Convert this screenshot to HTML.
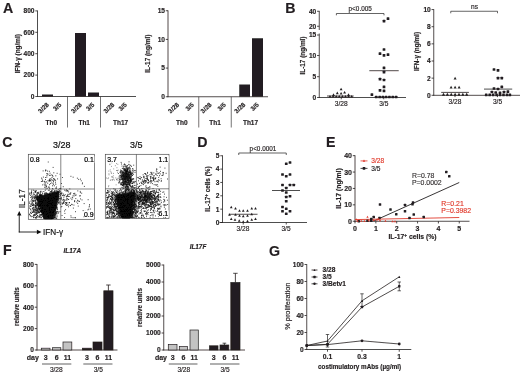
<!DOCTYPE html>
<html><head><meta charset="utf-8"><title>Figure</title>
<style>
html,body{margin:0;padding:0;background:#fff;}
body{width:520px;height:376px;overflow:hidden;}
svg{display:block;font-family:"Liberation Sans",sans-serif;}
</style></head><body>
<svg width="520" height="376" viewBox="0 0 520 376">
<defs><filter id="soft" x="0" y="0" width="520" height="376" filterUnits="userSpaceOnUse"><feGaussianBlur stdDeviation="0.38"/></filter></defs>
<rect width="520" height="376" fill="#fff"/>
<g filter="url(#soft)">
<text x="3.00" y="12.60" text-anchor="start" fill="#231f20" style="font-size:14.2px;font-weight:bold;" stroke="#231f20" stroke-width="0.16">A</text>
<text x="285.30" y="12.60" text-anchor="start" fill="#231f20" style="font-size:14.2px;font-weight:bold;" stroke="#231f20" stroke-width="0.16">B</text>
<text x="2.30" y="147.00" text-anchor="start" fill="#231f20" style="font-size:14.2px;font-weight:bold;" stroke="#231f20" stroke-width="0.16">C</text>
<text x="197.30" y="147.00" text-anchor="start" fill="#231f20" style="font-size:14.2px;font-weight:bold;" stroke="#231f20" stroke-width="0.16">D</text>
<text x="326.00" y="147.00" text-anchor="start" fill="#231f20" style="font-size:14.2px;font-weight:bold;" stroke="#231f20" stroke-width="0.16">E</text>
<text x="3.00" y="254.60" text-anchor="start" fill="#231f20" style="font-size:14.2px;font-weight:bold;" stroke="#231f20" stroke-width="0.16">F</text>
<text x="269.00" y="256.30" text-anchor="start" fill="#231f20" style="font-size:14.2px;font-weight:bold;" stroke="#231f20" stroke-width="0.16">G</text>
<line x1="37.50" y1="10.50" x2="37.50" y2="96.90" stroke="#231f20" stroke-width="0.8" />
<line x1="35.30" y1="96.50" x2="37.50" y2="96.50" stroke="#231f20" stroke-width="0.8" />
<text x="34.50" y="98.88" text-anchor="end" fill="#231f20" style="font-size:6.6px;font-weight:bold;" stroke="#231f20" stroke-width="0.16">0</text>
<line x1="35.30" y1="75.10" x2="37.50" y2="75.10" stroke="#231f20" stroke-width="0.8" />
<text x="34.50" y="77.48" text-anchor="end" fill="#231f20" style="font-size:6.6px;font-weight:bold;" stroke="#231f20" stroke-width="0.16">200</text>
<line x1="35.30" y1="53.70" x2="37.50" y2="53.70" stroke="#231f20" stroke-width="0.8" />
<text x="34.50" y="56.08" text-anchor="end" fill="#231f20" style="font-size:6.6px;font-weight:bold;" stroke="#231f20" stroke-width="0.16">400</text>
<line x1="35.30" y1="32.30" x2="37.50" y2="32.30" stroke="#231f20" stroke-width="0.8" />
<text x="34.50" y="34.68" text-anchor="end" fill="#231f20" style="font-size:6.6px;font-weight:bold;" stroke="#231f20" stroke-width="0.16">600</text>
<line x1="35.30" y1="10.90" x2="37.50" y2="10.90" stroke="#231f20" stroke-width="0.8" />
<text x="34.50" y="13.28" text-anchor="end" fill="#231f20" style="font-size:6.6px;font-weight:bold;" stroke="#231f20" stroke-width="0.16">800</text>
<line x1="37.10" y1="96.50" x2="136.00" y2="96.50" stroke="#231f20" stroke-width="0.8" />
<rect x="42.00" y="94.50" width="11.00" height="2.00" fill="#231f20" stroke="none" stroke-width="0"/>
<rect x="75.00" y="33.00" width="11.00" height="63.50" fill="#231f20" stroke="none" stroke-width="0"/>
<rect x="88.00" y="92.50" width="11.00" height="4.00" fill="#231f20" stroke="none" stroke-width="0"/>
<line x1="67.50" y1="96.50" x2="67.50" y2="127.50" stroke="#3a3637" stroke-width="0.7" />
<line x1="100.50" y1="96.50" x2="100.50" y2="127.50" stroke="#3a3637" stroke-width="0.7" />
<text x="20.04" y="53.70" text-anchor="middle" fill="#231f20" style="font-size:6.4px;font-weight:bold;" transform="rotate(-90 20.04 53.70)" stroke="#231f20" stroke-width="0.16">IFN-&#947; (ng/ml)</text>
<text x="49.40" y="105.30" text-anchor="end" fill="#231f20" style="font-size:6.3px;font-weight:bold;" transform="rotate(-43 49.40 105.30)" stroke="#231f20" stroke-width="0.16">3/28</text>
<text x="61.90" y="105.30" text-anchor="end" fill="#231f20" style="font-size:6.3px;font-weight:bold;" transform="rotate(-43 61.90 105.30)" stroke="#231f20" stroke-width="0.16">3/5</text>
<text x="82.40" y="105.30" text-anchor="end" fill="#231f20" style="font-size:6.3px;font-weight:bold;" transform="rotate(-43 82.40 105.30)" stroke="#231f20" stroke-width="0.16">3/28</text>
<text x="94.90" y="105.30" text-anchor="end" fill="#231f20" style="font-size:6.3px;font-weight:bold;" transform="rotate(-43 94.90 105.30)" stroke="#231f20" stroke-width="0.16">3/5</text>
<text x="114.90" y="105.30" text-anchor="end" fill="#231f20" style="font-size:6.3px;font-weight:bold;" transform="rotate(-43 114.90 105.30)" stroke="#231f20" stroke-width="0.16">3/28</text>
<text x="127.40" y="105.30" text-anchor="end" fill="#231f20" style="font-size:6.3px;font-weight:bold;" transform="rotate(-43 127.40 105.30)" stroke="#231f20" stroke-width="0.16">3/5</text>
<text x="51.30" y="124.70" text-anchor="middle" fill="#231f20" style="font-size:6.5px;font-weight:bold;" stroke="#231f20" stroke-width="0.16">Th0</text>
<text x="84.20" y="124.70" text-anchor="middle" fill="#231f20" style="font-size:6.5px;font-weight:bold;" stroke="#231f20" stroke-width="0.16">Th1</text>
<text x="120.60" y="124.70" text-anchor="middle" fill="#231f20" style="font-size:6.5px;font-weight:bold;" stroke="#231f20" stroke-width="0.16">Th17</text>
<line x1="168.00" y1="10.34" x2="168.00" y2="97.15" stroke="#231f20" stroke-width="0.8" />
<line x1="165.80" y1="96.75" x2="168.00" y2="96.75" stroke="#231f20" stroke-width="0.8" />
<text x="165.00" y="99.13" text-anchor="end" fill="#231f20" style="font-size:6.6px;font-weight:bold;" stroke="#231f20" stroke-width="0.16">0</text>
<line x1="165.80" y1="68.08" x2="168.00" y2="68.08" stroke="#231f20" stroke-width="0.8" />
<text x="165.00" y="70.46" text-anchor="end" fill="#231f20" style="font-size:6.6px;font-weight:bold;" stroke="#231f20" stroke-width="0.16">5</text>
<line x1="165.80" y1="39.41" x2="168.00" y2="39.41" stroke="#231f20" stroke-width="0.8" />
<text x="165.00" y="41.79" text-anchor="end" fill="#231f20" style="font-size:6.6px;font-weight:bold;" stroke="#231f20" stroke-width="0.16">10</text>
<line x1="165.80" y1="10.74" x2="168.00" y2="10.74" stroke="#231f20" stroke-width="0.8" />
<text x="165.00" y="13.12" text-anchor="end" fill="#231f20" style="font-size:6.6px;font-weight:bold;" stroke="#231f20" stroke-width="0.16">15</text>
<line x1="167.60" y1="96.75" x2="268.00" y2="96.75" stroke="#231f20" stroke-width="0.8" />
<rect x="239.25" y="84.50" width="10.75" height="12.25" fill="#231f20" stroke="none" stroke-width="0"/>
<rect x="252.00" y="38.25" width="11.00" height="58.50" fill="#231f20" stroke="none" stroke-width="0"/>
<line x1="198.75" y1="96.75" x2="198.75" y2="127.50" stroke="#3a3637" stroke-width="0.7" />
<line x1="231.25" y1="96.75" x2="231.25" y2="127.50" stroke="#3a3637" stroke-width="0.7" />
<text x="150.24" y="53.70" text-anchor="middle" fill="#231f20" style="font-size:6.4px;font-weight:bold;" transform="rotate(-90 150.24 53.70)" stroke="#231f20" stroke-width="0.16">IL-17 (ng/ml)</text>
<text x="179.60" y="105.30" text-anchor="end" fill="#231f20" style="font-size:6.3px;font-weight:bold;" transform="rotate(-43 179.60 105.30)" stroke="#231f20" stroke-width="0.16">3/28</text>
<text x="194.40" y="105.30" text-anchor="end" fill="#231f20" style="font-size:6.3px;font-weight:bold;" transform="rotate(-43 194.40 105.30)" stroke="#231f20" stroke-width="0.16">3/5</text>
<text x="212.10" y="105.30" text-anchor="end" fill="#231f20" style="font-size:6.3px;font-weight:bold;" transform="rotate(-43 212.10 105.30)" stroke="#231f20" stroke-width="0.16">3/28</text>
<text x="226.40" y="105.30" text-anchor="end" fill="#231f20" style="font-size:6.3px;font-weight:bold;" transform="rotate(-43 226.40 105.30)" stroke="#231f20" stroke-width="0.16">3/5</text>
<text x="245.80" y="105.30" text-anchor="end" fill="#231f20" style="font-size:6.3px;font-weight:bold;" transform="rotate(-43 245.80 105.30)" stroke="#231f20" stroke-width="0.16">3/28</text>
<text x="259.40" y="105.30" text-anchor="end" fill="#231f20" style="font-size:6.3px;font-weight:bold;" transform="rotate(-43 259.40 105.30)" stroke="#231f20" stroke-width="0.16">3/5</text>
<text x="181.80" y="124.70" text-anchor="middle" fill="#231f20" style="font-size:6.5px;font-weight:bold;" stroke="#231f20" stroke-width="0.16">Th0</text>
<text x="215.00" y="124.70" text-anchor="middle" fill="#231f20" style="font-size:6.5px;font-weight:bold;" stroke="#231f20" stroke-width="0.16">Th1</text>
<text x="250.50" y="124.70" text-anchor="middle" fill="#231f20" style="font-size:6.5px;font-weight:bold;" stroke="#231f20" stroke-width="0.16">Th17</text>
<line x1="319.25" y1="10.90" x2="319.25" y2="30.00" stroke="#231f20" stroke-width="0.8" />
<line x1="319.25" y1="33.50" x2="319.25" y2="97.90" stroke="#231f20" stroke-width="0.8" />
<line x1="317.05" y1="11.25" x2="319.25" y2="11.25" stroke="#231f20" stroke-width="0.8" />
<text x="316.25" y="13.65" text-anchor="end" fill="#231f20" style="font-size:6.6px;font-weight:bold;" stroke="#231f20" stroke-width="0.16">40</text>
<line x1="317.05" y1="26.25" x2="319.25" y2="26.25" stroke="#231f20" stroke-width="0.8" />
<text x="316.25" y="28.65" text-anchor="end" fill="#231f20" style="font-size:6.6px;font-weight:bold;" stroke="#231f20" stroke-width="0.16">20</text>
<line x1="317.05" y1="35.00" x2="319.25" y2="35.00" stroke="#231f20" stroke-width="0.8" />
<text x="316.25" y="37.40" text-anchor="end" fill="#231f20" style="font-size:6.6px;font-weight:bold;" stroke="#231f20" stroke-width="0.16">15</text>
<line x1="317.05" y1="55.50" x2="319.25" y2="55.50" stroke="#231f20" stroke-width="0.8" />
<text x="316.25" y="57.90" text-anchor="end" fill="#231f20" style="font-size:6.6px;font-weight:bold;" stroke="#231f20" stroke-width="0.16">10</text>
<line x1="317.05" y1="76.70" x2="319.25" y2="76.70" stroke="#231f20" stroke-width="0.8" />
<text x="316.25" y="79.10" text-anchor="end" fill="#231f20" style="font-size:6.6px;font-weight:bold;" stroke="#231f20" stroke-width="0.16">5</text>
<line x1="317.05" y1="97.50" x2="319.25" y2="97.50" stroke="#231f20" stroke-width="0.8" />
<text x="316.25" y="99.90" text-anchor="end" fill="#231f20" style="font-size:6.6px;font-weight:bold;" stroke="#231f20" stroke-width="0.16">0</text>
<line x1="318.85" y1="97.50" x2="406.00" y2="97.50" stroke="#231f20" stroke-width="0.8" />
<line x1="341.25" y1="97.50" x2="341.25" y2="99.30" stroke="#231f20" stroke-width="0.8" />
<line x1="383.75" y1="97.50" x2="383.75" y2="99.30" stroke="#231f20" stroke-width="0.8" />
<text x="341.25" y="105.80" text-anchor="middle" fill="#231f20" style="font-size:6.6px;" stroke="#231f20" stroke-width="0.16">3/28</text>
<text x="383.75" y="105.80" text-anchor="middle" fill="#231f20" style="font-size:6.6px;" stroke="#231f20" stroke-width="0.16">3/5</text>
<text x="304.74" y="55.50" text-anchor="middle" fill="#231f20" style="font-size:6.4px;font-weight:bold;" transform="rotate(-90 304.74 55.50)" stroke="#231f20" stroke-width="0.16">IL-17 (ng/ml)</text>
<polyline points="336.40,15.30 336.40,13.50 384.00,13.50 384.00,15.30" fill="none" stroke="#231f20" stroke-width="0.7"/>
<text x="360.20" y="11.20" text-anchor="middle" fill="#231f20" style="font-size:6.4px;" stroke="#231f20" stroke-width="0.16">p&lt;0.005</text>
<line x1="327.00" y1="96.00" x2="353.70" y2="96.00" stroke="#231f20" stroke-width="0.8" />
<line x1="369.30" y1="70.70" x2="398.70" y2="70.70" stroke="#231f20" stroke-width="0.8" />
<polygon points="330.00,94.89 328.55,97.51 331.45,97.51" fill="#231f20"/>
<polygon points="333.10,94.89 331.65,97.51 334.55,97.51" fill="#231f20"/>
<polygon points="336.20,94.89 334.75,97.51 337.65,97.51" fill="#231f20"/>
<polygon points="339.30,94.89 337.85,97.51 340.75,97.51" fill="#231f20"/>
<polygon points="342.40,94.89 340.95,97.51 343.85,97.51" fill="#231f20"/>
<polygon points="345.50,94.89 344.05,97.51 346.95,97.51" fill="#231f20"/>
<polygon points="348.60,94.89 347.15,97.51 350.05,97.51" fill="#231f20"/>
<polygon points="351.70,94.89 350.25,97.51 353.15,97.51" fill="#231f20"/>
<polygon points="341.10,87.69 339.65,90.31 342.55,90.31" fill="#231f20"/>
<polygon points="337.30,91.59 335.85,94.21 338.75,94.21" fill="#231f20"/>
<polygon points="341.10,91.99 339.65,94.61 342.55,94.61" fill="#231f20"/>
<polygon points="344.60,90.89 343.15,93.51 346.05,93.51" fill="#231f20"/>
<polygon points="333.50,93.29 332.05,95.91 334.95,95.91" fill="#231f20"/>
<polygon points="348.50,93.29 347.05,95.91 349.95,95.91" fill="#231f20"/>
<rect x="382.65" y="48.15" width="2.7" height="2.7" rx="0.5" fill="#231f20"/>
<rect x="378.65" y="52.35" width="2.7" height="2.7" rx="0.5" fill="#231f20"/>
<rect x="382.65" y="54.05" width="2.7" height="2.7" rx="0.5" fill="#231f20"/>
<rect x="386.65" y="53.25" width="2.7" height="2.7" rx="0.5" fill="#231f20"/>
<rect x="382.65" y="66.45" width="2.7" height="2.7" rx="0.5" fill="#231f20"/>
<rect x="382.65" y="70.75" width="2.7" height="2.7" rx="0.5" fill="#231f20"/>
<rect x="378.65" y="77.85" width="2.7" height="2.7" rx="0.5" fill="#231f20"/>
<rect x="382.65" y="78.65" width="2.7" height="2.7" rx="0.5" fill="#231f20"/>
<rect x="382.65" y="85.45" width="2.7" height="2.7" rx="0.5" fill="#231f20"/>
<rect x="378.65" y="88.95" width="2.7" height="2.7" rx="0.5" fill="#231f20"/>
<rect x="382.65" y="89.45" width="2.7" height="2.7" rx="0.5" fill="#231f20"/>
<rect x="370.55" y="93.25" width="2.7" height="2.7" rx="0.5" fill="#231f20"/>
<rect x="382.65" y="19.75" width="2.7" height="2.7" rx="0.5" fill="#231f20"/>
<rect x="386.65" y="17.35" width="2.7" height="2.7" rx="0.5" fill="#231f20"/>
<rect x="374.85" y="95.65" width="2.7" height="2.7" rx="0.5" fill="#231f20"/>
<rect x="378.35" y="95.65" width="2.7" height="2.7" rx="0.5" fill="#231f20"/>
<rect x="381.55" y="95.65" width="2.7" height="2.7" rx="0.5" fill="#231f20"/>
<rect x="384.75" y="95.65" width="2.7" height="2.7" rx="0.5" fill="#231f20"/>
<rect x="388.05" y="95.65" width="2.7" height="2.7" rx="0.5" fill="#231f20"/>
<rect x="391.45" y="95.65" width="2.7" height="2.7" rx="0.5" fill="#231f20"/>
<rect x="394.75" y="95.65" width="2.7" height="2.7" rx="0.5" fill="#231f20"/>
<line x1="433.75" y1="9.15" x2="433.75" y2="95.70" stroke="#231f20" stroke-width="0.8" />
<line x1="431.55" y1="95.30" x2="433.75" y2="95.30" stroke="#231f20" stroke-width="0.8" />
<text x="430.75" y="97.68" text-anchor="end" fill="#231f20" style="font-size:6.6px;font-weight:bold;" stroke="#231f20" stroke-width="0.16">0</text>
<line x1="431.55" y1="78.15" x2="433.75" y2="78.15" stroke="#231f20" stroke-width="0.8" />
<text x="430.75" y="80.53" text-anchor="end" fill="#231f20" style="font-size:6.6px;font-weight:bold;" stroke="#231f20" stroke-width="0.16">2</text>
<line x1="431.55" y1="61.00" x2="433.75" y2="61.00" stroke="#231f20" stroke-width="0.8" />
<text x="430.75" y="63.38" text-anchor="end" fill="#231f20" style="font-size:6.6px;font-weight:bold;" stroke="#231f20" stroke-width="0.16">4</text>
<line x1="431.55" y1="43.85" x2="433.75" y2="43.85" stroke="#231f20" stroke-width="0.8" />
<text x="430.75" y="46.23" text-anchor="end" fill="#231f20" style="font-size:6.6px;font-weight:bold;" stroke="#231f20" stroke-width="0.16">6</text>
<line x1="431.55" y1="26.70" x2="433.75" y2="26.70" stroke="#231f20" stroke-width="0.8" />
<text x="430.75" y="29.08" text-anchor="end" fill="#231f20" style="font-size:6.6px;font-weight:bold;" stroke="#231f20" stroke-width="0.16">8</text>
<line x1="431.55" y1="9.55" x2="433.75" y2="9.55" stroke="#231f20" stroke-width="0.8" />
<text x="430.75" y="11.93" text-anchor="end" fill="#231f20" style="font-size:6.6px;font-weight:bold;" stroke="#231f20" stroke-width="0.16">10</text>
<line x1="433.35" y1="95.30" x2="520.00" y2="95.30" stroke="#231f20" stroke-width="0.8" />
<line x1="455.00" y1="95.30" x2="455.00" y2="97.10" stroke="#231f20" stroke-width="0.8" />
<line x1="497.50" y1="95.30" x2="497.50" y2="97.10" stroke="#231f20" stroke-width="0.8" />
<text x="455.00" y="103.60" text-anchor="middle" fill="#231f20" style="font-size:6.6px;" stroke="#231f20" stroke-width="0.16">3/28</text>
<text x="497.50" y="103.60" text-anchor="middle" fill="#231f20" style="font-size:6.6px;" stroke="#231f20" stroke-width="0.16">3/5</text>
<text x="419.24" y="51.50" text-anchor="middle" fill="#231f20" style="font-size:6.4px;font-weight:bold;" transform="rotate(-90 419.24 51.50)" stroke="#231f20" stroke-width="0.16">IFN-&#947; (ng/ml)</text>
<polyline points="450.75,13.25 450.75,11.25 497.50,11.25 497.50,13.25" fill="none" stroke="#231f20" stroke-width="0.7"/>
<text x="474.50" y="9.00" text-anchor="middle" fill="#231f20" style="font-size:6.6px;" stroke="#231f20" stroke-width="0.16">ns</text>
<line x1="441.20" y1="92.40" x2="468.90" y2="92.40" stroke="#231f20" stroke-width="0.8" />
<line x1="484.00" y1="89.10" x2="512.20" y2="89.10" stroke="#231f20" stroke-width="0.8" />
<polygon points="455.10,76.85 453.60,79.55 456.60,79.55" fill="#231f20"/>
<polygon points="451.10,85.85 449.60,88.55 452.60,88.55" fill="#231f20"/>
<polygon points="455.10,85.85 453.60,88.55 456.60,88.55" fill="#231f20"/>
<polygon points="459.10,85.85 457.60,88.55 460.60,88.55" fill="#231f20"/>
<polygon points="443.50,92.72 441.85,95.69 445.15,95.69" fill="#231f20"/>
<polygon points="447.37,92.72 445.72,95.69 449.02,95.69" fill="#231f20"/>
<polygon points="451.24,92.72 449.59,95.69 452.89,95.69" fill="#231f20"/>
<polygon points="455.11,92.72 453.46,95.69 456.76,95.69" fill="#231f20"/>
<polygon points="458.98,92.72 457.33,95.69 460.63,95.69" fill="#231f20"/>
<polygon points="462.85,92.72 461.20,95.69 464.50,95.69" fill="#231f20"/>
<polygon points="466.72,92.72 465.07,95.69 468.37,95.69" fill="#231f20"/>
<rect x="492.65" y="68.15" width="2.7" height="2.7" rx="0.5" fill="#231f20"/>
<rect x="496.65" y="69.05" width="2.7" height="2.7" rx="0.5" fill="#231f20"/>
<rect x="496.65" y="76.85" width="2.7" height="2.7" rx="0.5" fill="#231f20"/>
<rect x="500.45" y="76.85" width="2.7" height="2.7" rx="0.5" fill="#231f20"/>
<rect x="500.45" y="85.45" width="2.7" height="2.7" rx="0.5" fill="#231f20"/>
<rect x="492.65" y="87.15" width="2.7" height="2.7" rx="0.5" fill="#231f20"/>
<rect x="496.65" y="87.65" width="2.7" height="2.7" rx="0.5" fill="#231f20"/>
<rect x="490.55" y="90.65" width="2.7" height="2.7" rx="0.5" fill="#231f20"/>
<rect x="494.35" y="91.15" width="2.7" height="2.7" rx="0.5" fill="#231f20"/>
<rect x="498.65" y="91.55" width="2.7" height="2.7" rx="0.5" fill="#231f20"/>
<rect x="502.65" y="90.65" width="2.7" height="2.7" rx="0.5" fill="#231f20"/>
<rect x="506.55" y="90.35" width="2.7" height="2.7" rx="0.5" fill="#231f20"/>
<rect x="484.90" y="93.60" width="2.6" height="2.6" rx="0.5" fill="#231f20"/>
<rect x="488.40" y="93.60" width="2.6" height="2.6" rx="0.5" fill="#231f20"/>
<rect x="491.80" y="93.60" width="2.6" height="2.6" rx="0.5" fill="#231f20"/>
<rect x="495.30" y="93.60" width="2.6" height="2.6" rx="0.5" fill="#231f20"/>
<rect x="498.70" y="93.60" width="2.6" height="2.6" rx="0.5" fill="#231f20"/>
<rect x="502.20" y="93.60" width="2.6" height="2.6" rx="0.5" fill="#231f20"/>
<rect x="505.70" y="93.60" width="2.6" height="2.6" rx="0.5" fill="#231f20"/>
<rect x="508.60" y="93.60" width="2.6" height="2.6" rx="0.5" fill="#231f20"/>
<polygon points="36.4,197.0 59.3,191.4 52.4,219.0 44.4,219.0" fill="#0c0c0c" stroke="#0c0c0c" stroke-width="0.8" stroke-linejoin="round"/>
<path d="M44.0 198.3h0.85M50.2 203.7h0.85M41.0 206.7h0.85M48.2 215.5h0.85M48.2 217.0h0.85M59.2 191.9h0.85M39.5 201.3h0.85M42.8 208.3h0.85M49.8 195.9h0.85M50.3 205.9h0.85M47.7 199.7h0.85M41.7 208.6h0.85M53.0 200.3h0.85M48.3 214.4h0.85M42.4 209.8h0.85M54.2 198.8h0.85M51.2 202.4h0.85M49.9 211.5h0.85M50.1 217.8h0.85M48.3 211.2h0.85M43.1 199.6h0.85M38.7 203.7h0.85M38.5 205.7h0.85M51.3 216.8h0.85M47.7 216.0h0.85M41.9 202.9h0.85M51.1 200.4h0.85M48.3 207.9h0.85M48.2 209.1h0.85M54.5 211.3h0.85M47.8 205.7h0.85M38.5 199.0h0.85M45.1 196.4h0.85M43.9 205.1h0.85M50.3 198.6h0.85M47.6 194.3h0.85M48.1 206.6h0.85M45.4 200.7h0.85M43.4 217.8h0.85M45.0 194.0h0.85M52.7 212.2h0.85M42.1 213.3h0.85M46.2 196.7h0.85M53.1 211.7h0.85M43.8 208.0h0.85M39.0 205.2h0.85M59.4 202.3h0.85M56.2 202.6h0.85M39.8 198.5h0.85M52.0 203.0h0.85M44.9 210.1h0.85M53.1 207.5h0.85M47.8 214.0h0.85M47.4 216.9h0.85M42.3 198.3h0.85M46.6 214.8h0.85M46.1 208.4h0.85M51.2 208.8h0.85M48.1 215.0h0.85M43.5 204.3h0.85M46.2 207.6h0.85M43.1 204.5h0.85M45.9 217.0h0.85M47.6 194.9h0.85M43.6 216.0h0.85M50.7 208.9h0.85M50.3 214.7h0.85M43.5 200.4h0.85M50.3 212.2h0.85M47.7 206.3h0.85M44.1 208.0h0.85M51.3 215.4h0.85M49.3 216.9h0.85M42.9 206.8h0.85M43.3 208.7h0.85M43.6 211.9h0.85M49.2 206.4h0.85M41.2 205.9h0.85M42.5 203.0h0.85M50.2 205.1h0.85M53.8 208.2h0.85M43.0 214.8h0.85M48.1 215.9h0.85M43.2 216.2h0.85M38.3 196.4h0.85M42.9 215.7h0.85M46.6 216.9h0.85M44.2 201.7h0.85M42.0 198.4h0.85M40.8 200.3h0.85M44.6 201.3h0.85M47.8 198.8h0.85M42.0 194.2h0.85M43.8 206.6h0.85M50.7 204.0h0.85M45.0 203.4h0.85M46.1 213.1h0.85M47.0 203.4h0.85M43.1 214.0h0.85M45.4 213.9h0.85M43.4 202.6h0.85M42.2 209.9h0.85M55.2 210.2h0.85M46.1 203.7h0.85M48.2 208.3h0.85M39.8 203.5h0.85M37.2 198.2h0.85M49.4 205.0h0.85M49.5 216.7h0.85M57.6 193.6h0.85M45.1 214.1h0.85M51.9 215.4h0.85M49.2 212.4h0.85M48.3 214.3h0.85M42.7 197.4h0.85M42.3 214.6h0.85M49.7 210.9h0.85M50.0 212.3h0.85M51.3 193.9h0.85M39.8 201.6h0.85M49.0 218.4h0.85M48.2 209.3h0.85M51.6 196.2h0.85M52.3 200.7h0.85M38.7 200.8h0.85M49.7 200.6h0.85M47.9 196.7h0.85M54.2 217.4h0.85M50.0 218.5h0.85M43.4 207.9h0.85M54.7 204.5h0.85M45.5 216.6h0.85M39.3 208.2h0.85M40.6 206.5h0.85M42.8 212.9h0.85M54.4 210.5h0.85M47.8 204.4h0.85M45.7 205.7h0.85M43.4 218.5h0.85M42.3 201.8h0.85M49.2 216.2h0.85M51.2 216.1h0.85M52.6 192.7h0.85M51.5 210.1h0.85M55.6 195.5h0.85M46.9 212.7h0.85M49.6 200.6h0.85M41.9 202.7h0.85M51.8 197.1h0.85M47.1 198.5h0.85M44.6 198.3h0.85M49.0 214.7h0.85M45.9 208.3h0.85M40.5 202.7h0.85M48.9 209.1h0.85M42.4 202.2h0.85M53.2 214.7h0.85M43.7 211.6h0.85M47.4 195.7h0.85M52.7 215.0h0.85M37.8 199.6h0.85M52.2 209.5h0.85M49.9 208.6h0.85M45.2 216.2h0.85M39.4 200.4h0.85M37.6 197.7h0.85M45.6 200.1h0.85M46.9 205.7h0.85M54.3 205.9h0.85M53.8 211.2h0.85M47.3 211.4h0.85M49.9 217.4h0.85M45.0 204.3h0.85M50.8 212.1h0.85M57.0 199.2h0.85M44.1 216.7h0.85M48.1 200.3h0.85M42.9 203.7h0.85M51.4 218.4h0.85M45.5 217.2h0.85M50.0 203.9h0.85M40.0 197.4h0.85M58.4 194.8h0.85M47.4 213.4h0.85M38.8 209.5h0.85M43.0 204.1h0.85M47.4 214.0h0.85M38.6 197.7h0.85M50.1 217.3h0.85M54.3 210.7h0.85M46.9 201.8h0.85M54.1 209.0h0.85M47.2 205.8h0.85M44.3 201.6h0.85M57.3 194.6h0.85M51.0 212.2h0.85M45.0 203.3h0.85M44.7 213.8h0.85M39.5 212.6h0.85M41.5 206.2h0.85M42.1 204.0h0.85M50.5 214.4h0.85M53.1 199.6h0.85M52.7 199.1h0.85M43.9 215.8h0.85M52.9 209.8h0.85M49.7 211.9h0.85M40.2 203.9h0.85M56.1 207.0h0.85M53.9 206.6h0.85M55.8 193.5h0.85M43.7 205.1h0.85M44.2 208.8h0.85M38.8 203.4h0.85M44.7 198.4h0.85M37.2 200.0h0.85M52.0 197.6h0.85M45.1 204.8h0.85M44.5 209.8h0.85M55.5 198.3h0.85M45.1 216.2h0.85M48.9 198.6h0.85M51.3 217.7h0.85M46.8 208.0h0.85M49.8 218.2h0.85M51.6 218.4h0.85M57.0 201.3h0.85M54.8 195.7h0.85M47.8 214.5h0.85M41.9 204.9h0.85M40.3 199.0h0.85M41.5 208.9h0.85M53.6 194.4h0.85M48.7 202.2h0.85M45.8 211.2h0.85M40.6 210.6h0.85M50.4 213.4h0.85M48.4 198.1h0.85M41.0 206.4h0.85M50.6 193.1h0.85M46.8 195.5h0.85M60.2 191.7h0.85M52.2 217.9h0.85M49.0 217.5h0.85M52.2 217.7h0.85M54.1 196.3h0.85M51.3 196.2h0.85M41.2 201.9h0.85M40.3 203.6h0.85M51.3 218.4h0.85M41.5 207.4h0.85M51.1 205.6h0.85M44.2 217.8h0.85M55.5 199.4h0.85M45.8 213.7h0.85M53.7 193.1h0.85M47.8 217.5h0.85M44.3 195.5h0.85M47.0 204.3h0.85M40.6 201.2h0.85M40.3 205.6h0.85M43.5 208.8h0.85M52.3 208.1h0.85M44.3 200.3h0.85M51.6 213.8h0.85M40.5 210.7h0.85M52.6 203.9h0.85M47.6 217.2h0.85M48.4 201.4h0.85M41.7 208.8h0.85M42.0 209.9h0.85M53.9 198.2h0.85M44.4 214.4h0.85M43.2 214.0h0.85M52.1 205.3h0.85M40.7 198.6h0.85M50.1 213.9h0.85M49.4 203.2h0.85M46.0 210.4h0.85M56.4 193.5h0.85M50.5 216.3h0.85M55.1 204.0h0.85M47.9 207.8h0.85M47.1 212.4h0.85M46.4 211.8h0.85M47.0 211.7h0.85M42.4 198.8h0.85M45.1 198.5h0.85M50.0 207.4h0.85M40.4 211.8h0.85M54.0 217.2h0.85M52.8 218.1h0.85M40.7 195.1h0.85M48.9 213.7h0.85M39.4 197.7h0.85M46.2 205.4h0.85M44.8 213.2h0.85M56.4 203.8h0.85M38.0 206.9h0.85M45.4 211.7h0.85M56.1 193.8h0.85M38.3 197.6h0.85M37.9 207.9h0.85M41.7 209.5h0.85M52.7 207.3h0.85M42.8 211.9h0.85M49.2 203.4h0.85M56.6 194.1h0.85M43.8 201.0h0.85M47.3 217.7h0.85M48.7 210.8h0.85M46.8 205.1h0.85M50.9 213.7h0.85M53.2 209.0h0.85M55.9 199.6h0.85M50.9 215.6h0.85M42.7 203.1h0.85M46.7 199.3h0.85M53.5 211.9h0.85M44.9 211.2h0.85M43.4 197.1h0.85M50.1 204.9h0.85M41.3 211.3h0.85M52.7 202.5h0.85M45.9 197.4h0.85M52.9 209.4h0.85M49.6 206.8h0.85M41.8 203.7h0.85M49.1 200.6h0.85M48.7 201.1h0.85M44.3 209.7h0.85M46.0 213.4h0.85M40.3 208.8h0.85M49.2 208.5h0.85M49.9 216.1h0.85M44.5 197.8h0.85M38.1 207.2h0.85M45.6 203.7h0.85M55.2 208.6h0.85M47.5 201.7h0.85M50.6 209.6h0.85M50.6 214.3h0.85M49.6 195.9h0.85M53.9 200.1h0.85M48.7 199.2h0.85M43.3 202.7h0.85M46.5 209.0h0.85M55.1 216.0h0.85M54.5 215.2h0.85M54.3 194.1h0.85M51.6 200.2h0.85M44.8 214.4h0.85M54.2 215.9h0.85M48.0 210.9h0.85M52.0 216.8h0.85M45.9 213.6h0.85M49.1 201.3h0.85M47.0 195.8h0.85M45.3 205.9h0.85M41.4 215.9h0.85M49.0 215.9h0.85M56.6 192.2h0.85M40.3 207.4h0.85M45.4 218.5h0.85M56.4 191.0h0.85M45.6 216.9h0.85M48.9 214.7h0.85M47.6 207.1h0.85M52.5 203.1h0.85M47.0 216.3h0.85M44.4 204.5h0.85M52.0 214.0h0.85M55.0 207.1h0.85M39.7 200.2h0.85M51.7 212.5h0.85M49.2 207.7h0.85M50.8 197.3h0.85M53.7 195.7h0.85M50.2 215.6h0.85M50.9 212.9h0.85M44.2 206.7h0.85M51.3 217.9h0.85M38.9 197.7h0.85M56.3 204.1h0.85M50.8 217.2h0.85M45.4 196.4h0.85M42.1 196.6h0.85M39.3 195.7h0.85M54.9 198.5h0.85M50.4 214.7h0.85M46.7 212.4h0.85M46.2 218.0h0.85M42.0 210.8h0.85M47.4 215.0h0.85M46.3 197.1h0.85M49.0 213.1h0.85M45.4 209.4h0.85M49.3 213.0h0.85M52.8 202.6h0.85M49.5 216.2h0.85M52.4 213.7h0.85M46.1 217.8h0.85M49.7 215.3h0.85M36.9 203.7h0.85M54.0 216.7h0.85M50.4 215.0h0.85M50.9 211.0h0.85M42.2 196.3h0.85M45.7 212.8h0.85M48.7 211.0h0.85M45.8 211.7h0.85M43.9 213.6h0.85M50.4 215.3h0.85M48.2 209.7h0.85M43.1 213.5h0.85M46.9 207.6h0.85M58.2 203.0h0.85M52.8 196.0h0.85M52.5 195.5h0.85M52.9 204.8h0.85M55.0 203.1h0.85M51.1 218.4h0.85M42.3 200.3h0.85M45.6 216.6h0.85M55.7 192.8h0.85M48.9 216.7h0.85M51.1 197.5h0.85M41.6 198.0h0.85M52.4 216.0h0.85M49.3 208.1h0.85M38.8 196.6h0.85M49.3 199.6h0.85M40.9 204.4h0.85M47.6 199.2h0.85M51.7 192.6h0.85M52.9 217.2h0.85M45.8 215.7h0.85M47.9 201.4h0.85M50.7 197.6h0.85M53.0 209.6h0.85M44.8 206.1h0.85M54.9 202.6h0.85M43.6 215.8h0.85M47.5 202.3h0.85M40.9 202.7h0.85M52.5 200.5h0.85M53.6 201.6h0.85M53.7 207.8h0.85M55.4 197.5h0.85M44.4 212.8h0.85M37.5 197.5h0.85M41.8 198.9h0.85M52.8 208.4h0.85M51.9 203.1h0.85M55.1 199.0h0.85M49.0 193.8h0.85M56.1 201.7h0.85M43.9 200.2h0.85M39.0 209.0h0.85M44.7 210.0h0.85M44.3 213.7h0.85M45.6 215.7h0.85M48.1 207.3h0.85M57.4 198.3h0.85M46.2 214.8h0.85M53.8 198.4h0.85M49.1 206.3h0.85M53.4 211.6h0.85M47.9 207.3h0.85M43.6 196.5h0.85M43.1 208.4h0.85M50.2 218.3h0.85M50.6 208.4h0.85M53.1 202.8h0.85M48.9 215.6h0.85M53.1 215.5h0.85M49.8 202.7h0.85M47.9 207.0h0.85M55.4 212.1h0.85M51.6 215.7h0.85M50.2 199.2h0.85M48.0 216.4h0.85M49.5 204.5h0.85M47.0 211.9h0.85M54.9 207.3h0.85M49.2 198.2h0.85M44.3 206.0h0.85M43.1 207.2h0.85M49.8 212.3h0.85M46.4 206.9h0.85M44.6 202.7h0.85M47.8 209.1h0.85M53.5 198.0h0.85M41.4 196.6h0.85M38.4 206.2h0.85M42.6 200.9h0.85M40.6 205.5h0.85M50.2 213.7h0.85M51.2 210.7h0.85M52.4 210.9h0.85M56.5 190.4h0.85M47.1 217.4h0.85M50.1 214.8h0.85M47.1 204.6h0.85M45.6 209.1h0.85M49.7 215.0h0.85M43.3 204.4h0.85M50.7 195.4h0.85M52.8 214.4h0.85M48.1 216.8h0.85M51.2 205.2h0.85M50.1 204.7h0.85M46.3 216.2h0.85M39.6 205.9h0.85M50.6 215.6h0.85M48.7 209.8h0.85M49.2 215.5h0.85M52.7 214.2h0.85M55.0 206.8h0.85M55.2 204.3h0.85M48.6 207.5h0.85M47.3 212.4h0.85M48.8 195.8h0.85M47.0 211.7h0.85M52.6 207.1h0.85M47.9 209.9h0.85M47.4 218.3h0.85M40.2 199.2h0.85M37.2 199.9h0.85M49.7 214.2h0.85M52.6 199.9h0.85M44.2 203.9h0.85M48.2 203.0h0.85M41.0 214.8h0.85M47.4 210.1h0.85M51.5 217.8h0.85M51.0 198.4h0.85M51.2 201.4h0.85M48.1 214.7h0.85M46.2 199.3h0.85M47.9 196.5h0.85M47.6 198.2h0.85M45.5 202.0h0.85M41.3 195.4h0.85M44.9 212.9h0.85M52.5 196.7h0.85M52.8 198.5h0.85M47.4 200.0h0.85M53.4 198.7h0.85M44.7 200.3h0.85M54.0 195.3h0.85M44.1 215.0h0.85M48.8 202.0h0.85M44.1 217.4h0.85M41.4 210.4h0.85M43.1 197.8h0.85M43.4 214.0h0.85M55.0 211.0h0.85M43.2 202.9h0.85M49.2 203.4h0.85M52.6 198.5h0.85M52.9 200.2h0.85M51.5 211.6h0.85M40.8 201.9h0.85M39.0 203.0h0.85M52.8 206.5h0.85M47.4 211.3h0.85M52.0 213.4h0.85M54.1 208.8h0.85M44.7 217.3h0.85M52.8 193.7h0.85M50.8 215.1h0.85M57.4 202.4h0.85M49.8 213.4h0.85M41.2 213.0h0.85M56.9 194.9h0.85M50.4 215.7h0.85M53.5 208.8h0.85M39.5 205.2h0.85M43.4 196.5h0.85M41.4 201.2h0.85M54.9 204.1h0.85M41.7 211.3h0.85M49.8 214.8h0.85M50.0 202.7h0.85M40.2 203.6h0.85M40.5 205.0h0.85M46.1 198.7h0.85M45.3 199.1h0.85M56.0 213.2h0.85M56.4 208.0h0.85M46.5 199.2h0.85M51.5 207.0h0.85M50.9 200.6h0.85M43.5 213.0h0.85M45.8 208.0h0.85M45.7 212.0h0.85M45.0 198.5h0.85M44.4 210.1h0.85M40.3 195.8h0.85M55.0 209.3h0.85M48.7 207.6h0.85M49.3 195.0h0.85M48.2 218.5h0.85M46.7 199.1h0.85M52.1 213.7h0.85M43.9 210.9h0.85M44.1 203.3h0.85M55.8 197.8h0.85M49.4 203.2h0.85M48.3 205.6h0.85M53.3 217.8h0.85M53.9 192.3h0.85M46.8 208.4h0.85M49.1 203.5h0.85M37.8 199.7h0.85M41.5 212.7h0.85M45.6 207.0h0.85M41.5 199.3h0.85M44.4 216.5h0.85M46.8 200.4h0.85M45.5 210.2h0.85M49.4 196.0h0.85M45.6 215.0h0.85M55.6 195.6h0.85M43.4 215.7h0.85M55.0 206.3h0.85M54.1 195.5h0.85M41.6 211.2h0.85M53.0 202.8h0.85M56.0 205.8h0.85M43.1 215.2h0.85M51.2 215.4h0.85M50.4 217.2h0.85M47.7 195.4h0.85M44.3 216.4h0.85M44.1 204.7h0.85M41.1 198.4h0.85M43.0 210.8h0.85M46.7 197.1h0.85M50.6 214.0h0.85M41.8 198.7h0.85M55.7 195.8h0.85M50.3 203.4h0.85M55.3 201.4h0.85M41.0 206.9h0.85M50.5 196.0h0.85M46.7 209.4h0.85M41.0 210.0h0.85M51.0 201.9h0.85M41.3 208.3h0.85M56.7 191.5h0.85M51.2 211.5h0.85M46.2 199.0h0.85M53.0 212.6h0.85M50.9 205.2h0.85M50.1 204.6h0.85M42.6 201.7h0.85M42.0 216.6h0.85M49.5 201.9h0.85M44.1 200.9h0.85M57.5 200.1h0.85M35.8 198.6h0.85M44.1 214.8h0.85M42.2 206.8h0.85M43.0 197.0h0.85M51.2 199.3h0.85M48.8 214.8h0.85M49.9 217.7h0.85M51.0 216.3h0.85M44.9 206.9h0.85M55.2 199.7h0.85M50.0 202.6h0.85M42.6 206.5h0.85M44.7 206.3h0.85M48.6 193.9h0.85M56.9 191.5h0.85M44.7 198.0h0.85M54.2 193.7h0.85M46.8 208.0h0.85M49.8 200.9h0.85M50.9 211.7h0.85M48.7 217.7h0.85M48.1 209.2h0.85M57.5 197.1h0.85M39.6 200.4h0.85M50.3 198.0h0.85M40.6 197.1h0.85M40.5 195.7h0.85M54.7 204.2h0.85M51.6 207.4h0.85M45.4 213.8h0.85M49.0 216.4h0.85M49.4 216.4h0.85M42.6 203.1h0.85M42.7 198.4h0.85M45.6 215.1h0.85M50.7 215.6h0.85M49.3 218.1h0.85M47.1 203.8h0.85M44.0 218.2h0.85M58.3 193.6h0.85M46.2 198.4h0.85M39.5 199.7h0.85M46.3 214.2h0.85M58.9 194.9h0.85M51.1 194.1h0.85M50.7 197.7h0.85M47.7 217.2h0.85M43.0 207.9h0.85M43.4 213.0h0.85M47.0 206.3h0.85M47.7 216.7h0.85M43.3 200.2h0.85M39.6 209.0h0.85M44.0 193.3h0.85M47.3 204.0h0.85M51.8 212.1h0.85M46.2 198.2h0.85M45.8 201.4h0.85M52.5 213.0h0.85M50.5 200.1h0.85M49.1 218.3h0.85M49.7 203.4h0.85M44.5 209.0h0.85M49.8 202.9h0.85M50.0 200.2h0.85M44.1 213.0h0.85M46.3 211.9h0.85M43.7 198.3h0.85M48.9 206.3h0.85M42.9 215.4h0.85M51.8 215.9h0.85M47.4 214.3h0.85M42.4 202.7h0.85M52.2 206.5h0.85M47.0 217.5h0.85M48.1 213.2h0.85M50.2 202.5h0.85M45.5 203.3h0.85M44.7 209.4h0.85M51.6 201.1h0.85M53.3 192.7h0.85M43.6 203.8h0.85M43.8 196.4h0.85M50.3 201.8h0.85M52.1 203.0h0.85M58.6 196.6h0.85M46.3 211.4h0.85M50.9 202.5h0.85M54.8 212.7h0.85M48.3 204.5h0.85M46.6 216.9h0.85M47.3 212.6h0.85M44.9 194.1h0.85M52.1 213.6h0.85M44.2 215.3h0.85M53.8 208.3h0.85M53.5 206.3h0.85M49.6 208.8h0.85M54.8 197.5h0.85M45.5 199.9h0.85M49.4 205.0h0.85M53.0 212.8h0.85M40.0 196.8h0.85M46.4 205.8h0.85M55.5 197.0h0.85M38.4 203.4h0.85M48.8 204.4h0.85M46.3 210.4h0.85M45.3 218.4h0.85M40.5 206.0h0.85M55.1 193.6h0.85M54.8 205.5h0.85M50.2 211.5h0.85M55.8 195.7h0.85M40.1 195.2h0.85M47.0 213.7h0.85M53.8 197.9h0.85M43.2 216.3h0.85M48.8 201.5h0.85M55.9 200.0h0.85M46.9 212.1h0.85M41.4 205.5h0.85M52.0 195.5h0.85M53.4 218.3h0.85M44.3 202.0h0.85M54.4 194.6h0.85M50.3 207.8h0.85M46.7 215.7h0.85M54.4 190.6h0.85M46.7 217.3h0.85M45.4 208.2h0.85M44.5 214.6h0.85M46.8 195.5h0.85M51.3 205.7h0.85M44.1 212.4h0.85M45.1 203.3h0.85M54.4 205.5h0.85M54.2 195.3h0.85M42.9 208.4h0.85M48.6 204.6h0.85M41.9 201.6h0.85M51.7 216.6h0.85M46.2 212.9h0.85M45.7 214.1h0.85M38.9 205.4h0.85M55.4 193.8h0.85M49.2 213.0h0.85M45.0 209.6h0.85M50.2 210.0h0.85M53.3 204.6h0.85M55.0 203.3h0.85M44.9 212.1h0.85M45.0 199.4h0.85M49.5 218.4h0.85M48.4 203.6h0.85M52.2 211.3h0.85M54.0 214.5h0.85M46.9 198.5h0.85M54.6 193.5h0.85M54.3 209.9h0.85M50.7 202.5h0.85M56.5 199.7h0.85M59.8 194.4h0.85M45.8 216.1h0.85M44.1 200.4h0.85M48.6 213.1h0.85M54.4 209.7h0.85M44.3 194.7h0.85M47.2 207.2h0.85M41.1 207.8h0.85M52.1 202.6h0.85M43.1 202.4h0.85M51.2 201.6h0.85M50.0 202.4h0.85M45.9 212.5h0.85M43.3 201.9h0.85M43.4 214.5h0.85M48.1 206.4h0.85M58.2 196.0h0.85M50.0 197.1h0.85M47.8 215.6h0.85M43.4 207.6h0.85M48.9 216.0h0.85M39.1 211.8h0.85M45.5 209.9h0.85M49.9 210.0h0.85M48.6 208.3h0.85M53.0 211.3h0.85M47.1 197.6h0.85M42.8 209.4h0.85M46.3 212.0h0.85M51.5 200.0h0.85M55.2 207.4h0.85M46.8 216.0h0.85M41.0 198.1h0.85M54.3 203.0h0.85M55.6 195.6h0.85M43.3 197.8h0.85M56.2 198.5h0.85M39.5 203.1h0.85M57.6 201.9h0.85M46.2 213.2h0.85M44.2 197.3h0.85M49.0 209.6h0.85M46.0 216.8h0.85M50.5 199.7h0.85M50.9 210.1h0.85M45.1 202.0h0.85M49.3 211.9h0.85M38.6 200.4h0.85M50.1 209.7h0.85M52.7 213.1h0.85M54.6 204.4h0.85M47.2 204.4h0.85M42.8 204.5h0.85M47.4 213.7h0.85M46.4 211.3h0.85M52.5 216.4h0.85M54.5 204.1h0.85M49.2 212.0h0.85M43.1 210.4h0.85M40.9 195.5h0.85M43.6 201.1h0.85M50.3 217.1h0.85M52.9 193.9h0.85M42.2 211.7h0.85M38.5 205.8h0.85M44.2 215.8h0.85M49.5 203.7h0.85M45.8 216.8h0.85M55.1 207.2h0.85M40.4 208.3h0.85M48.6 211.2h0.85M48.8 211.6h0.85M54.9 213.3h0.85M57.8 193.5h0.85M47.2 209.7h0.85M43.8 200.3h0.85M43.1 212.8h0.85M44.8 213.2h0.85M51.3 211.1h0.85M52.1 214.6h0.85M42.1 201.5h0.85M51.1 210.7h0.85M44.9 210.5h0.85M36.9 203.0h0.85M53.5 205.0h0.85M40.2 214.7h0.85M50.3 213.8h0.85M38.5 198.1h0.85M45.5 202.1h0.85M51.7 217.4h0.85M53.1 200.4h0.85M40.0 198.4h0.85M46.3 192.9h0.85M48.4 194.4h0.85M38.2 201.8h0.85M48.3 211.1h0.85M56.5 203.4h0.85M38.7 201.3h0.85M49.4 211.7h0.85M51.4 194.6h0.85M50.5 213.6h0.85M53.1 207.7h0.85M50.4 199.3h0.85M44.1 202.3h0.85M50.4 212.5h0.85M53.9 213.7h0.85M54.9 208.6h0.85M40.0 195.9h0.85M55.1 213.4h0.85M44.9 209.3h0.85M54.7 216.8h0.85M47.0 214.5h0.85M49.7 214.1h0.85M48.7 201.3h0.85M54.6 191.2h0.85M46.5 196.7h0.85M48.1 197.0h0.85M44.4 194.6h0.85M54.6 195.8h0.85M50.3 194.2h0.85M54.6 193.2h0.85M49.3 208.4h0.85M45.1 207.0h0.85M53.1 212.3h0.85M51.6 191.3h0.85M47.5 213.0h0.85M46.5 203.7h0.85M56.7 208.5h0.85M51.1 217.7h0.85M44.9 205.4h0.85M51.5 214.4h0.85M43.3 216.9h0.85M47.0 207.7h0.85M45.4 209.5h0.85M46.1 213.5h0.85M39.2 204.2h0.85M37.8 198.5h0.85M42.0 204.1h0.85M51.1 213.6h0.85M42.6 213.2h0.85M52.7 208.1h0.85M49.3 211.7h0.85M37.5 197.5h0.85M44.2 207.1h0.85M46.0 214.2h0.85M44.2 203.6h0.85M54.0 194.9h0.85M55.8 192.3h0.85M51.6 212.7h0.85M38.8 200.7h0.85M50.0 207.6h0.85M41.6 198.3h0.85M50.4 208.5h0.85M45.8 218.4h0.85M48.2 214.2h0.85M43.0 204.1h0.85M45.2 215.6h0.85M53.5 199.5h0.85M45.0 202.4h0.85M54.7 191.2h0.85M41.3 196.6h0.85M48.3 212.3h0.85M47.7 200.1h0.85M38.5 199.1h0.85M55.4 207.3h0.85M54.2 204.9h0.85M57.1 194.6h0.85M43.3 198.9h0.85M41.5 201.8h0.85M51.8 195.2h0.85M43.9 211.7h0.85M55.8 204.9h0.85M52.0 206.8h0.85M51.9 208.5h0.85M51.1 212.1h0.85M54.4 210.9h0.85M56.4 198.7h0.85M56.7 194.5h0.85M47.5 200.1h0.85M44.1 217.9h0.85M50.8 198.2h0.85M56.7 207.5h0.85M43.9 206.6h0.85M41.2 207.4h0.85M41.2 211.9h0.85M49.7 212.5h0.85M48.8 208.3h0.85M41.2 198.8h0.85M46.0 213.9h0.85M58.0 198.5h0.85M44.4 217.3h0.85M46.9 201.6h0.85M48.4 205.5h0.85M51.3 207.2h0.85M51.4 205.5h0.85M59.9 198.3h0.85M49.0 197.4h0.85M41.4 203.9h0.85M42.1 212.1h0.85M51.8 213.9h0.85M49.9 210.8h0.85M53.6 214.6h0.85M54.0 199.2h0.85M55.6 196.9h0.85M50.8 213.7h0.85M43.3 202.1h0.85M48.2 205.8h0.85M53.1 209.2h0.85M46.4 198.9h0.85M49.1 200.0h0.85M49.9 213.1h0.85M45.0 199.7h0.85M51.0 215.2h0.85M40.7 207.6h0.85M39.0 198.6h0.85M38.1 204.2h0.85M61.3 194.2h0.85M56.8 197.1h0.85M44.0 205.3h0.85M38.6 199.1h0.85M49.6 213.7h0.85M51.2 201.9h0.85M55.2 207.3h0.85M51.2 202.1h0.85M53.1 214.8h0.85M45.3 209.9h0.85M41.2 196.3h0.85M40.1 200.3h0.85M50.5 201.1h0.85M50.9 212.5h0.85M41.5 200.9h0.85M49.8 217.7h0.85M51.6 200.8h0.85M50.4 211.0h0.85M52.5 202.8h0.85M42.4 210.5h0.85M50.8 196.7h0.85M48.4 200.4h0.85M48.1 201.4h0.85M55.0 196.0h0.85M47.2 199.7h0.85M44.7 204.2h0.85M48.9 204.2h0.85M48.5 196.8h0.85M46.0 196.0h0.85M41.3 206.1h0.85M43.4 211.9h0.85M44.0 207.4h0.85M39.7 202.4h0.85M40.2 199.5h0.85M55.8 199.0h0.85M47.5 203.6h0.85M57.8 197.1h0.85M48.6 217.0h0.85M47.8 201.4h0.85M54.1 199.6h0.85M43.5 215.7h0.85M45.0 206.5h0.85M55.5 202.9h0.85M42.5 200.8h0.85M55.7 207.7h0.85M50.5 216.1h0.85M51.9 215.5h0.85M45.3 203.9h0.85M44.1 218.0h0.85M52.9 215.5h0.85M50.5 216.4h0.85M53.2 198.0h0.85M53.8 195.6h0.85M55.2 199.3h0.85M58.0 194.9h0.85M53.2 210.9h0.85M47.6 207.4h0.85M51.4 216.8h0.85M42.4 198.2h0.85M54.2 198.8h0.85M51.4 198.4h0.85M56.2 203.4h0.85M45.9 215.7h0.85M47.6 214.5h0.85M47.0 215.3h0.85M47.7 203.1h0.85M46.7 217.5h0.85M46.9 212.4h0.85M48.9 213.2h0.85M45.3 212.1h0.85M50.6 218.3h0.85M46.9 214.2h0.85M50.4 213.5h0.85M55.7 206.0h0.85M54.3 204.0h0.85M47.2 217.5h0.85M51.2 214.4h0.85M47.7 217.0h0.85M48.0 214.9h0.85M42.0 202.8h0.85M48.5 196.7h0.85M50.9 213.5h0.85M45.9 196.6h0.85M43.5 207.1h0.85M50.5 214.1h0.85M58.7 192.7h0.85M39.5 196.1h0.85M39.2 203.0h0.85M46.4 214.4h0.85M41.5 204.7h0.85M42.1 201.6h0.85M45.9 208.7h0.85M46.7 198.8h0.85M39.6 194.2h0.85M45.2 203.9h0.85M52.9 205.6h0.85M50.8 192.1h0.85M47.5 209.4h0.85M44.8 201.2h0.85M50.4 212.3h0.85M45.6 217.2h0.85M43.2 197.1h0.85M37.8 204.2h0.85M46.0 217.9h0.85M52.7 209.4h0.85M46.9 208.5h0.85M43.8 206.6h0.85M47.4 203.1h0.85M44.9 212.0h0.85M44.1 215.5h0.85M39.4 200.3h0.85M49.0 216.6h0.85M43.8 217.7h0.85M50.4 215.7h0.85M49.5 210.2h0.85M37.9 198.2h0.85M51.6 209.9h0.85M42.0 206.7h0.85M47.7 200.3h0.85M52.5 198.3h0.85M48.1 213.3h0.85M49.6 195.0h0.85M50.7 203.9h0.85M47.9 203.6h0.85M54.7 207.8h0.85M49.3 211.6h0.85M55.0 206.3h0.85M45.1 210.0h0.85M50.7 217.1h0.85M49.3 202.4h0.85M53.4 210.9h0.85M53.5 212.5h0.85M46.4 212.2h0.85M48.3 200.8h0.85M54.7 214.3h0.85M47.8 215.9h0.85M57.4 193.5h0.85M44.2 197.0h0.85M52.1 197.6h0.85M41.7 206.6h0.85M48.7 202.8h0.85M49.2 213.4h0.85M46.8 217.9h0.85M52.9 196.2h0.85M55.3 205.6h0.85M50.4 205.6h0.85M43.1 208.8h0.85M55.1 193.3h0.85M49.1 214.7h0.85M41.6 198.5h0.85M42.8 208.2h0.85M55.2 203.7h0.85M57.7 196.8h0.85M52.5 211.5h0.85M56.4 205.9h0.85M52.1 209.6h0.85M51.0 213.9h0.85M42.6 211.3h0.85M39.4 199.5h0.85M41.8 203.4h0.85M50.8 196.9h0.85M54.9 201.8h0.85M39.4 202.2h0.85M52.1 207.2h0.85M46.0 216.5h0.85M51.7 211.6h0.85M37.0 196.5h0.85M49.2 195.3h0.85M52.1 217.0h0.85M54.1 193.5h0.85M56.4 200.1h0.85M45.3 215.2h0.85M39.4 203.8h0.85M49.7 201.9h0.85M54.1 191.4h0.85M43.6 214.0h0.85M50.7 209.6h0.85M54.4 207.9h0.85M49.6 209.6h0.85M43.3 199.6h0.85M50.1 215.4h0.85M47.7 208.8h0.85M36.3 198.7h0.85M53.4 198.2h0.85M40.7 208.1h0.85M51.9 196.2h0.85M49.1 205.9h0.85M42.0 198.2h0.85M41.7 211.7h0.85M48.5 218.2h0.85M46.4 201.8h0.85M47.2 198.8h0.85M53.9 211.2h0.85M41.0 208.6h0.85M50.4 211.5h0.85M50.6 203.9h0.85M57.3 193.4h0.85M39.7 193.8h0.85M44.4 200.6h0.85M46.2 211.8h0.85M44.9 208.6h0.85M41.0 207.8h0.85M51.2 204.9h0.85M52.2 214.1h0.85M46.7 195.4h0.85M54.1 195.9h0.85M48.0 213.8h0.85M46.0 215.9h0.85M48.3 195.9h0.85M54.7 211.6h0.85M51.0 197.4h0.85M35.1 200.2h0.85M59.1 198.9h0.85M55.3 207.6h0.85M55.2 208.7h0.85M46.6 203.8h0.85M49.4 201.0h0.85M47.7 203.8h0.85M48.9 198.7h0.85M52.4 209.5h0.85M47.9 204.8h0.85M48.3 214.5h0.85M42.7 207.2h0.85M46.5 212.2h0.85M44.1 212.2h0.85M49.9 211.7h0.85M46.4 195.4h0.85M50.2 217.2h0.85M45.1 195.5h0.85M47.6 205.0h0.85M52.0 214.0h0.85M45.6 208.3h0.85M40.8 202.7h0.85M56.1 198.7h0.85M46.7 198.0h0.85M43.4 217.3h0.85M51.2 200.3h0.85M43.5 196.9h0.85M45.4 210.7h0.85M41.2 211.0h0.85M46.1 215.1h0.85M49.2 208.6h0.85M44.5 209.5h0.85M40.0 202.5h0.85M45.8 217.5h0.85M45.9 193.4h0.85M41.6 214.3h0.85M40.7 207.1h0.85M49.9 214.4h0.85M54.2 197.6h0.85M41.8 196.2h0.85M44.8 205.3h0.85M52.1 206.4h0.85M46.4 208.4h0.85M44.7 217.2h0.85M49.7 208.5h0.85M57.5 203.1h0.85M47.3 204.6h0.85M46.7 204.7h0.85M44.9 196.9h0.85M47.9 210.8h0.85M44.0 200.4h0.85M48.5 206.4h0.85M42.9 208.2h0.85M49.3 195.4h0.85M46.4 201.3h0.85M50.0 211.8h0.85M46.1 203.1h0.85M43.0 201.8h0.85M46.5 215.7h0.85M52.3 212.7h0.85M59.2 190.5h0.85M53.6 198.0h0.85M60.6 207.0h0.85M46.0 210.7h0.85M57.8 195.7h0.85M40.8 204.9h0.85M52.1 199.1h0.85M52.3 213.0h0.85M56.9 200.8h0.85M52.6 211.3h0.85M39.9 215.7h0.85M54.2 192.2h0.85M55.7 213.1h0.85M47.0 210.6h0.85M51.8 205.9h0.85M51.7 201.5h0.85M42.5 206.2h0.85M41.8 204.8h0.85M48.7 203.4h0.85M48.4 204.4h0.85M40.6 217.8h0.85M37.7 199.6h0.85M47.2 212.6h0.85M47.6 207.7h0.85M57.3 195.5h0.85M45.2 216.3h0.85M60.0 199.0h0.85M49.4 205.0h0.85M47.5 202.7h0.85M39.4 206.0h0.85M56.6 215.8h0.85M41.7 192.1h0.85M49.3 196.4h0.85M47.7 196.6h0.85M50.8 208.5h0.85M46.3 195.3h0.85M45.0 214.5h0.85M42.4 199.1h0.85M46.5 204.3h0.85M46.5 212.2h0.85M40.7 197.5h0.85M53.0 213.2h0.85M35.8 218.0h0.85M53.9 206.2h0.85M42.6 207.5h0.85M54.9 208.3h0.85M52.2 199.1h0.85M47.8 213.1h0.85M50.8 199.7h0.85M55.2 188.2h0.85M55.6 207.1h0.85M52.3 216.9h0.85M54.1 210.7h0.85M44.8 211.0h0.85M52.0 197.7h0.85M53.2 218.1h0.85M50.2 218.5h0.85M41.9 201.9h0.85M43.1 197.2h0.85M53.7 203.1h0.85M52.4 195.0h0.85M46.7 214.8h0.85M42.4 205.0h0.85M47.2 215.2h0.85M55.5 201.8h0.85M43.5 209.2h0.85M54.0 193.9h0.85M49.3 212.7h0.85M44.2 207.2h0.85M43.9 198.9h0.85M49.9 194.1h0.85M43.8 200.3h0.85M56.6 194.1h0.85M50.4 216.3h0.85M50.4 205.5h0.85M45.2 200.0h0.85M48.8 206.4h0.85M41.2 214.6h0.85M36.5 207.7h0.85M48.2 203.0h0.85M61.6 215.5h0.85M43.8 213.1h0.85M56.5 205.0h0.85M45.4 218.4h0.85M44.7 199.8h0.85M46.2 213.8h0.85M52.4 211.6h0.85M52.8 203.9h0.85M48.4 209.3h0.85M52.5 214.9h0.85M57.6 212.7h0.85M54.3 193.0h0.85M55.0 212.5h0.85M51.3 208.3h0.85M54.4 210.4h0.85M38.9 198.6h0.85M47.6 202.3h0.85M43.8 202.0h0.85M54.1 204.4h0.85M47.5 194.3h0.85M46.9 199.5h0.85M49.5 209.4h0.85M63.7 201.3h0.85M50.1 216.3h0.85M45.8 208.9h0.85M42.7 212.1h0.85M38.8 209.5h0.85M55.8 205.7h0.85M52.4 200.5h0.85M38.6 195.9h0.85M55.9 208.0h0.85M47.4 202.7h0.85M43.8 207.9h0.85M51.5 217.6h0.85M59.5 198.7h0.85M46.2 212.3h0.85M61.0 198.2h0.85M32.9 212.2h0.85M48.3 210.6h0.85M39.6 203.0h0.85M48.2 210.7h0.85M57.5 197.5h0.85M32.9 200.9h0.85M52.5 214.0h0.85M47.6 195.9h0.85M47.2 194.3h0.85M52.6 207.8h0.85M56.0 211.6h0.85M51.5 217.5h0.85M51.8 218.0h0.85M46.1 197.0h0.85M49.9 206.1h0.85M55.0 207.2h0.85M46.2 198.6h0.85M47.1 202.4h0.85M53.3 217.9h0.85M56.4 192.8h0.85M50.2 217.4h0.85M40.0 211.2h0.85M51.7 207.4h0.85M53.1 198.1h0.85M48.7 218.4h0.85M53.7 217.6h0.85M47.8 207.5h0.85M46.5 201.2h0.85M55.7 212.6h0.85M50.9 191.7h0.85M46.8 215.2h0.85M44.1 214.6h0.85M46.8 208.0h0.85M60.8 193.5h0.85M43.1 205.1h0.85M49.2 205.3h0.85M46.7 214.1h0.85M55.3 214.9h0.85M55.3 202.5h0.85M53.3 203.0h0.85M42.6 202.8h0.85M47.8 216.4h0.85M36.2 195.8h0.85M49.8 206.3h0.85M44.0 207.9h0.85M51.1 214.0h0.85M44.0 199.5h0.85M48.1 198.0h0.85M55.2 199.7h0.85M49.2 206.3h0.85M36.6 197.9h0.85M46.6 205.8h0.85M49.8 212.9h0.85M42.7 202.6h0.85M48.0 200.9h0.85M53.9 201.9h0.85M56.8 204.4h0.85M56.4 206.6h0.85M62.8 186.7h0.85M49.7 210.6h0.85M55.4 194.9h0.85M39.3 201.4h0.85M53.1 210.3h0.85M38.2 206.3h0.85M53.9 205.9h0.85M41.7 215.2h0.85M44.9 204.6h0.85M45.7 217.5h0.85M35.2 205.4h0.85M56.3 194.6h0.85M50.0 207.7h0.85M44.4 216.5h0.85M58.1 202.3h0.85M55.0 200.2h0.85M40.6 211.1h0.85M47.8 202.3h0.85M52.5 201.2h0.85M50.4 205.3h0.85M54.5 197.8h0.85M51.3 211.9h0.85M49.4 215.7h0.85M51.8 210.2h0.85M43.2 217.6h0.85M40.6 210.3h0.85M56.9 201.9h0.85M52.9 191.9h0.85M54.6 207.1h0.85M47.9 212.9h0.85M53.2 198.4h0.85M45.5 206.1h0.85M46.4 210.3h0.85M48.4 206.6h0.85M47.4 205.3h0.85M54.2 213.1h0.85M44.7 214.7h0.85M43.4 215.1h0.85M56.2 193.9h0.85M57.7 197.5h0.85M38.2 206.4h0.85M54.4 217.5h0.85M45.8 193.9h0.85M40.6 199.9h0.85M38.4 199.9h0.85M46.1 202.1h0.85M48.1 212.6h0.85M52.6 208.1h0.85M56.9 192.7h0.85M42.8 216.8h0.85M48.6 201.7h0.85M34.9 215.0h0.85M47.2 213.1h0.85M37.8 199.3h0.85M49.1 190.1h0.85M41.0 197.2h0.85M48.5 206.4h0.85M48.9 216.7h0.85M50.1 211.4h0.85M58.9 188.8h0.85M40.8 214.7h0.85M47.0 211.1h0.85M59.6 202.8h0.85M56.1 188.3h0.85M53.7 192.2h0.85M49.2 215.2h0.85M57.9 199.7h0.85M54.6 213.8h0.85M51.7 209.0h0.85M51.4 217.8h0.85M57.7 213.3h0.85M50.7 209.8h0.85M56.9 193.4h0.85M38.4 202.4h0.85M44.7 215.9h0.85M60.8 197.7h0.85M43.2 198.7h0.85M58.7 201.2h0.85M49.1 218.2h0.85M38.7 205.2h0.85M45.1 198.1h0.85M58.4 196.4h0.85M47.2 207.3h0.85M53.0 205.6h0.85M44.3 208.7h0.85M46.1 198.7h0.85M44.9 211.0h0.85M48.3 203.4h0.85M39.3 215.3h0.85M49.7 203.6h0.85M49.4 192.3h0.85M41.0 195.5h0.85M48.2 210.3h0.85M55.6 218.4h0.85M52.2 211.7h0.85M48.9 215.7h0.85M57.2 200.2h0.85M47.2 194.1h0.85M45.9 215.5h0.85M40.4 202.3h0.85M49.9 216.7h0.85M45.9 199.1h0.85M52.3 202.6h0.85M47.4 202.9h0.85M54.1 210.7h0.85M47.3 216.2h0.85M38.9 204.3h0.85M48.9 203.9h0.85M40.9 217.6h0.85M50.7 207.0h0.85M42.2 212.8h0.85M39.2 204.6h0.85M47.9 190.3h0.85M41.4 208.9h0.85M49.0 205.1h0.85M45.7 197.5h0.85M49.3 214.6h0.85M38.4 204.8h0.85M50.3 209.1h0.85M53.3 213.1h0.85M58.2 197.1h0.85M53.1 200.5h0.85M43.4 191.5h0.85M49.5 213.7h0.85M37.3 202.8h0.85M39.2 195.6h0.85M49.4 197.4h0.85M37.6 201.2h0.85M52.1 209.6h0.85M46.6 215.6h0.85M43.6 208.1h0.85M45.6 213.9h0.85M48.6 214.8h0.85M52.4 203.1h0.85M42.4 200.8h0.85M49.4 202.6h0.85M52.2 211.3h0.85M53.2 202.2h0.85M46.7 206.3h0.85M43.5 204.5h0.85M52.7 206.6h0.85M44.5 193.2h0.85M49.6 208.8h0.85M46.2 217.1h0.85M50.9 210.4h0.85M55.3 198.9h0.85M47.9 210.4h0.85M55.6 201.8h0.85M59.9 188.6h0.85M45.1 209.9h0.85M46.2 218.4h0.85M52.4 204.6h0.85M60.1 193.4h0.85M47.6 195.5h0.85M47.8 204.7h0.85M44.9 215.4h0.85M49.9 216.1h0.85M45.1 202.3h0.85M56.3 218.4h0.85M52.7 204.1h0.85M47.8 209.1h0.85M56.5 209.8h0.85M40.8 211.9h0.85M52.5 192.7h0.85M47.3 209.6h0.85M52.7 216.8h0.85M57.4 196.7h0.85M48.7 205.3h0.85M57.1 198.5h0.85M39.9 196.3h0.85M48.2 205.9h0.85M50.3 206.9h0.85M51.2 202.4h0.85M55.0 192.6h0.85M49.9 214.2h0.85M47.3 212.7h0.85M36.5 208.7h0.85M49.1 210.8h0.85M53.4 216.3h0.85M51.9 217.9h0.85M38.6 217.0h0.85M45.0 195.2h0.85M41.7 199.0h0.85M42.6 205.2h0.85M46.8 214.6h0.85M52.4 195.1h0.85M52.4 203.3h0.85M47.6 215.1h0.85M49.8 216.4h0.85M47.9 213.2h0.85M47.3 200.7h0.85M49.7 216.4h0.85M52.9 195.6h0.85M39.6 203.4h0.85M36.8 197.2h0.85M50.4 208.8h0.85M40.6 191.3h0.85M42.4 196.5h0.85M52.7 199.7h0.85M55.2 204.1h0.85M41.4 202.3h0.85M58.0 200.4h0.85M54.4 206.4h0.85M46.8 206.1h0.85M51.5 208.0h0.85M53.4 216.3h0.85M40.6 196.2h0.85M48.6 211.7h0.85M51.1 197.7h0.85M44.1 203.7h0.85M44.9 201.5h0.85M55.2 210.0h0.85M44.8 207.1h0.85M52.9 195.7h0.85M52.8 198.3h0.85M48.3 213.9h0.85M45.6 216.2h0.85M46.0 208.1h0.85M49.1 202.4h0.85M54.9 214.8h0.85M51.8 211.9h0.85M50.4 208.0h0.85M45.5 217.0h0.85M54.3 207.5h0.85M56.4 214.1h0.85M45.9 206.9h0.85M55.7 195.9h0.85M49.3 214.2h0.85M55.3 195.6h0.85M57.0 196.5h0.85M50.3 210.5h0.85M57.9 191.3h0.85M46.2 203.2h0.85M50.8 197.6h0.85M51.5 203.3h0.85M45.0 205.6h0.85M46.0 210.7h0.85M48.3 209.2h0.85M49.4 199.9h0.85M52.9 214.5h0.85M53.3 213.5h0.85M50.3 207.1h0.85M46.6 199.9h0.85M43.6 214.4h0.85M49.2 213.7h0.85M54.8 214.5h0.85M45.1 211.6h0.85M47.5 197.9h0.85M40.9 198.6h0.85M43.1 207.5h0.85M43.0 211.2h0.85M41.5 199.8h0.85M46.6 213.7h0.85M50.5 210.2h0.85M46.3 207.1h0.85M52.0 197.2h0.85M44.4 210.8h0.85M43.5 206.7h0.85M46.0 195.1h0.85M37.9 198.6h0.85M48.6 212.9h0.85M48.8 200.3h0.85M44.5 201.0h0.85M36.2 199.0h0.85M33.3 197.0h0.85M52.0 201.3h0.85M52.7 198.8h0.85M51.1 201.8h0.85M52.4 215.7h0.85M50.0 211.1h0.85M41.0 212.5h0.85M64.0 211.0h0.85M51.6 195.8h0.85M54.7 204.6h0.85M47.1 209.1h0.85M49.4 199.5h0.85M42.3 206.4h0.85M30.7 193.2h0.85M41.7 209.1h0.85M50.1 214.0h0.85M40.1 206.5h0.85M47.5 199.4h0.85M51.7 205.8h0.85M39.7 217.0h0.85M39.5 217.0h0.85M55.1 202.1h0.85M59.7 200.9h0.85M42.1 200.3h0.85M56.7 193.5h0.85M56.3 202.4h0.85M41.8 199.1h0.85M38.6 212.9h0.85M40.9 207.5h0.85M45.5 212.9h0.85M54.1 214.1h0.85M45.2 218.4h0.85M39.1 205.9h0.85M46.4 193.5h0.85M53.9 212.0h0.85M55.5 195.9h0.85M47.0 211.9h0.85M51.5 215.7h0.85M35.5 206.0h0.85M42.7 202.3h0.85M50.3 192.2h0.85M58.2 196.1h0.85M41.3 200.3h0.85M56.2 200.4h0.85M52.3 210.3h0.85M49.7 197.7h0.85M42.5 199.6h0.85M56.6 216.8h0.85M44.4 210.2h0.85M57.0 209.6h0.85M38.0 205.1h0.85M39.5 196.7h0.85M53.6 206.9h0.85M50.2 204.9h0.85M39.6 200.2h0.85M41.8 197.7h0.85M44.8 216.8h0.85M46.4 218.2h0.85M47.6 216.9h0.85M43.9 202.8h0.85M38.9 212.6h0.85M51.2 202.7h0.85M41.9 207.0h0.85M50.5 208.0h0.85M54.0 215.4h0.85M49.4 211.8h0.85M46.1 203.9h0.85M43.4 199.2h0.85M50.3 199.0h0.85M34.6 207.4h0.85M44.6 217.8h0.85M48.5 204.8h0.85M40.9 209.5h0.85M53.7 203.3h0.85M37.1 192.6h0.85M54.3 207.1h0.85M54.6 208.9h0.85M57.0 211.5h0.85M48.6 210.2h0.85M42.7 203.9h0.85M44.6 215.5h0.85M46.6 207.7h0.85M53.9 193.9h0.85M43.4 199.0h0.85M55.4 206.5h0.85M36.0 213.8h0.85M47.1 194.1h0.85M58.8 203.9h0.85M45.0 207.1h0.85M43.8 202.8h0.85M42.0 206.1h0.85M36.5 198.0h0.85M52.6 189.1h0.85M45.7 210.4h0.85M49.4 203.0h0.85M48.1 202.6h0.85M49.8 208.7h0.85M49.1 216.0h0.85M50.1 206.0h0.85M53.4 199.9h0.85M43.0 206.3h0.85M48.5 210.8h0.85M52.8 198.2h0.85M48.5 209.0h0.85M58.2 199.1h0.85M55.2 199.0h0.85M35.8 196.7h0.85M51.3 210.5h0.85M44.5 214.5h0.85M51.3 211.8h0.85M54.9 201.3h0.85M44.8 190.3h0.85M58.1 198.8h0.85M48.3 205.9h0.85M45.4 192.8h0.85M50.9 212.2h0.85M50.0 213.2h0.85M48.1 210.0h0.85M39.0 210.1h0.85M54.5 200.2h0.85M47.9 208.1h0.85M48.4 200.8h0.85M41.5 206.9h0.85M42.8 208.1h0.85M43.9 204.1h0.85M43.9 213.4h0.85M43.9 214.5h0.85M45.0 216.1h0.85M38.2 198.0h0.85M51.3 190.9h0.85M53.0 201.3h0.85M46.8 197.8h0.85M47.4 201.8h0.85M49.7 210.6h0.85M40.8 201.8h0.85M53.1 200.6h0.85M46.2 204.2h0.85M51.5 195.1h0.85M45.0 206.2h0.85M44.2 203.5h0.85M52.0 188.6h0.85M43.1 203.7h0.85M40.2 194.8h0.85M58.4 211.8h0.85M62.2 200.1h0.85M50.5 206.0h0.85M43.6 197.3h0.85M38.0 212.7h0.85M44.1 215.7h0.85M41.3 209.8h0.85M35.0 206.5h0.85M39.8 206.2h0.85M46.1 210.8h0.85M54.4 208.6h0.85M52.1 201.1h0.85M51.5 192.1h0.85M48.4 209.6h0.85M50.3 199.6h0.85M41.0 194.5h0.85M51.5 194.6h0.85M55.6 208.8h0.85M52.4 193.3h0.85M57.9 189.8h0.85M47.5 207.4h0.85M47.3 217.0h0.85M52.6 210.7h0.85M56.5 199.3h0.85M51.3 216.3h0.85M51.4 211.1h0.85M44.6 210.3h0.85M60.3 193.3h0.85M42.3 193.4h0.85M38.6 206.3h0.85M44.7 208.4h0.85M49.0 188.3h0.85M51.0 208.3h0.85M47.4 203.7h0.85M46.0 209.4h0.85M52.9 200.9h0.85M49.4 211.5h0.85M47.0 209.0h0.85M49.5 198.9h0.85M59.3 198.2h0.85M43.7 215.5h0.85M46.0 210.2h0.85M55.2 208.8h0.85M41.3 206.9h0.85M48.7 196.7h0.85M54.8 210.5h0.85M54.0 215.5h0.85M47.9 203.1h0.85M50.2 217.8h0.85M40.9 205.3h0.85M46.5 217.9h0.85M53.3 196.5h0.85M44.9 206.5h0.85M37.1 213.2h0.85M61.6 193.1h0.85M50.6 209.9h0.85M40.0 198.2h0.85M52.7 206.4h0.85M51.7 203.9h0.85M50.5 198.9h0.85M41.4 202.4h0.85M49.4 204.3h0.85M47.7 204.7h0.85M45.8 199.1h0.85M45.0 199.1h0.85M52.3 216.4h0.85M42.7 216.2h0.85M47.0 203.8h0.85M59.7 211.7h0.85M53.4 193.3h0.85M57.6 191.6h0.85M44.5 212.4h0.85M55.4 217.6h0.85M47.8 212.9h0.85M47.6 206.4h0.85M50.9 206.9h0.85M53.1 210.8h0.85M55.9 197.5h0.85M52.0 216.2h0.85M50.3 204.4h0.85M54.6 196.1h0.85M50.8 195.1h0.85M51.6 190.4h0.85M48.2 212.8h0.85M44.4 212.1h0.85M45.1 206.8h0.85M48.3 196.5h0.85M49.2 217.7h0.85M47.5 214.8h0.85M49.8 207.0h0.85M45.1 214.6h0.85M50.2 191.5h0.85M55.6 212.0h0.85M41.8 212.2h0.85M51.0 206.8h0.85M48.7 204.4h0.85M51.8 201.3h0.85M54.5 218.3h0.85M39.0 202.2h0.85M43.3 204.8h0.85M42.8 204.8h0.85M44.7 213.7h0.85M49.7 212.4h0.85M63.4 197.2h0.85M45.8 215.9h0.85M46.1 215.3h0.85M48.9 199.6h0.85M38.6 208.3h0.85M36.6 208.0h0.85M29.7 215.7h0.85M37.6 204.9h0.85M35.5 204.3h0.85M37.3 205.5h0.85M32.1 205.0h0.85M31.4 190.1h0.85M34.7 215.2h0.85M36.9 196.1h0.85M34.6 206.9h0.85M35.4 203.3h0.85M34.6 210.0h0.85M38.7 205.0h0.85M37.6 209.7h0.85M30.3 197.5h0.85M32.4 200.3h0.85M34.4 198.5h0.85M40.0 211.3h0.85M33.1 210.3h0.85M39.2 194.6h0.85M35.9 217.8h0.85M33.1 215.4h0.85M37.8 199.3h0.85M30.6 213.4h0.85M33.6 200.2h0.85M34.1 211.1h0.85M38.8 216.6h0.85M37.4 195.1h0.85M33.1 190.2h0.85M31.2 199.9h0.85M30.9 203.8h0.85M30.4 208.9h0.85M33.5 197.2h0.85M36.5 199.5h0.85M29.3 214.3h0.85M37.3 215.5h0.85M32.2 197.7h0.85M36.7 194.2h0.85M39.6 208.9h0.85M35.0 191.5h0.85M32.1 202.3h0.85M39.8 194.2h0.85M35.5 192.3h0.85M39.7 211.7h0.85M37.9 211.7h0.85M31.0 197.0h0.85M29.4 206.0h0.85M29.9 195.5h0.85M30.9 216.7h0.85M37.7 198.3h0.85M39.7 194.6h0.85M30.5 201.1h0.85M37.9 192.9h0.85M37.7 205.8h0.85M37.8 199.8h0.85M29.5 192.9h0.85M37.0 204.7h0.85M37.4 195.8h0.85M32.1 196.1h0.85M38.4 210.4h0.85M30.7 211.0h0.85M29.4 203.5h0.85M31.8 212.2h0.85M36.9 209.8h0.85M31.2 191.2h0.85M36.0 210.1h0.85M29.1 214.3h0.85M38.9 200.5h0.85M34.7 208.9h0.85M39.2 208.8h0.85M34.7 212.3h0.85M34.4 191.0h0.85M35.0 202.0h0.85M32.7 201.4h0.85M31.4 199.0h0.85M37.2 215.7h0.85M34.0 214.5h0.85M30.4 205.0h0.85M37.2 212.7h0.85M33.3 194.9h0.85M39.6 207.7h0.85M36.2 200.0h0.85M30.2 206.5h0.85M33.5 215.8h0.85M36.3 211.9h0.85M35.3 211.8h0.85M35.4 207.3h0.85M31.1 192.6h0.85M36.8 211.1h0.85M36.3 197.4h0.85M34.4 212.3h0.85M36.0 216.4h0.85M30.0 212.5h0.85M29.1 208.1h0.85M34.9 192.1h0.85M33.6 209.4h0.85M38.5 192.2h0.85M34.6 213.1h0.85M30.3 215.9h0.85M39.3 199.9h0.85M31.3 194.2h0.85M31.4 202.1h0.85M36.8 217.2h0.85M35.1 217.6h0.85M33.7 209.1h0.85M29.0 202.1h0.85M29.3 193.8h0.85M37.9 193.3h0.85M32.3 205.3h0.85M34.8 190.9h0.85M30.2 209.6h0.85M33.5 192.7h0.85M34.3 200.8h0.85M40.0 191.4h0.85M31.0 192.2h0.85M35.1 217.9h0.85M37.6 193.2h0.85M34.9 200.4h0.85M39.8 210.5h0.85M33.5 201.7h0.85M32.2 208.3h0.85M32.7 211.2h0.85M37.2 208.9h0.85M37.5 204.4h0.85M30.8 204.6h0.85M36.6 194.4h0.85M32.1 212.5h0.85M36.1 214.2h0.85M36.6 205.5h0.85M36.1 210.8h0.85M35.0 203.6h0.85M35.8 202.8h0.85M40.8 199.8h0.85M31.4 196.2h0.85M37.5 202.2h0.85M35.4 203.5h0.85M35.7 195.1h0.85M35.2 201.1h0.85M37.6 209.3h0.85M32.0 198.4h0.85M36.4 213.2h0.85M36.9 204.0h0.85M33.7 198.3h0.85M32.6 208.9h0.85M35.7 206.9h0.85M34.7 209.2h0.85M36.9 201.1h0.85M37.3 198.6h0.85M39.3 196.1h0.85M34.3 197.6h0.85M35.1 214.0h0.85M33.2 217.2h0.85M38.4 207.6h0.85M33.6 211.2h0.85M37.3 204.7h0.85M41.0 200.4h0.85M31.8 203.5h0.85M36.4 216.7h0.85M30.8 206.1h0.85M38.1 200.4h0.85M33.9 196.7h0.85M36.9 210.7h0.85M36.5 206.7h0.85M37.4 204.2h0.85M36.8 210.6h0.85M38.2 208.5h0.85M35.2 209.9h0.85M31.3 192.9h0.85M38.9 205.9h0.85M32.5 201.0h0.85M34.7 205.5h0.85M33.2 211.8h0.85M32.4 216.4h0.85M36.7 193.4h0.85M32.1 205.4h0.85M35.7 202.1h0.85M35.1 206.1h0.85M32.3 205.4h0.85M40.6 200.6h0.85M32.6 209.6h0.85M38.3 212.2h0.85M33.5 204.5h0.85M35.5 203.6h0.85M36.0 212.5h0.85M36.4 204.9h0.85M34.5 217.3h0.85M36.8 205.6h0.85M33.2 217.6h0.85M38.0 211.3h0.85M40.1 192.6h0.85M35.3 202.9h0.85M33.3 205.5h0.85M36.3 208.6h0.85M34.7 195.9h0.85M36.4 209.2h0.85M40.2 211.4h0.85M35.1 197.1h0.85M41.7 200.3h0.85M35.5 210.2h0.85M36.3 214.2h0.85M32.5 200.2h0.85M35.5 196.5h0.85M33.5 214.6h0.85M35.8 204.3h0.85M33.6 205.3h0.85M35.0 197.6h0.85M37.0 196.2h0.85M38.2 202.7h0.85M29.4 194.3h0.85M35.7 199.0h0.85M39.5 214.6h0.85M40.2 211.2h0.85M38.4 200.8h0.85M38.2 202.0h0.85M34.9 195.6h0.85M35.2 207.8h0.85M34.9 197.3h0.85M37.3 211.3h0.85M34.8 210.4h0.85M37.5 198.2h0.85M34.9 192.1h0.85M32.5 208.0h0.85M32.9 207.7h0.85M35.9 190.7h0.85M33.8 215.5h0.85M35.1 205.9h0.85M33.3 193.9h0.85M34.6 199.0h0.85M35.3 191.5h0.85M38.5 216.9h0.85M33.2 207.2h0.85M32.8 211.0h0.85M32.9 204.0h0.85M38.3 208.6h0.85M34.2 194.4h0.85M31.1 213.4h0.85M36.3 205.4h0.85M38.2 206.0h0.85M33.2 204.3h0.85M49.2 180.4h0.85M61.1 183.5h0.85M50.9 179.2h0.85M46.5 175.4h0.85M41.0 178.1h0.85M42.7 170.9h0.85M45.3 170.0h0.85M56.0 187.0h0.85M52.7 167.4h0.85M49.8 175.3h0.85M41.7 179.1h0.85M55.0 182.8h0.85M42.9 177.1h0.85M46.2 186.4h0.85M49.2 175.4h0.85M45.5 170.3h0.85M45.8 185.2h0.85M40.9 181.5h0.85M49.1 184.7h0.85M44.4 185.2h0.85M42.2 180.3h0.85M48.7 181.1h0.85M45.1 185.0h0.85M60.4 188.3h0.85M45.2 177.5h0.85M53.0 181.2h0.85M46.1 186.9h0.85M52.0 185.8h0.85M48.8 187.2h0.85M47.5 174.7h0.85M49.6 173.2h0.85M55.4 184.3h0.85M41.9 181.4h0.85M53.6 178.6h0.85M51.6 177.5h0.85M49.3 180.1h0.85M51.9 175.5h0.85M44.4 182.2h0.85M47.3 183.2h0.85M47.3 173.7h0.85M53.0 181.9h0.85M53.0 178.7h0.85M48.0 187.1h0.85M52.0 180.2h0.85M50.0 183.6h0.85M46.1 181.9h0.85M45.2 170.9h0.85M50.6 181.0h0.85M52.6 183.4h0.85M52.9 184.6h0.85M44.7 186.8h0.85M62.0 177.5h0.85M43.8 184.1h0.85M53.9 185.8h0.85M56.7 173.3h0.85M51.4 182.9h0.85M55.4 175.8h0.85M49.7 178.6h0.85M48.9 179.7h0.85M48.9 171.3h0.85M49.4 180.9h0.85M47.8 162.0h0.85M46.4 177.1h0.85M45.6 188.9h0.85M53.9 179.5h0.85M45.1 183.0h0.85M46.8 188.3h0.85M54.7 179.9h0.85M52.5 176.3h0.85M42.3 184.9h0.85M57.2 178.9h0.85M47.2 171.1h0.85M59.6 174.2h0.85M45.1 179.5h0.85M55.2 180.8h0.85M49.5 180.6h0.85M53.5 180.3h0.85M50.3 180.1h0.85M44.5 187.5h0.85M46.4 173.6h0.85M47.6 180.7h0.85M53.4 172.8h0.85M43.7 181.4h0.85M51.4 174.8h0.85M44.4 181.4h0.85M66.9 190.9h0.85M61.4 206.5h0.85M60.0 204.3h0.85M80.1 195.8h0.85M62.9 202.2h0.85M77.2 200.3h0.85M70.5 198.2h0.85M75.6 194.9h0.85M80.0 198.9h0.85M65.6 190.8h0.85M64.7 200.2h0.85M77.4 190.9h0.85M67.1 195.6h0.85M62.3 203.4h0.85M71.9 197.3h0.85M69.0 194.1h0.85M60.1 195.3h0.85M67.6 194.8h0.85M64.8 194.7h0.85M69.8 193.3h0.85M67.9 199.5h0.85M75.3 195.3h0.85M73.7 195.9h0.85M75.4 198.6h0.85M65.9 189.7h0.85M62.9 203.0h0.85M63.4 202.4h0.85M89.0 204.6h0.85M70.4 192.8h0.85M64.0 195.7h0.85M69.4 188.9h0.85M61.5 203.0h0.85M69.1 202.7h0.85M74.4 193.3h0.85M68.3 199.4h0.85M61.9 204.1h0.85M71.7 204.7h0.85M65.3 202.5h0.85M67.6 194.3h0.85M67.4 190.7h0.85M66.6 199.9h0.85M73.2 193.7h0.85M87.7 199.7h0.85M62.3 195.6h0.85M81.3 193.2h0.85M67.1 198.6h0.85M62.5 195.4h0.85M77.8 206.1h0.85M65.9 202.5h0.85M71.5 199.6h0.85M67.0 205.1h0.85M72.3 197.9h0.85M66.2 203.7h0.85M63.5 195.4h0.85M65.9 196.5h0.85M77.5 200.8h0.85M67.3 196.4h0.85M78.6 201.2h0.85M83.7 203.6h0.85M66.4 196.2h0.85M65.9 199.9h0.85M74.0 201.4h0.85M79.8 191.4h0.85M68.2 191.9h0.85M60.3 196.0h0.85M63.1 194.1h0.85M65.6 203.8h0.85M63.5 203.4h0.85M63.8 201.0h0.85M71.3 204.3h0.85M65.9 205.4h0.85M68.5 196.5h0.85M63.2 199.3h0.85M61.2 193.0h0.85M69.0 202.6h0.85M65.8 203.2h0.85M79.9 192.6h0.85M69.9 194.2h0.85M63.2 199.9h0.85M74.3 201.7h0.85M72.9 208.1h0.85M65.2 204.5h0.85M78.9 201.5h0.85M65.8 190.9h0.85M67.5 202.8h0.85M66.1 198.1h0.85M79.0 195.9h0.85M60.9 199.2h0.85M76.4 202.0h0.85M68.5 196.5h0.85M77.3 203.4h0.85M72.6 195.8h0.85M64.2 190.1h0.85M67.8 204.9h0.85M81.6 199.9h0.85M63.8 199.9h0.85M73.9 194.0h0.85M67.3 190.8h0.85M74.3 200.5h0.85M73.5 205.1h0.85M78.3 179.4h0.85M80.8 180.8h0.85M70.5 176.3h0.85M76.9 178.2h0.85M72.7 177.2h0.85M80.0 179.1h0.85M82.1 182.9h0.85M81.9 183.8h0.85M83.9 186.4h0.85M88.3 209.2h0.85M64.2 217.5h0.85M64.5 213.4h0.85M84.7 211.3h0.85M88.7 206.9h0.85M83.6 216.8h0.85M88.9 216.0h0.85M75.1 211.7h0.85M87.5 209.9h0.85M69.7 205.4h0.85M68.1 206.8h0.85M89.9 209.0h0.85M72.6 217.7h0.85M82.7 210.6h0.85M65.2 209.7h0.85M70.7 217.3h0.85M74.6 217.6h0.85M70.1 205.6h0.85M89.0 206.0h0.85M85.6 212.7h0.85M70.5 215.8h0.85M74.9 217.8h0.85" stroke="#0c0c0c" stroke-width="0.85" fill="none"/>
<rect x="28.30" y="154.30" width="66.10" height="65.00" fill="none" stroke="#444" stroke-width="0.65"/>
<line x1="60.80" y1="154.30" x2="60.80" y2="219.30" stroke="#444" stroke-width="0.65" />
<line x1="28.30" y1="189.00" x2="94.40" y2="189.00" stroke="#444" stroke-width="0.65" />
<polygon points="116.0,196.0 134.6,191.8 129.8,218.3 122.4,218.3" fill="#0c0c0c" stroke="#0c0c0c" stroke-width="0.8" stroke-linejoin="round"/>
<path d="M127.8 216.3h0.85M127.7 211.2h0.85M128.0 212.9h0.85M122.6 209.8h0.85M125.3 216.6h0.85M118.9 203.2h0.85M133.6 201.0h0.85M128.8 206.8h0.85M129.7 216.4h0.85M129.3 197.4h0.85M131.4 206.3h0.85M129.9 207.0h0.85M127.1 195.1h0.85M126.2 212.0h0.85M128.5 206.8h0.85M127.6 195.1h0.85M122.4 212.9h0.85M133.0 194.4h0.85M127.8 216.2h0.85M128.5 216.1h0.85M123.9 211.9h0.85M124.0 197.6h0.85M129.8 198.1h0.85M128.0 211.4h0.85M127.0 210.4h0.85M129.8 209.8h0.85M130.4 193.9h0.85M126.3 196.0h0.85M124.4 201.3h0.85M122.1 213.4h0.85M121.4 198.1h0.85M132.1 201.4h0.85M128.0 196.4h0.85M123.3 216.2h0.85M130.7 201.9h0.85M118.2 205.0h0.85M129.6 212.0h0.85M131.2 198.4h0.85M133.8 190.9h0.85M127.9 215.5h0.85M123.7 211.0h0.85M121.8 211.1h0.85M131.4 198.7h0.85M134.3 206.8h0.85M127.7 202.7h0.85M130.7 202.7h0.85M126.4 198.5h0.85M119.1 207.6h0.85M129.2 206.1h0.85M123.8 197.6h0.85M119.8 210.6h0.85M133.2 213.0h0.85M125.4 216.8h0.85M123.9 206.5h0.85M128.9 208.9h0.85M123.6 202.5h0.85M128.1 215.3h0.85M133.3 195.7h0.85M118.4 196.2h0.85M116.4 199.0h0.85M128.2 200.3h0.85M127.7 201.6h0.85M122.0 203.2h0.85M118.1 203.2h0.85M123.7 208.5h0.85M132.6 193.7h0.85M124.6 208.2h0.85M132.2 201.0h0.85M130.3 206.4h0.85M120.9 209.6h0.85M119.4 200.2h0.85M127.3 214.5h0.85M123.7 212.0h0.85M122.7 208.6h0.85M124.2 194.8h0.85M128.2 205.5h0.85M120.1 213.2h0.85M129.7 206.3h0.85M127.3 208.1h0.85M121.3 210.1h0.85M126.1 203.0h0.85M128.3 195.3h0.85M120.1 202.9h0.85M130.5 193.9h0.85M119.1 204.3h0.85M130.6 205.6h0.85M128.3 205.1h0.85M120.3 209.7h0.85M125.1 216.7h0.85M122.8 208.5h0.85M131.8 210.2h0.85M126.1 201.8h0.85M127.3 197.3h0.85M133.4 201.2h0.85M125.9 206.7h0.85M129.1 206.6h0.85M128.8 208.0h0.85M127.1 210.4h0.85M130.1 208.1h0.85M127.0 216.0h0.85M127.9 207.1h0.85M127.1 208.4h0.85M118.9 206.9h0.85M125.3 208.0h0.85M119.1 194.4h0.85M124.3 194.9h0.85M131.7 195.0h0.85M125.4 197.4h0.85M133.7 195.0h0.85M124.7 200.3h0.85M124.6 209.9h0.85M121.3 207.3h0.85M127.9 202.4h0.85M122.8 206.5h0.85M127.4 214.0h0.85M126.2 214.0h0.85M127.9 206.8h0.85M127.4 196.2h0.85M131.7 195.4h0.85M131.3 195.7h0.85M125.0 212.7h0.85M124.7 204.6h0.85M132.1 200.3h0.85M121.4 210.6h0.85M122.6 209.6h0.85M118.2 196.2h0.85M131.0 205.7h0.85M126.2 213.9h0.85M120.1 209.8h0.85M127.1 204.3h0.85M123.4 214.0h0.85M133.3 204.9h0.85M125.7 202.3h0.85M132.5 200.3h0.85M122.9 213.4h0.85M126.6 196.8h0.85M134.2 196.5h0.85M133.0 205.7h0.85M127.9 200.0h0.85M124.4 213.2h0.85M125.9 215.2h0.85M125.0 198.3h0.85M125.0 216.9h0.85M130.7 199.4h0.85M121.4 210.8h0.85M124.4 210.5h0.85M122.7 198.9h0.85M119.4 212.9h0.85M130.7 196.4h0.85M118.0 215.2h0.85M129.8 204.3h0.85M128.4 200.0h0.85M128.8 204.2h0.85M130.8 202.2h0.85M128.1 208.6h0.85M132.5 197.3h0.85M126.7 198.7h0.85M120.6 214.5h0.85M123.3 206.9h0.85M117.6 199.8h0.85M127.3 212.8h0.85M121.0 208.5h0.85M130.1 196.3h0.85M131.1 212.0h0.85M126.4 200.5h0.85M131.6 197.9h0.85M126.9 216.5h0.85M119.8 200.9h0.85M125.2 212.3h0.85M124.8 213.0h0.85M121.0 194.4h0.85M122.6 202.9h0.85M128.7 216.6h0.85M120.3 209.9h0.85M127.7 197.6h0.85M123.4 215.6h0.85M128.3 204.2h0.85M120.6 212.7h0.85M124.8 203.0h0.85M124.9 197.2h0.85M118.4 197.7h0.85M121.3 213.9h0.85M125.6 205.4h0.85M133.5 198.1h0.85M130.1 197.1h0.85M124.3 200.7h0.85M126.2 201.0h0.85M123.8 212.2h0.85M121.0 209.2h0.85M128.2 208.3h0.85M126.7 217.8h0.85M120.8 205.3h0.85M127.8 207.1h0.85M122.0 197.2h0.85M125.1 213.8h0.85M124.4 214.5h0.85M129.0 207.1h0.85M126.5 208.3h0.85M126.0 217.2h0.85M125.0 206.2h0.85M121.9 214.8h0.85M124.0 196.6h0.85M124.7 217.6h0.85M124.2 208.2h0.85M118.6 195.9h0.85M125.1 203.0h0.85M127.4 210.6h0.85M122.6 204.1h0.85M129.9 203.7h0.85M123.7 207.6h0.85M122.1 213.8h0.85M122.5 203.9h0.85M133.8 194.1h0.85M126.3 214.3h0.85M125.9 216.6h0.85M128.6 217.7h0.85M130.4 206.6h0.85M124.1 201.2h0.85M124.6 214.0h0.85M123.7 196.7h0.85M127.1 201.5h0.85M129.0 200.9h0.85M120.4 198.8h0.85M123.4 215.5h0.85M121.5 208.6h0.85M118.0 205.1h0.85M126.1 214.1h0.85M125.6 214.1h0.85M126.5 207.2h0.85M119.0 204.2h0.85M126.7 207.4h0.85M128.8 216.8h0.85M123.7 207.8h0.85M127.8 201.5h0.85M119.8 197.0h0.85M121.1 202.9h0.85M130.3 205.3h0.85M124.6 213.5h0.85M123.1 199.6h0.85M119.7 196.7h0.85M120.0 213.4h0.85M124.9 212.7h0.85M126.2 198.8h0.85M121.1 195.8h0.85M125.5 217.2h0.85M125.9 206.6h0.85M122.2 196.8h0.85M123.6 209.0h0.85M122.7 214.9h0.85M118.1 199.0h0.85M120.0 207.0h0.85M120.8 203.0h0.85M127.0 205.9h0.85M123.8 216.2h0.85M125.7 205.4h0.85M129.2 213.0h0.85M119.7 205.5h0.85M121.8 205.8h0.85M127.9 212.1h0.85M118.8 205.1h0.85M127.3 208.7h0.85M125.7 214.9h0.85M119.7 196.0h0.85M123.1 198.7h0.85M130.6 202.0h0.85M119.5 199.0h0.85M117.8 203.2h0.85M121.0 216.3h0.85M122.2 207.7h0.85M128.9 214.6h0.85M122.6 209.0h0.85M121.5 214.2h0.85M127.0 216.9h0.85M124.9 212.6h0.85M123.6 207.8h0.85M132.9 217.4h0.85M127.0 209.2h0.85M129.7 214.4h0.85M128.6 198.2h0.85M125.5 216.2h0.85M125.3 210.6h0.85M125.8 198.3h0.85M124.3 211.3h0.85M132.0 211.6h0.85M123.1 204.1h0.85M121.9 206.1h0.85M122.4 210.9h0.85M126.3 207.2h0.85M126.0 213.5h0.85M130.8 206.7h0.85M119.9 217.8h0.85M129.0 195.1h0.85M128.1 202.4h0.85M128.6 211.4h0.85M120.9 212.2h0.85M126.4 216.4h0.85M126.6 208.8h0.85M131.0 213.1h0.85M125.1 201.4h0.85M129.5 212.5h0.85M120.1 214.0h0.85M120.8 206.2h0.85M127.3 210.5h0.85M119.7 208.7h0.85M127.6 201.3h0.85M124.6 210.8h0.85M131.2 203.4h0.85M125.7 197.9h0.85M124.3 204.6h0.85M129.6 201.9h0.85M129.4 211.3h0.85M118.7 199.0h0.85M121.4 208.2h0.85M124.4 208.9h0.85M123.8 198.3h0.85M133.9 195.7h0.85M123.4 206.1h0.85M122.9 211.8h0.85M125.2 196.7h0.85M120.9 205.6h0.85M122.1 212.2h0.85M117.9 194.3h0.85M123.3 204.9h0.85M128.2 216.7h0.85M124.5 195.4h0.85M131.1 215.2h0.85M124.0 215.4h0.85M123.0 211.7h0.85M126.6 207.0h0.85M129.6 197.1h0.85M125.2 202.9h0.85M122.7 198.2h0.85M126.1 212.9h0.85M130.5 215.4h0.85M131.0 209.3h0.85M130.7 205.9h0.85M122.6 214.7h0.85M122.6 193.9h0.85M121.4 198.9h0.85M119.4 202.4h0.85M124.9 203.6h0.85M125.1 210.4h0.85M124.6 209.9h0.85M131.9 197.4h0.85M117.1 201.1h0.85M122.0 208.6h0.85M124.7 209.8h0.85M122.8 209.5h0.85M123.7 207.0h0.85M130.7 203.5h0.85M123.5 206.7h0.85M128.3 200.4h0.85M127.9 207.1h0.85M117.2 197.8h0.85M128.1 211.2h0.85M124.7 195.6h0.85M128.6 210.8h0.85M127.0 207.2h0.85M120.8 209.3h0.85M130.8 206.3h0.85M127.9 215.7h0.85M119.8 211.0h0.85M123.4 200.1h0.85M124.5 202.4h0.85M129.2 198.2h0.85M130.6 214.8h0.85M129.2 216.2h0.85M126.2 198.2h0.85M122.5 213.8h0.85M124.2 211.5h0.85M127.2 217.7h0.85M128.0 197.5h0.85M133.1 211.6h0.85M126.6 208.0h0.85M130.8 206.8h0.85M132.2 193.7h0.85M128.6 201.7h0.85M123.3 201.8h0.85M125.3 192.8h0.85M123.7 206.2h0.85M128.0 216.6h0.85M119.3 201.3h0.85M121.3 215.7h0.85M119.6 208.9h0.85M119.2 203.6h0.85M125.3 214.0h0.85M127.8 195.6h0.85M125.8 198.9h0.85M130.9 193.6h0.85M123.8 210.6h0.85M128.4 194.3h0.85M123.0 198.7h0.85M130.6 201.7h0.85M129.0 204.8h0.85M129.5 216.3h0.85M130.4 198.6h0.85M126.9 213.6h0.85M123.5 211.5h0.85M121.3 202.5h0.85M129.3 193.5h0.85M128.7 205.7h0.85M129.0 209.1h0.85M127.2 215.1h0.85M125.5 213.7h0.85M120.6 198.8h0.85M131.6 204.4h0.85M124.4 215.8h0.85M123.9 199.8h0.85M132.9 200.9h0.85M128.0 210.5h0.85M129.3 208.1h0.85M127.2 212.9h0.85M119.1 202.2h0.85M121.8 211.9h0.85M126.0 208.4h0.85M126.5 212.8h0.85M125.4 206.6h0.85M118.8 205.5h0.85M123.2 214.2h0.85M132.5 194.6h0.85M129.4 193.5h0.85M132.2 200.3h0.85M133.0 207.4h0.85M120.6 213.2h0.85M129.9 210.0h0.85M128.1 195.2h0.85M122.1 216.9h0.85M123.6 211.4h0.85M128.8 193.9h0.85M127.0 199.0h0.85M132.3 202.1h0.85M121.6 212.3h0.85M122.9 213.7h0.85M123.5 216.9h0.85M132.3 213.2h0.85M127.9 209.5h0.85M130.9 193.6h0.85M127.2 195.4h0.85M129.4 215.9h0.85M122.9 216.5h0.85M123.8 211.9h0.85M122.2 202.0h0.85M120.0 201.9h0.85M128.1 210.2h0.85M124.0 195.7h0.85M124.0 215.1h0.85M127.7 197.4h0.85M115.9 195.9h0.85M126.3 212.6h0.85M128.9 207.7h0.85M121.9 198.0h0.85M123.8 207.0h0.85M130.3 215.8h0.85M120.1 197.7h0.85M117.4 193.7h0.85M134.8 194.7h0.85M123.2 200.9h0.85M124.3 199.7h0.85M133.0 195.0h0.85M121.5 206.3h0.85M120.6 204.3h0.85M125.1 213.1h0.85M131.4 212.5h0.85M126.6 203.2h0.85M127.4 205.5h0.85M119.3 200.1h0.85M132.1 205.0h0.85M127.0 198.3h0.85M128.4 208.3h0.85M126.1 202.9h0.85M121.3 207.3h0.85M128.7 200.8h0.85M122.5 211.0h0.85M124.4 197.7h0.85M128.6 207.2h0.85M123.1 215.0h0.85M123.8 208.3h0.85M132.2 200.0h0.85M124.3 196.6h0.85M126.1 194.7h0.85M129.8 198.8h0.85M123.9 199.7h0.85M119.2 198.0h0.85M125.2 203.7h0.85M127.6 207.0h0.85M127.3 197.7h0.85M121.8 203.4h0.85M126.5 215.0h0.85M121.3 201.8h0.85M128.2 202.8h0.85M130.9 202.3h0.85M122.4 214.0h0.85M128.5 210.5h0.85M131.5 204.1h0.85M127.5 216.0h0.85M133.2 198.1h0.85M121.7 205.7h0.85M118.2 203.5h0.85M123.8 213.0h0.85M130.9 205.3h0.85M126.3 215.1h0.85M128.2 206.7h0.85M125.6 204.7h0.85M121.3 215.9h0.85M123.9 213.9h0.85M125.5 197.7h0.85M124.9 205.2h0.85M132.6 206.2h0.85M130.4 210.5h0.85M121.8 212.5h0.85M123.0 209.5h0.85M132.2 206.9h0.85M128.1 217.5h0.85M119.9 201.7h0.85M123.0 211.6h0.85M124.7 198.5h0.85M122.0 211.5h0.85M129.8 209.7h0.85M125.3 202.2h0.85M119.3 200.8h0.85M125.1 198.2h0.85M126.2 210.4h0.85M119.6 194.7h0.85M123.0 199.6h0.85M126.4 213.6h0.85M123.8 217.7h0.85M128.2 206.0h0.85M128.7 215.4h0.85M118.7 195.4h0.85M121.0 203.9h0.85M129.2 201.6h0.85M127.9 216.5h0.85M123.8 214.7h0.85M123.5 205.9h0.85M126.6 214.2h0.85M125.6 203.8h0.85M126.5 216.3h0.85M123.6 213.5h0.85M116.6 197.4h0.85M120.8 195.4h0.85M123.8 201.6h0.85M129.7 200.6h0.85M119.9 198.9h0.85M132.4 196.9h0.85M120.5 200.9h0.85M126.4 197.7h0.85M122.2 208.3h0.85M122.7 214.4h0.85M122.8 201.5h0.85M127.0 216.8h0.85M122.0 214.9h0.85M127.0 212.4h0.85M129.4 205.8h0.85M132.3 209.0h0.85M132.2 197.7h0.85M121.1 202.9h0.85M127.0 216.3h0.85M124.8 214.2h0.85M119.2 206.3h0.85M124.1 214.8h0.85M118.9 196.7h0.85M131.2 217.4h0.85M132.0 196.9h0.85M120.6 208.1h0.85M121.3 210.7h0.85M123.0 217.3h0.85M123.1 211.8h0.85M117.4 197.7h0.85M131.4 193.0h0.85M124.4 201.2h0.85M126.7 209.4h0.85M121.3 196.9h0.85M119.0 199.8h0.85M117.4 197.1h0.85M124.4 204.8h0.85M134.0 203.7h0.85M128.5 217.5h0.85M119.9 199.5h0.85M126.3 209.5h0.85M125.9 204.5h0.85M117.3 199.0h0.85M127.4 204.7h0.85M122.9 217.4h0.85M125.7 207.3h0.85M126.4 215.1h0.85M125.5 199.2h0.85M123.4 194.7h0.85M115.5 199.3h0.85M121.2 197.2h0.85M121.4 211.0h0.85M127.0 193.4h0.85M131.3 208.3h0.85M123.4 212.2h0.85M134.2 192.6h0.85M127.2 214.8h0.85M117.5 196.5h0.85M125.8 196.4h0.85M129.9 199.7h0.85M125.0 210.2h0.85M125.5 217.3h0.85M128.0 216.7h0.85M129.7 203.1h0.85M128.1 214.5h0.85M131.1 199.7h0.85M129.9 200.8h0.85M127.3 193.9h0.85M132.9 193.0h0.85M121.1 215.9h0.85M121.2 198.8h0.85M119.8 208.2h0.85M117.4 199.8h0.85M123.5 200.6h0.85M124.9 214.8h0.85M133.4 199.1h0.85M131.4 202.0h0.85M124.9 211.8h0.85M125.9 214.1h0.85M130.9 197.3h0.85M124.8 212.6h0.85M122.8 196.5h0.85M127.2 202.0h0.85M126.9 217.4h0.85M125.4 204.6h0.85M125.4 200.1h0.85M131.3 205.0h0.85M127.1 203.4h0.85M127.1 200.0h0.85M115.4 196.5h0.85M125.1 201.3h0.85M124.7 209.1h0.85M125.0 191.4h0.85M129.5 215.2h0.85M122.2 212.0h0.85M120.6 206.8h0.85M119.3 199.5h0.85M128.4 215.6h0.85M125.3 214.3h0.85M127.2 213.8h0.85M124.6 214.2h0.85M121.1 196.9h0.85M134.1 196.9h0.85M119.9 212.8h0.85M127.2 196.6h0.85M124.7 208.8h0.85M124.9 212.9h0.85M131.4 193.6h0.85M133.9 202.3h0.85M124.9 216.3h0.85M131.8 200.9h0.85M125.8 201.3h0.85M127.0 208.3h0.85M118.7 201.8h0.85M126.6 196.4h0.85M130.8 215.9h0.85M130.9 194.5h0.85M118.6 199.8h0.85M128.9 215.2h0.85M119.2 208.5h0.85M132.7 209.3h0.85M124.3 197.0h0.85M125.1 209.7h0.85M117.8 201.4h0.85M123.7 212.7h0.85M131.7 196.7h0.85M130.6 200.3h0.85M120.8 198.5h0.85M130.3 210.5h0.85M128.5 207.2h0.85M131.5 204.7h0.85M125.0 206.2h0.85M122.0 199.4h0.85M120.6 209.0h0.85M121.4 208.2h0.85M120.0 208.9h0.85M128.2 215.4h0.85M123.9 212.8h0.85M124.0 205.7h0.85M125.8 204.8h0.85M124.0 205.6h0.85M127.8 217.3h0.85M125.4 208.1h0.85M116.4 203.8h0.85M129.8 208.2h0.85M131.8 194.8h0.85M120.6 209.5h0.85M117.7 196.3h0.85M123.3 200.7h0.85M130.4 211.9h0.85M132.6 217.1h0.85M120.0 211.9h0.85M126.5 216.0h0.85M122.7 201.2h0.85M126.0 214.2h0.85M125.2 196.8h0.85M130.4 196.3h0.85M118.8 199.8h0.85M132.4 196.3h0.85M123.6 201.0h0.85M132.0 200.8h0.85M120.5 203.4h0.85M128.7 196.6h0.85M120.8 216.0h0.85M122.7 196.5h0.85M121.6 214.8h0.85M128.6 193.4h0.85M119.3 198.0h0.85M122.0 212.7h0.85M118.2 196.9h0.85M129.2 214.0h0.85M125.9 202.0h0.85M127.3 201.3h0.85M127.9 215.3h0.85M122.3 204.2h0.85M129.9 213.0h0.85M127.5 199.6h0.85M126.0 210.9h0.85M126.2 215.3h0.85M133.9 193.9h0.85M119.7 196.2h0.85M124.2 215.9h0.85M126.0 206.3h0.85M126.2 213.8h0.85M127.1 206.7h0.85M126.1 198.8h0.85M123.2 205.3h0.85M130.2 207.3h0.85M122.0 211.7h0.85M123.2 197.1h0.85M132.5 193.2h0.85M129.0 210.1h0.85M121.4 212.2h0.85M128.0 217.1h0.85M125.3 215.6h0.85M131.0 194.1h0.85M118.5 198.8h0.85M133.0 195.8h0.85M124.9 204.7h0.85M121.6 217.0h0.85M123.9 216.6h0.85M119.3 213.8h0.85M129.7 210.9h0.85M129.8 211.3h0.85M119.3 198.0h0.85M129.2 202.1h0.85M121.8 207.7h0.85M128.5 213.5h0.85M122.6 207.5h0.85M129.3 212.8h0.85M123.9 210.5h0.85M131.9 204.9h0.85M123.0 202.4h0.85M130.1 208.3h0.85M131.3 207.4h0.85M133.4 193.3h0.85M128.3 198.4h0.85M119.6 210.7h0.85M128.0 211.4h0.85M120.3 194.7h0.85M129.3 216.2h0.85M129.8 205.5h0.85M122.9 198.7h0.85M128.1 215.9h0.85M123.3 196.3h0.85M129.9 207.8h0.85M132.7 205.7h0.85M123.3 204.7h0.85M120.2 210.1h0.85M129.6 206.7h0.85M124.8 208.2h0.85M123.5 212.2h0.85M123.6 206.7h0.85M128.0 213.1h0.85M123.9 216.7h0.85M127.0 194.8h0.85M129.6 213.3h0.85M134.2 194.3h0.85M131.8 212.9h0.85M130.4 193.6h0.85M123.4 206.1h0.85M121.4 214.9h0.85M123.3 199.5h0.85M128.8 200.8h0.85M126.7 197.3h0.85M121.7 211.1h0.85M119.2 196.8h0.85M128.8 216.0h0.85M118.8 205.8h0.85M130.3 194.6h0.85M129.5 200.8h0.85M119.5 200.7h0.85M125.1 194.6h0.85M127.0 202.6h0.85M128.6 205.8h0.85M120.7 203.1h0.85M119.6 195.3h0.85M126.8 214.9h0.85M123.8 209.7h0.85M119.3 202.8h0.85M126.8 199.3h0.85M116.3 194.9h0.85M125.7 208.4h0.85M123.5 203.5h0.85M127.2 212.7h0.85M118.7 201.6h0.85M119.8 202.2h0.85M129.4 207.1h0.85M130.9 204.9h0.85M131.6 196.0h0.85M127.2 203.6h0.85M123.5 196.6h0.85M123.8 199.1h0.85M126.4 201.5h0.85M122.4 211.9h0.85M131.5 201.1h0.85M131.4 195.9h0.85M127.4 215.6h0.85M132.0 202.9h0.85M127.6 212.7h0.85M131.3 211.1h0.85M128.7 205.6h0.85M118.5 196.1h0.85M121.1 210.7h0.85M120.1 201.6h0.85M124.5 204.3h0.85M129.1 196.7h0.85M125.6 209.1h0.85M126.6 213.1h0.85M130.2 197.4h0.85M125.4 193.1h0.85M123.0 204.1h0.85M127.3 207.1h0.85M128.4 211.8h0.85M121.3 196.0h0.85M125.1 214.4h0.85M119.9 203.7h0.85M129.4 196.4h0.85M125.0 196.3h0.85M120.1 201.5h0.85M129.0 198.7h0.85M125.3 211.4h0.85M121.0 198.9h0.85M121.1 195.1h0.85M129.8 213.6h0.85M126.8 215.6h0.85M116.5 212.9h0.85M129.0 202.4h0.85M127.7 194.8h0.85M126.0 214.4h0.85M127.7 199.0h0.85M128.7 202.2h0.85M120.6 199.7h0.85M125.3 216.8h0.85M124.7 217.2h0.85M129.3 200.6h0.85M124.6 208.9h0.85M122.0 210.1h0.85M122.5 206.2h0.85M123.9 199.0h0.85M122.7 209.1h0.85M133.5 199.3h0.85M120.9 200.5h0.85M131.5 213.1h0.85M130.6 200.1h0.85M118.9 203.8h0.85M131.4 213.7h0.85M124.9 196.2h0.85M118.6 199.0h0.85M124.2 216.7h0.85M131.5 191.0h0.85M122.2 215.2h0.85M130.7 206.4h0.85M120.6 210.8h0.85M119.6 210.0h0.85M132.0 208.6h0.85M130.1 206.9h0.85M127.6 195.9h0.85M126.5 208.0h0.85M118.2 201.3h0.85M124.1 212.3h0.85M122.9 212.1h0.85M124.4 206.5h0.85M130.7 204.8h0.85M127.5 211.2h0.85M123.7 213.1h0.85M133.0 205.4h0.85M130.8 201.6h0.85M127.1 203.2h0.85M123.8 203.4h0.85M119.3 210.6h0.85M120.3 203.6h0.85M123.7 206.9h0.85M119.4 200.1h0.85M122.4 205.9h0.85M125.4 203.0h0.85M124.1 203.1h0.85M121.1 203.4h0.85M128.3 203.7h0.85M119.3 205.6h0.85M122.4 204.1h0.85M123.9 214.7h0.85M124.1 212.9h0.85M130.3 202.1h0.85M122.2 203.3h0.85M132.7 199.2h0.85M128.3 197.4h0.85M125.1 212.9h0.85M127.4 204.4h0.85M121.9 200.1h0.85M115.9 199.2h0.85M132.6 216.9h0.85M132.3 211.2h0.85M127.9 208.2h0.85M130.9 199.3h0.85M130.3 198.5h0.85M129.2 211.3h0.85M125.9 210.5h0.85M118.9 201.8h0.85M127.9 217.6h0.85M132.1 206.5h0.85M120.5 205.3h0.85M124.8 214.5h0.85M129.1 212.9h0.85M128.9 201.5h0.85M121.8 215.8h0.85M125.0 212.0h0.85M128.6 201.3h0.85M125.5 214.1h0.85M125.9 209.6h0.85M126.1 216.2h0.85M130.7 214.3h0.85M121.8 215.7h0.85M127.0 212.2h0.85M122.0 209.3h0.85M128.4 197.1h0.85M119.0 199.4h0.85M122.8 199.2h0.85M120.7 208.8h0.85M126.8 210.6h0.85M123.2 202.7h0.85M120.3 207.5h0.85M126.3 217.3h0.85M124.3 215.0h0.85M120.7 201.3h0.85M128.5 211.5h0.85M129.1 214.2h0.85M128.3 194.0h0.85M126.7 214.7h0.85M128.6 213.8h0.85M125.3 212.0h0.85M117.3 196.4h0.85M127.8 198.3h0.85M134.3 198.3h0.85M133.1 197.2h0.85M123.0 212.1h0.85M126.7 212.5h0.85M130.5 201.2h0.85M125.3 214.7h0.85M123.5 197.0h0.85M133.6 211.0h0.85M129.9 201.8h0.85M125.7 216.3h0.85M124.1 202.4h0.85M121.4 216.3h0.85M125.8 217.6h0.85M132.5 199.4h0.85M128.2 211.0h0.85M131.9 208.3h0.85M132.9 195.5h0.85M130.8 204.3h0.85M126.4 200.3h0.85M124.9 200.2h0.85M121.5 215.0h0.85M123.4 197.4h0.85M122.2 216.1h0.85M123.6 195.6h0.85M126.1 201.3h0.85M121.1 198.4h0.85M121.8 217.3h0.85M121.1 211.8h0.85M128.1 208.7h0.85M125.2 201.2h0.85M131.1 204.9h0.85M125.4 199.3h0.85M125.1 212.5h0.85M122.2 211.1h0.85M127.7 195.1h0.85M125.7 217.7h0.85M126.6 201.7h0.85M133.0 196.4h0.85M122.1 212.0h0.85M125.5 216.5h0.85M130.2 213.3h0.85M129.9 215.0h0.85M128.0 195.1h0.85M125.5 203.3h0.85M129.9 193.0h0.85M127.5 197.5h0.85M126.0 200.1h0.85M122.3 198.6h0.85M132.1 202.0h0.85M116.5 198.8h0.85M119.1 199.1h0.85M125.8 210.5h0.85M121.5 212.8h0.85M124.3 201.2h0.85M130.2 195.4h0.85M129.5 202.5h0.85M130.3 217.5h0.85M121.1 206.3h0.85M126.9 196.9h0.85M125.3 203.9h0.85M127.2 211.4h0.85M132.3 194.3h0.85M128.4 210.0h0.85M128.8 211.6h0.85M124.4 205.9h0.85M126.3 213.6h0.85M125.8 197.8h0.85M121.0 205.3h0.85M131.6 195.8h0.85M125.2 201.9h0.85M125.0 209.1h0.85M117.1 200.7h0.85M123.3 205.5h0.85M122.4 216.2h0.85M119.7 205.0h0.85M131.4 206.1h0.85M120.3 204.3h0.85M129.9 212.8h0.85M121.1 202.0h0.85M133.8 195.5h0.85M131.2 201.3h0.85M125.4 201.1h0.85M134.8 198.5h0.85M127.3 207.8h0.85M116.3 202.2h0.85M124.0 214.0h0.85M122.6 211.0h0.85M126.9 202.6h0.85M131.7 201.2h0.85M123.1 212.8h0.85M126.4 215.5h0.85M134.6 193.6h0.85M132.3 189.7h0.85M130.3 208.2h0.85M130.2 216.2h0.85M128.0 203.9h0.85M119.9 210.9h0.85M129.7 211.4h0.85M130.0 213.0h0.85M125.0 214.2h0.85M120.2 199.1h0.85M120.1 209.2h0.85M124.2 199.7h0.85M124.3 213.3h0.85M120.4 203.5h0.85M122.0 204.6h0.85M129.4 215.2h0.85M122.6 213.3h0.85M131.7 203.2h0.85M126.3 213.6h0.85M116.6 199.8h0.85M132.3 201.0h0.85M120.4 196.0h0.85M127.6 204.0h0.85M117.1 194.9h0.85M128.6 200.2h0.85M124.7 201.3h0.85M130.5 217.5h0.85M128.6 198.4h0.85M123.2 213.3h0.85M126.1 208.7h0.85M133.9 203.7h0.85M122.4 214.9h0.85M122.9 212.0h0.85M122.7 204.4h0.85M124.8 207.3h0.85M119.3 197.7h0.85M130.0 206.9h0.85M120.6 203.1h0.85M116.7 200.4h0.85M134.6 196.0h0.85M129.0 195.0h0.85M126.4 199.6h0.85M124.8 204.7h0.85M124.7 202.8h0.85M128.3 204.3h0.85M132.0 200.5h0.85M130.4 214.1h0.85M118.5 195.5h0.85M129.8 205.5h0.85M121.3 199.9h0.85M123.8 206.1h0.85M125.3 215.0h0.85M127.2 197.2h0.85M124.0 208.4h0.85M122.2 206.3h0.85M124.9 214.6h0.85M128.8 197.7h0.85M123.2 209.9h0.85M119.0 201.9h0.85M122.9 204.0h0.85M125.0 209.1h0.85M123.2 201.9h0.85M132.0 201.3h0.85M129.1 216.8h0.85M124.0 217.5h0.85M120.2 203.8h0.85M130.8 214.7h0.85M128.0 200.2h0.85M128.3 192.5h0.85M119.0 203.2h0.85M118.5 199.1h0.85M129.5 204.5h0.85M123.2 207.3h0.85M129.3 205.2h0.85M129.7 194.0h0.85M132.2 196.1h0.85M122.7 212.7h0.85M122.9 209.2h0.85M127.2 216.4h0.85M126.5 200.8h0.85M126.8 210.8h0.85M126.7 209.8h0.85M132.1 202.2h0.85M125.5 216.7h0.85M122.8 216.9h0.85M125.8 211.2h0.85M127.4 213.0h0.85M126.9 213.3h0.85M128.0 208.1h0.85M122.8 215.4h0.85M124.4 207.4h0.85M119.8 203.7h0.85M131.8 196.4h0.85M127.5 203.6h0.85M127.8 208.0h0.85M131.1 191.1h0.85M125.6 202.9h0.85M126.8 196.9h0.85M122.8 212.6h0.85M120.3 208.9h0.85M122.5 203.2h0.85M129.6 216.6h0.85M120.7 203.3h0.85M126.5 200.4h0.85M121.2 214.9h0.85M129.0 198.4h0.85M117.1 204.3h0.85M127.8 215.9h0.85M120.8 197.0h0.85M124.0 198.4h0.85M131.6 198.1h0.85M129.2 195.2h0.85M118.9 204.4h0.85M130.4 197.6h0.85M129.4 195.1h0.85M122.9 198.4h0.85M122.5 204.9h0.85M129.0 207.0h0.85M124.1 212.3h0.85M132.6 192.2h0.85M127.9 193.5h0.85M121.9 208.6h0.85M124.0 208.1h0.85M119.0 203.7h0.85M121.6 198.6h0.85M122.4 213.2h0.85M131.7 206.2h0.85M117.5 205.2h0.85M118.9 198.1h0.85M132.2 213.1h0.85M119.9 201.4h0.85M121.1 201.7h0.85M126.5 212.0h0.85M127.0 202.8h0.85M131.0 207.3h0.85M128.0 209.0h0.85M128.2 215.8h0.85M122.2 211.4h0.85M121.7 202.9h0.85M119.2 199.9h0.85M124.9 212.9h0.85M134.2 203.0h0.85M132.4 200.3h0.85M125.9 216.9h0.85M124.4 214.2h0.85M126.9 207.1h0.85M126.8 214.4h0.85M129.6 206.3h0.85M128.2 213.8h0.85M121.9 208.7h0.85M124.6 213.5h0.85M132.1 199.5h0.85M117.0 203.6h0.85M122.8 213.7h0.85M133.0 190.5h0.85M122.2 208.0h0.85M125.7 216.2h0.85M129.1 202.2h0.85M127.8 204.8h0.85M121.6 197.1h0.85M123.8 203.3h0.85M124.6 214.2h0.85M126.2 207.7h0.85M129.3 208.8h0.85M117.7 194.1h0.85M127.1 194.5h0.85M123.6 207.3h0.85M126.0 213.3h0.85M128.2 213.1h0.85M130.5 199.1h0.85M126.2 196.6h0.85M126.5 208.0h0.85M129.4 197.2h0.85M121.3 196.9h0.85M124.9 199.5h0.85M123.2 215.3h0.85M126.4 199.0h0.85M117.1 201.7h0.85M120.4 196.2h0.85M121.8 214.0h0.85M125.4 211.2h0.85M117.1 203.2h0.85M126.7 198.5h0.85M123.7 197.4h0.85M129.0 198.2h0.85M120.4 207.0h0.85M125.9 210.9h0.85M123.7 211.1h0.85M127.7 212.3h0.85M120.1 201.9h0.85M121.2 198.0h0.85M129.6 196.1h0.85M133.2 201.5h0.85M127.3 203.9h0.85M121.0 211.3h0.85M128.1 203.4h0.85M130.1 200.6h0.85M117.3 203.0h0.85M127.8 210.0h0.85M121.2 207.0h0.85M118.1 196.8h0.85M116.5 195.9h0.85M126.0 214.1h0.85M134.2 194.9h0.85M124.1 193.9h0.85M125.2 203.2h0.85M127.3 199.9h0.85M122.9 206.9h0.85M123.2 206.6h0.85M129.5 203.8h0.85M130.5 198.8h0.85M119.7 206.4h0.85M123.9 215.0h0.85M129.1 206.1h0.85M128.1 213.4h0.85M123.2 204.1h0.85M125.1 204.3h0.85M128.0 207.5h0.85M122.5 212.3h0.85M127.5 214.0h0.85M120.5 209.1h0.85M129.7 215.5h0.85M131.9 203.5h0.85M124.8 199.2h0.85M120.9 202.1h0.85M126.7 205.9h0.85M128.1 195.6h0.85M123.2 197.9h0.85M122.3 196.5h0.85M121.7 204.9h0.85M120.9 209.0h0.85M129.8 201.8h0.85M130.9 202.4h0.85M130.3 214.2h0.85M133.4 198.5h0.85M130.4 199.2h0.85M126.2 211.8h0.85M129.8 208.1h0.85M120.0 198.4h0.85M133.1 201.0h0.85M127.6 214.3h0.85M123.1 205.8h0.85M122.2 214.9h0.85M129.6 208.9h0.85M121.6 202.2h0.85M118.8 212.0h0.85M126.3 217.2h0.85M121.0 200.8h0.85M127.1 205.1h0.85M130.3 204.6h0.85M124.7 203.5h0.85M123.6 204.1h0.85M133.0 207.2h0.85M125.5 208.4h0.85M124.0 205.8h0.85M121.9 209.4h0.85M126.7 207.0h0.85M126.9 193.2h0.85M130.0 201.4h0.85M123.1 207.2h0.85M133.5 207.3h0.85M124.8 210.3h0.85M124.4 210.3h0.85M126.0 208.0h0.85M122.6 211.8h0.85M128.7 207.0h0.85M124.0 202.8h0.85M118.3 202.3h0.85M129.4 194.4h0.85M130.7 200.5h0.85M131.8 196.6h0.85M127.3 211.9h0.85M125.6 209.3h0.85M129.9 204.5h0.85M127.6 212.6h0.85M128.8 196.0h0.85M126.4 213.4h0.85M128.9 210.6h0.85M117.6 195.6h0.85M130.0 204.3h0.85M125.6 215.3h0.85M128.3 210.6h0.85M133.6 191.8h0.85M128.1 196.5h0.85M121.8 204.1h0.85M117.7 198.7h0.85M121.5 215.1h0.85M123.8 203.8h0.85M122.1 212.5h0.85M124.5 214.0h0.85M122.2 196.2h0.85M133.1 192.7h0.85M126.5 192.0h0.85M119.4 206.0h0.85M127.3 213.2h0.85M120.7 199.8h0.85M133.2 194.7h0.85M123.5 196.9h0.85M128.8 197.1h0.85M123.1 195.2h0.85M121.9 196.6h0.85M130.9 200.5h0.85M125.4 201.4h0.85M120.3 196.2h0.85M120.0 204.0h0.85M120.4 214.4h0.85M127.6 200.6h0.85M126.0 208.1h0.85M128.5 206.2h0.85M124.0 194.1h0.85M122.7 203.4h0.85M129.8 212.9h0.85M121.3 213.3h0.85M129.0 215.4h0.85M123.1 205.5h0.85M126.6 208.7h0.85M127.1 197.4h0.85M127.8 195.5h0.85M133.1 189.8h0.85M123.8 202.3h0.85M122.8 214.9h0.85M125.5 212.1h0.85M124.5 204.9h0.85M120.9 211.8h0.85M121.5 204.0h0.85M123.6 210.7h0.85M127.1 197.6h0.85M131.4 213.0h0.85M130.4 210.5h0.85M121.6 209.8h0.85M121.2 206.9h0.85M130.0 193.8h0.85M123.7 210.1h0.85M132.0 194.2h0.85M129.6 213.7h0.85M124.2 208.7h0.85M125.9 202.2h0.85M127.5 215.8h0.85M124.0 198.9h0.85M129.2 198.0h0.85M121.1 208.8h0.85M129.1 208.8h0.85M128.6 208.5h0.85M123.6 205.0h0.85M130.0 195.0h0.85M125.8 205.0h0.85M123.5 217.2h0.85M129.4 194.5h0.85M131.1 203.0h0.85M131.5 206.6h0.85M125.7 200.3h0.85M125.7 214.2h0.85M122.4 203.3h0.85M126.5 201.6h0.85M119.8 199.1h0.85M125.1 197.7h0.85M128.5 205.7h0.85M131.1 191.2h0.85M131.4 215.4h0.85M130.8 199.4h0.85M125.4 216.5h0.85M121.4 200.2h0.85M124.0 209.0h0.85M121.7 206.5h0.85M130.6 206.2h0.85M122.1 204.5h0.85M130.7 209.7h0.85M132.0 211.2h0.85M130.7 217.1h0.85M126.9 210.4h0.85M129.8 217.1h0.85M127.9 212.9h0.85M128.4 194.3h0.85M124.8 195.6h0.85M131.0 200.9h0.85M117.4 206.9h0.85M117.6 201.5h0.85M129.5 211.1h0.85M130.2 207.9h0.85M119.4 207.4h0.85M125.1 215.4h0.85M117.4 206.6h0.85M130.3 201.1h0.85M131.0 196.9h0.85M123.7 202.8h0.85M125.2 207.7h0.85M130.0 195.4h0.85M125.7 198.0h0.85M129.0 213.7h0.85M123.5 205.6h0.85M121.8 207.8h0.85M130.2 203.7h0.85M123.5 196.0h0.85M125.9 195.3h0.85M130.1 198.9h0.85M125.6 205.8h0.85M124.2 216.1h0.85M119.3 200.2h0.85M121.8 203.8h0.85M129.2 210.0h0.85M130.5 192.9h0.85M125.0 209.2h0.85M126.3 207.7h0.85M127.5 205.3h0.85M122.5 215.9h0.85M128.5 205.6h0.85M128.4 211.8h0.85M120.6 194.5h0.85M129.4 201.9h0.85M126.3 214.0h0.85M125.4 212.3h0.85M131.1 211.3h0.85M127.8 215.1h0.85M131.4 198.5h0.85M123.6 194.8h0.85M123.4 207.6h0.85M131.3 201.5h0.85M124.3 212.5h0.85M127.4 203.1h0.85M124.5 196.6h0.85M129.2 206.1h0.85M129.5 206.9h0.85M133.7 203.9h0.85M119.1 198.8h0.85M125.1 207.7h0.85M126.7 211.5h0.85M122.0 205.1h0.85M128.3 201.5h0.85M122.9 214.5h0.85M126.4 208.2h0.85M126.8 204.8h0.85M131.6 199.0h0.85M127.0 211.6h0.85M130.8 196.5h0.85M133.2 196.5h0.85M124.3 214.0h0.85M122.4 197.6h0.85M129.9 211.6h0.85M122.1 205.6h0.85M117.7 204.4h0.85M122.2 201.0h0.85M133.8 197.4h0.85M129.5 212.0h0.85M121.7 210.5h0.85M123.7 210.5h0.85M130.2 213.7h0.85M120.3 207.8h0.85M126.4 202.5h0.85M132.0 195.3h0.85M119.1 193.4h0.85M123.9 215.3h0.85M118.5 207.8h0.85M124.1 215.2h0.85M122.3 214.3h0.85M123.9 195.6h0.85M126.6 206.0h0.85M120.3 204.6h0.85M124.4 206.0h0.85M121.7 202.7h0.85M121.5 209.6h0.85M120.7 203.2h0.85M122.5 212.1h0.85M117.8 198.1h0.85M128.0 214.7h0.85M125.6 215.2h0.85M120.8 201.9h0.85M124.6 209.2h0.85M127.3 211.7h0.85M129.6 193.0h0.85M129.4 196.0h0.85M131.5 215.4h0.85M118.9 197.6h0.85M135.5 191.9h0.85M122.2 197.9h0.85M118.9 200.6h0.85M128.7 205.0h0.85M132.1 213.2h0.85M131.0 191.5h0.85M129.8 199.2h0.85M125.7 214.9h0.85M122.8 204.0h0.85M118.9 210.3h0.85M124.8 214.1h0.85M123.5 215.4h0.85M125.9 195.0h0.85M130.8 213.5h0.85M126.5 207.7h0.85M122.3 204.8h0.85M120.6 196.6h0.85M126.4 208.5h0.85M129.9 204.8h0.85M120.0 205.8h0.85M126.0 208.1h0.85M120.7 199.1h0.85M122.3 211.4h0.85M136.1 191.9h0.85M127.4 212.6h0.85M129.9 211.3h0.85M120.9 212.5h0.85M126.4 207.8h0.85M121.5 211.8h0.85M124.0 206.1h0.85M122.5 214.4h0.85M126.6 207.3h0.85M128.0 203.3h0.85M122.1 201.0h0.85M127.2 201.4h0.85M124.3 198.5h0.85M122.7 210.1h0.85M124.8 209.5h0.85M119.7 200.8h0.85M122.2 194.8h0.85M121.3 210.3h0.85M130.3 202.6h0.85M133.8 193.6h0.85M123.8 212.4h0.85M122.2 206.1h0.85M118.5 217.5h0.85M128.7 205.0h0.85M130.2 207.6h0.85M122.3 196.7h0.85M124.9 206.4h0.85M130.6 202.1h0.85M135.1 199.0h0.85M121.4 207.2h0.85M118.1 200.5h0.85M119.2 206.2h0.85M117.0 204.8h0.85M126.2 216.0h0.85M118.5 199.0h0.85M126.8 198.3h0.85M132.0 211.7h0.85M129.6 214.4h0.85M130.0 201.8h0.85M123.0 194.4h0.85M121.4 204.4h0.85M122.4 216.8h0.85M125.5 216.5h0.85M123.8 211.1h0.85M128.6 213.1h0.85M120.4 197.0h0.85M124.1 217.2h0.85M128.8 213.1h0.85M125.6 210.0h0.85M124.1 213.1h0.85M126.4 212.8h0.85M123.9 211.8h0.85M124.1 207.4h0.85M129.3 197.3h0.85M122.2 200.3h0.85M123.5 201.7h0.85M128.2 213.2h0.85M128.7 205.5h0.85M131.4 216.4h0.85M127.0 215.4h0.85M131.3 205.8h0.85M130.7 206.5h0.85M128.0 209.2h0.85M128.3 207.2h0.85M121.8 213.0h0.85M121.8 217.1h0.85M132.0 197.2h0.85M126.9 215.7h0.85M123.5 211.6h0.85M116.9 200.1h0.85M123.9 211.2h0.85M123.3 198.1h0.85M121.9 203.2h0.85M120.1 206.9h0.85M123.9 194.7h0.85M125.4 216.4h0.85M117.5 203.3h0.85M125.3 211.1h0.85M125.0 198.0h0.85M131.5 195.4h0.85M130.3 194.2h0.85M129.4 214.6h0.85M131.8 204.9h0.85M123.2 210.4h0.85M118.0 205.5h0.85M130.5 205.0h0.85M129.2 204.3h0.85M121.4 206.2h0.85M130.0 200.9h0.85M123.2 213.0h0.85M128.0 215.8h0.85M120.5 209.0h0.85M128.7 199.6h0.85M130.2 201.4h0.85M130.7 201.4h0.85M124.2 213.1h0.85M123.5 206.3h0.85M123.6 210.0h0.85M122.6 207.3h0.85M121.7 202.9h0.85M121.1 214.2h0.85M122.3 213.1h0.85M129.6 198.4h0.85M134.2 198.4h0.85M130.8 206.6h0.85M126.3 203.5h0.85M126.6 214.7h0.85M120.4 199.7h0.85M123.6 199.6h0.85M134.2 191.5h0.85M124.2 212.9h0.85M125.5 197.5h0.85M120.2 215.5h0.85M123.5 201.6h0.85M134.3 193.8h0.85M127.2 204.8h0.85M129.6 208.0h0.85M120.2 197.4h0.85M130.0 202.7h0.85M122.6 198.0h0.85M126.3 204.3h0.85M123.5 217.2h0.85M126.6 206.6h0.85M124.5 213.1h0.85M123.9 210.1h0.85M131.4 203.0h0.85M124.9 211.1h0.85M126.8 209.4h0.85M132.9 196.5h0.85M124.2 204.6h0.85M122.6 214.9h0.85M123.0 213.5h0.85M122.1 194.1h0.85M122.3 213.9h0.85M129.1 202.7h0.85M123.2 200.6h0.85M129.6 212.3h0.85M128.4 214.8h0.85M121.5 214.2h0.85M127.3 213.2h0.85M129.3 197.7h0.85M129.5 208.2h0.85M129.8 216.2h0.85M122.6 211.7h0.85M119.2 200.2h0.85M128.2 217.3h0.85M130.1 212.8h0.85M117.0 197.1h0.85M125.7 207.5h0.85M130.2 201.0h0.85M132.0 195.4h0.85M118.9 208.3h0.85M121.3 198.7h0.85M123.1 208.6h0.85M120.8 216.7h0.85M133.4 195.2h0.85M117.8 201.5h0.85M123.4 211.4h0.85M130.2 192.4h0.85M129.2 207.1h0.85M123.7 198.1h0.85M125.3 201.6h0.85M132.5 199.2h0.85M117.9 212.3h0.85M120.2 197.9h0.85M127.5 214.3h0.85M119.0 196.7h0.85M118.8 198.0h0.85M126.9 217.1h0.85M118.7 195.4h0.85M124.1 203.0h0.85M127.9 213.6h0.85M134.6 208.0h0.85M123.6 188.4h0.85M128.3 213.6h0.85M127.0 210.0h0.85M118.3 208.3h0.85M122.7 206.1h0.85M128.9 210.1h0.85M130.3 216.4h0.85M129.5 199.5h0.85M125.1 191.8h0.85M131.8 214.3h0.85M127.1 211.3h0.85M114.6 203.6h0.85M125.0 208.5h0.85M132.4 196.1h0.85M123.6 208.4h0.85M124.1 203.5h0.85M114.0 214.5h0.85M128.1 211.7h0.85M114.8 209.7h0.85M117.5 208.6h0.85M129.7 195.4h0.85M127.2 203.1h0.85M122.4 213.5h0.85M123.1 205.8h0.85M124.4 216.6h0.85M131.1 211.0h0.85M131.5 196.3h0.85M132.8 212.4h0.85M125.2 192.9h0.85M124.3 216.5h0.85M129.7 211.1h0.85M130.4 207.2h0.85M119.2 208.6h0.85M120.6 192.2h0.85M130.3 210.5h0.85M128.7 207.2h0.85M122.5 201.0h0.85M131.6 207.8h0.85M120.5 215.8h0.85M122.8 201.3h0.85M122.9 216.3h0.85M111.6 209.2h0.85M126.5 201.0h0.85M122.4 189.1h0.85M128.9 206.9h0.85M122.4 217.5h0.85M128.0 211.1h0.85M125.6 205.2h0.85M121.3 199.4h0.85M122.1 205.8h0.85M122.0 204.5h0.85M121.1 200.6h0.85M131.5 200.6h0.85M126.5 207.4h0.85M126.8 212.3h0.85M120.1 195.5h0.85M123.0 202.1h0.85M124.7 211.2h0.85M123.2 214.1h0.85M126.6 206.7h0.85M124.6 214.6h0.85M112.9 212.7h0.85M120.3 213.8h0.85M129.6 205.6h0.85M128.3 195.8h0.85M124.7 199.6h0.85M115.4 201.6h0.85M123.6 212.3h0.85M125.3 194.8h0.85M121.7 206.2h0.85M127.3 214.0h0.85M116.5 210.8h0.85M119.7 213.0h0.85M133.9 190.4h0.85M121.6 202.9h0.85M130.1 198.5h0.85M124.2 208.7h0.85M125.3 206.6h0.85M116.4 196.4h0.85M117.3 211.2h0.85M118.6 208.5h0.85M132.5 215.8h0.85M123.9 209.3h0.85M118.7 211.9h0.85M130.7 201.3h0.85M120.7 194.2h0.85M116.2 208.9h0.85M123.2 209.4h0.85M132.6 200.0h0.85M122.0 209.6h0.85M120.3 196.0h0.85M128.7 199.9h0.85M120.0 195.3h0.85M121.9 208.7h0.85M112.9 202.5h0.85M126.4 207.1h0.85M119.7 195.7h0.85M117.4 201.6h0.85M122.2 215.5h0.85M126.7 209.0h0.85M127.2 207.0h0.85M128.1 188.6h0.85M130.1 206.1h0.85M127.1 206.2h0.85M124.3 206.9h0.85M121.9 197.4h0.85M118.4 201.0h0.85M133.8 202.2h0.85M123.4 214.8h0.85M121.6 205.7h0.85M132.1 209.5h0.85M125.0 215.3h0.85M106.9 206.8h0.85M114.4 195.0h0.85M124.5 208.9h0.85M124.6 202.9h0.85M122.0 210.9h0.85M132.6 196.5h0.85M136.5 201.5h0.85M125.1 203.5h0.85M123.0 214.0h0.85M121.8 208.7h0.85M130.7 214.1h0.85M127.7 210.5h0.85M133.8 208.8h0.85M125.8 206.5h0.85M125.5 211.8h0.85M131.1 201.7h0.85M124.4 216.4h0.85M135.1 193.8h0.85M111.3 200.2h0.85M124.2 214.7h0.85M129.7 196.8h0.85M129.4 200.1h0.85M128.3 206.8h0.85M137.6 191.9h0.85M123.8 210.6h0.85M133.8 199.1h0.85M130.4 196.6h0.85M128.6 208.0h0.85M136.0 206.1h0.85M121.8 200.0h0.85M133.2 203.1h0.85M120.7 213.5h0.85M125.0 192.2h0.85M127.1 215.4h0.85M121.9 212.4h0.85M126.3 203.2h0.85M135.9 198.5h0.85M125.3 207.2h0.85M135.3 216.1h0.85M121.9 198.6h0.85M126.9 207.1h0.85M124.7 198.2h0.85M129.3 217.8h0.85M115.1 206.7h0.85M110.0 208.5h0.85M127.1 200.0h0.85M126.7 198.5h0.85M119.0 216.5h0.85M119.7 213.4h0.85M133.9 210.0h0.85M119.1 212.7h0.85M118.1 211.3h0.85M133.6 192.9h0.85M128.6 214.2h0.85M122.3 206.6h0.85M121.5 212.8h0.85M122.3 199.8h0.85M113.2 202.5h0.85M136.6 216.8h0.85M123.4 207.3h0.85M134.5 206.1h0.85M116.8 217.3h0.85M115.5 209.9h0.85M112.3 200.3h0.85M132.2 192.3h0.85M129.2 214.5h0.85M120.3 206.8h0.85M127.5 197.2h0.85M132.9 192.5h0.85M124.7 203.4h0.85M117.0 201.6h0.85M122.9 201.5h0.85M124.7 200.2h0.85M120.4 212.9h0.85M120.1 217.1h0.85M119.2 208.8h0.85M124.5 205.2h0.85M125.1 210.0h0.85M122.7 214.7h0.85M119.4 206.1h0.85M118.3 208.8h0.85M131.0 207.9h0.85M131.5 209.8h0.85M118.3 203.9h0.85M128.1 190.7h0.85M132.2 199.8h0.85M126.3 192.1h0.85M124.9 209.9h0.85M132.6 198.4h0.85M122.4 209.2h0.85M124.8 192.7h0.85M123.3 203.9h0.85M117.6 191.9h0.85M123.5 204.9h0.85M114.3 200.3h0.85M119.7 205.2h0.85M119.3 213.7h0.85M115.7 199.1h0.85M128.3 196.9h0.85M128.5 206.6h0.85M124.9 200.1h0.85M127.5 196.2h0.85M132.9 204.4h0.85M117.4 197.7h0.85M115.3 191.3h0.85M130.5 202.5h0.85M129.4 203.4h0.85M120.9 212.3h0.85M129.9 204.7h0.85M121.1 208.6h0.85M128.8 191.2h0.85M120.0 195.3h0.85M126.2 198.8h0.85M122.4 212.9h0.85M136.5 192.4h0.85M121.3 192.6h0.85M129.4 201.8h0.85M121.6 209.7h0.85M127.2 206.9h0.85M121.5 191.8h0.85M127.4 189.6h0.85M122.9 204.7h0.85M132.3 202.2h0.85M132.7 201.8h0.85M118.9 207.8h0.85M121.8 196.2h0.85M120.5 209.8h0.85M127.6 200.1h0.85M129.5 199.0h0.85M126.3 205.9h0.85M117.8 201.2h0.85M120.4 204.7h0.85M119.0 203.3h0.85M124.0 201.1h0.85M127.2 210.3h0.85M123.7 198.3h0.85M133.4 196.9h0.85M130.4 210.1h0.85M133.7 204.3h0.85M121.6 206.3h0.85M129.1 199.4h0.85M125.6 210.1h0.85M131.7 210.8h0.85M132.2 214.9h0.85M123.8 207.7h0.85M124.1 215.7h0.85M122.9 217.0h0.85M125.6 212.4h0.85M125.2 212.8h0.85M121.0 196.9h0.85M127.9 196.6h0.85M114.5 196.7h0.85M137.0 215.4h0.85M136.0 205.4h0.85M122.4 208.2h0.85M120.2 205.4h0.85M129.8 186.5h0.85M133.3 211.6h0.85M117.8 212.7h0.85M131.2 211.4h0.85M120.1 202.6h0.85M121.0 200.8h0.85M123.5 198.7h0.85M122.2 209.2h0.85M125.7 208.8h0.85M127.2 201.5h0.85M125.1 204.6h0.85M118.3 204.3h0.85M112.8 213.2h0.85M119.9 193.1h0.85M121.6 213.0h0.85M131.6 209.9h0.85M130.3 195.7h0.85M115.8 206.3h0.85M123.9 209.8h0.85M126.5 216.5h0.85M123.5 206.9h0.85M125.4 210.1h0.85M128.0 210.7h0.85M128.6 213.7h0.85M122.7 212.9h0.85M127.0 192.0h0.85M125.4 211.9h0.85M122.8 198.9h0.85M121.7 193.5h0.85M115.2 201.3h0.85M127.6 213.4h0.85M126.3 195.9h0.85M118.0 201.5h0.85M119.0 205.5h0.85M120.0 204.0h0.85M120.2 208.8h0.85M133.4 208.9h0.85M130.1 206.6h0.85M131.1 198.2h0.85M120.9 209.5h0.85M126.5 203.6h0.85M121.7 202.7h0.85M129.6 198.8h0.85M132.6 195.3h0.85M122.5 204.3h0.85M126.5 209.6h0.85M114.8 189.3h0.85M127.1 209.0h0.85M122.5 203.7h0.85M131.1 210.5h0.85M132.5 190.1h0.85M117.1 196.7h0.85M128.1 215.0h0.85M124.2 209.8h0.85M122.3 206.5h0.85M126.9 210.5h0.85M122.3 208.0h0.85M121.9 213.1h0.85M113.3 205.1h0.85M128.9 196.9h0.85M131.8 213.2h0.85M129.7 203.7h0.85M126.1 198.7h0.85M129.5 200.0h0.85M124.6 199.2h0.85M125.4 204.8h0.85M118.2 207.5h0.85M120.9 199.6h0.85M113.4 210.2h0.85M125.7 208.9h0.85M126.8 195.6h0.85M132.0 186.7h0.85M131.4 195.8h0.85M118.0 204.8h0.85M131.8 196.9h0.85M129.8 197.6h0.85M123.1 205.1h0.85M123.3 204.3h0.85M129.0 192.9h0.85M123.6 203.0h0.85M132.5 205.9h0.85M129.4 208.4h0.85M124.3 211.1h0.85M123.0 215.4h0.85M130.7 214.0h0.85M123.8 211.8h0.85M123.7 208.7h0.85M132.6 198.2h0.85M127.7 210.2h0.85M116.7 196.6h0.85M132.5 193.3h0.85M123.0 193.9h0.85M124.6 206.6h0.85M132.3 217.4h0.85M121.1 209.3h0.85M121.9 205.0h0.85M122.7 203.8h0.85M127.7 199.5h0.85M134.6 185.5h0.85M122.2 193.0h0.85M131.9 194.3h0.85M124.3 194.5h0.85M131.2 217.3h0.85M127.4 196.9h0.85M125.5 204.5h0.85M136.8 208.0h0.85M127.4 206.3h0.85M126.6 208.0h0.85M119.2 193.3h0.85M120.1 208.3h0.85M130.6 197.5h0.85M132.1 212.7h0.85M119.4 212.2h0.85M130.6 213.7h0.85M118.1 210.7h0.85M138.3 207.9h0.85M131.2 194.0h0.85M126.1 206.5h0.85M135.1 204.0h0.85M121.3 198.5h0.85M121.4 212.6h0.85M133.5 201.6h0.85M128.3 204.7h0.85M122.6 213.8h0.85M120.6 203.7h0.85M132.3 202.5h0.85M124.2 209.5h0.85M131.8 214.3h0.85M117.7 202.9h0.85M113.8 192.8h0.85M128.1 210.3h0.85M126.6 195.1h0.85M138.5 214.0h0.85M130.3 205.5h0.85M124.7 215.5h0.85M117.6 195.9h0.85M121.4 206.7h0.85M128.3 209.2h0.85M121.3 196.6h0.85M128.6 203.7h0.85M127.2 215.8h0.85M122.4 213.0h0.85M128.7 213.2h0.85M124.7 199.2h0.85M126.7 204.0h0.85M120.5 216.9h0.85M137.4 199.8h0.85M125.4 214.9h0.85M128.1 206.6h0.85M129.6 211.7h0.85M127.6 200.4h0.85M132.5 214.1h0.85M134.8 192.7h0.85M133.3 197.6h0.85M120.6 215.1h0.85M121.0 211.9h0.85M132.9 203.7h0.85M122.5 210.5h0.85M123.3 206.6h0.85M124.0 213.1h0.85M124.6 195.3h0.85M124.7 199.9h0.85M123.7 203.0h0.85M129.8 198.5h0.85M129.3 196.9h0.85M127.1 205.9h0.85M121.4 215.2h0.85M126.5 208.9h0.85M122.2 201.4h0.85M128.6 192.5h0.85M124.6 199.8h0.85M130.0 199.7h0.85M116.2 204.3h0.85M128.8 213.5h0.85M124.6 207.4h0.85M121.4 217.1h0.85M115.9 192.5h0.85M129.6 191.0h0.85M118.0 202.0h0.85M138.9 203.0h0.85M135.2 194.3h0.85M134.2 205.6h0.85M126.4 196.5h0.85M136.8 196.9h0.85M126.8 206.8h0.85M132.1 208.7h0.85M129.0 216.9h0.85M125.9 200.0h0.85M127.0 206.6h0.85M139.2 206.4h0.85M118.4 201.3h0.85M127.2 215.1h0.85M129.7 205.8h0.85M120.2 200.2h0.85M123.6 205.9h0.85M129.6 216.0h0.85M127.9 202.5h0.85M129.5 193.3h0.85M126.9 211.0h0.85M131.0 212.9h0.85M123.8 194.6h0.85M132.1 204.4h0.85M135.6 199.3h0.85M127.3 206.4h0.85M125.7 205.0h0.85M115.4 206.6h0.85M124.3 206.6h0.85M132.6 206.2h0.85M130.8 192.5h0.85M130.0 211.7h0.85M122.3 215.8h0.85M135.0 200.9h0.85M124.5 209.3h0.85M114.4 204.3h0.85M116.8 190.7h0.85M132.7 193.9h0.85M124.7 194.0h0.85M130.6 204.0h0.85M131.0 212.2h0.85M123.9 200.4h0.85M126.3 212.5h0.85M125.9 217.6h0.85M135.8 198.2h0.85M124.8 196.5h0.85M123.5 208.0h0.85M136.2 205.9h0.85M129.5 199.9h0.85M133.4 191.4h0.85M122.2 213.4h0.85M122.9 208.2h0.85M115.4 202.7h0.85M130.3 210.0h0.85M125.0 211.2h0.85M121.9 210.7h0.85M123.4 193.9h0.85M116.6 214.1h0.85M130.6 202.7h0.85M128.4 214.2h0.85M126.4 211.4h0.85M124.9 207.8h0.85M113.7 201.7h0.85M120.1 203.6h0.85M141.5 215.8h0.85M123.8 208.7h0.85M133.1 192.2h0.85M127.8 214.6h0.85M126.2 207.2h0.85M125.0 194.9h0.85M119.7 210.9h0.85M119.2 197.9h0.85M123.4 212.9h0.85M127.4 215.0h0.85M124.4 213.4h0.85M119.1 194.4h0.85M136.0 195.7h0.85M124.7 201.8h0.85M123.7 209.5h0.85M137.3 212.1h0.85M116.1 211.3h0.85M122.5 196.3h0.85M121.4 207.5h0.85M125.7 207.0h0.85M114.5 203.5h0.85M134.4 201.0h0.85M119.1 211.5h0.85M125.3 204.3h0.85M119.3 192.0h0.85M122.9 213.8h0.85M127.9 214.2h0.85M124.4 217.1h0.85M135.0 200.4h0.85M121.7 198.8h0.85M134.7 197.4h0.85M121.7 208.3h0.85M127.9 215.1h0.85M137.0 191.0h0.85M130.9 189.4h0.85M125.7 209.5h0.85M125.1 207.6h0.85M129.7 213.2h0.85M123.6 205.7h0.85M125.6 212.9h0.85M122.6 196.1h0.85M111.9 196.0h0.85M132.6 200.9h0.85M122.7 209.5h0.85M130.4 203.9h0.85M128.2 205.1h0.85M128.3 202.3h0.85M125.2 201.5h0.85M122.5 200.1h0.85M122.0 210.3h0.85M134.0 188.7h0.85M119.4 198.9h0.85M126.5 203.2h0.85M125.4 194.3h0.85M120.6 211.6h0.85M125.3 194.9h0.85M129.1 205.2h0.85M137.6 207.3h0.85M127.3 216.9h0.85M124.6 200.2h0.85M131.3 212.4h0.85M123.6 195.9h0.85M124.2 214.3h0.85M124.3 195.8h0.85M122.4 209.3h0.85M130.5 200.8h0.85M130.9 190.7h0.85M116.6 199.9h0.85M126.9 209.6h0.85M129.9 199.9h0.85M123.6 213.8h0.85M120.2 206.6h0.85M134.6 207.0h0.85M136.0 205.5h0.85M119.5 214.2h0.85M121.7 204.1h0.85M119.0 202.2h0.85M118.7 213.2h0.85M128.9 207.0h0.85M135.8 212.2h0.85M132.5 199.4h0.85M119.6 199.2h0.85M118.3 200.1h0.85M131.9 189.3h0.85M128.1 215.3h0.85M119.8 208.7h0.85M122.3 214.9h0.85M131.2 207.7h0.85M136.0 190.5h0.85M122.1 209.6h0.85M131.9 215.0h0.85M117.5 209.3h0.85M123.6 209.6h0.85M121.6 209.3h0.85M118.8 201.9h0.85M132.0 216.6h0.85M128.2 209.2h0.85M129.3 196.8h0.85M129.0 202.4h0.85M128.4 215.9h0.85M113.0 207.4h0.85M131.3 213.6h0.85M130.0 210.6h0.85M115.8 203.9h0.85M120.5 199.4h0.85M114.7 206.6h0.85M130.8 214.1h0.85M126.2 207.1h0.85M130.5 198.3h0.85M138.4 204.6h0.85M117.4 203.6h0.85M122.2 205.9h0.85M128.9 213.8h0.85M123.2 211.0h0.85M125.9 216.0h0.85M126.7 205.1h0.85M121.3 184.8h0.85M126.8 215.3h0.85M125.2 202.8h0.85M118.6 214.5h0.85M126.3 207.3h0.85M121.6 206.6h0.85M129.9 209.8h0.85M128.1 210.8h0.85M126.4 202.4h0.85M122.8 209.4h0.85M120.9 200.7h0.85M126.2 211.6h0.85M122.3 198.7h0.85M131.4 198.3h0.85M129.0 192.4h0.85M114.3 200.5h0.85M124.8 215.1h0.85M134.4 194.6h0.85M125.9 209.4h0.85M121.9 207.1h0.85M129.8 211.4h0.85M128.7 196.0h0.85M116.0 207.4h0.85M121.0 211.2h0.85M128.8 210.4h0.85M121.6 206.6h0.85M118.2 205.3h0.85M123.2 214.9h0.85M127.9 200.2h0.85M138.4 194.7h0.85M117.7 197.1h0.85M126.4 189.9h0.85M119.0 200.4h0.85M115.2 199.9h0.85M126.3 211.8h0.85M134.2 210.7h0.85M117.5 209.2h0.85M116.7 211.4h0.85M138.9 200.2h0.85M127.0 211.0h0.85M113.8 197.6h0.85M117.1 206.1h0.85M132.8 188.9h0.85M132.4 194.6h0.85M132.2 197.4h0.85M124.7 190.0h0.85M118.7 210.2h0.85M116.7 193.2h0.85M123.1 211.7h0.85M127.2 203.7h0.85M118.0 206.3h0.85M132.3 203.0h0.85M120.4 201.9h0.85M131.3 197.7h0.85M124.6 206.6h0.85M128.8 196.6h0.85M128.0 204.9h0.85M131.9 204.9h0.85M111.5 199.6h0.85M129.5 206.7h0.85M127.7 209.3h0.85M120.3 197.7h0.85M127.4 214.0h0.85M124.8 200.9h0.85M117.9 215.0h0.85M125.6 208.4h0.85M121.5 205.0h0.85M132.5 209.7h0.85M137.0 188.4h0.85M118.7 207.1h0.85M124.6 213.3h0.85M121.7 210.6h0.85M128.0 210.6h0.85M133.2 208.7h0.85M119.3 205.2h0.85M123.4 217.5h0.85M121.1 214.1h0.85M127.1 216.5h0.85M121.9 201.3h0.85M135.3 213.7h0.85M131.6 205.4h0.85M121.8 204.1h0.85M130.7 190.5h0.85M117.9 208.0h0.85M122.3 197.0h0.85M129.6 212.7h0.85M135.0 209.4h0.85M125.1 216.4h0.85M126.0 211.4h0.85M121.4 216.4h0.85M120.6 196.8h0.85M129.3 211.1h0.85M121.9 197.7h0.85M131.7 215.1h0.85M125.6 202.2h0.85M128.9 211.4h0.85M116.9 199.5h0.85M119.5 204.5h0.85M129.3 211.4h0.85M122.5 202.7h0.85M132.0 203.4h0.85M137.5 210.6h0.85M126.4 209.7h0.85M118.6 217.1h0.85M128.9 208.6h0.85M125.4 207.7h0.85M132.0 209.1h0.85M129.2 216.1h0.85M116.1 194.6h0.85M123.7 209.5h0.85M125.8 195.8h0.85M139.3 194.6h0.85M124.3 209.6h0.85M131.7 216.8h0.85M128.4 200.9h0.85M131.6 199.2h0.85M128.7 210.1h0.85M133.7 211.8h0.85M123.8 205.8h0.85M126.6 198.2h0.85M127.3 207.7h0.85M119.4 201.3h0.85M115.0 202.1h0.85M136.8 196.2h0.85M119.7 203.6h0.85M130.2 191.3h0.85M134.8 198.9h0.85M118.7 207.3h0.85M124.4 195.4h0.85M114.1 205.2h0.85M121.9 196.7h0.85M132.9 214.9h0.85M127.5 213.1h0.85M130.8 210.3h0.85M121.0 205.5h0.85M127.9 211.8h0.85M126.3 200.1h0.85M117.8 210.3h0.85M128.7 198.0h0.85M118.4 195.5h0.85M124.8 203.1h0.85M127.1 210.8h0.85M135.5 196.0h0.85M114.5 195.5h0.85M115.2 210.3h0.85M131.7 209.7h0.85M118.4 200.4h0.85M122.9 205.0h0.85M118.0 213.5h0.85M117.7 202.5h0.85M132.4 201.1h0.85M134.3 193.2h0.85M126.2 217.6h0.85M122.2 204.3h0.85M127.5 217.5h0.85M135.1 196.2h0.85M123.6 200.2h0.85M119.2 208.7h0.85M122.0 217.1h0.85M132.5 198.4h0.85M129.6 191.3h0.85M118.1 200.5h0.85M116.9 205.5h0.85M122.7 201.1h0.85M114.6 200.1h0.85M124.0 217.2h0.85M127.2 213.0h0.85M139.5 196.8h0.85M119.6 198.7h0.85M126.5 196.2h0.85M130.7 203.4h0.85M118.9 207.1h0.85M124.2 207.5h0.85M118.1 201.1h0.85M122.7 198.9h0.85M123.6 206.3h0.85M114.0 204.7h0.85M126.7 203.1h0.85M118.1 196.7h0.85M124.7 210.6h0.85M126.9 204.0h0.85M132.9 209.5h0.85M126.2 193.2h0.85M130.8 198.5h0.85M134.0 198.8h0.85M126.8 212.2h0.85M125.8 206.4h0.85M121.3 209.0h0.85M128.7 211.3h0.85M127.4 208.8h0.85M122.7 212.6h0.85M122.9 213.7h0.85M127.9 202.9h0.85M128.7 213.0h0.85M123.6 214.9h0.85M129.4 196.1h0.85M124.7 198.8h0.85M129.9 216.2h0.85M118.6 208.2h0.85M121.6 217.2h0.85M129.3 208.0h0.85M118.6 209.7h0.85M123.9 193.0h0.85M120.7 210.5h0.85M119.9 213.5h0.85M126.0 201.2h0.85M110.2 196.6h0.85M127.8 198.8h0.85M124.8 193.8h0.85M119.1 198.2h0.85M125.2 191.3h0.85M134.7 217.5h0.85M120.5 213.2h0.85M125.0 187.7h0.85M127.6 205.8h0.85M128.8 198.8h0.85M117.2 200.6h0.85M127.2 210.4h0.85M114.9 202.6h0.85M122.9 205.3h0.85M127.9 207.9h0.85M129.3 203.3h0.85M124.8 214.0h0.85M125.4 214.6h0.85M128.8 212.5h0.85M124.9 201.3h0.85M132.3 193.5h0.85M127.2 188.6h0.85M131.9 198.7h0.85M122.6 214.6h0.85M121.6 202.6h0.85M132.2 185.5h0.85M124.4 204.8h0.85M124.6 197.3h0.85M134.2 191.1h0.85M116.4 208.7h0.85M114.7 208.3h0.85M122.9 213.8h0.85M120.6 206.3h0.85M120.2 198.6h0.85M122.5 197.9h0.85M126.3 204.1h0.85M132.8 211.5h0.85M133.5 207.8h0.85M127.7 202.7h0.85M118.5 200.0h0.85M122.7 204.5h0.85M128.0 214.8h0.85M130.5 198.2h0.85M119.9 212.3h0.85M125.2 208.7h0.85M124.7 203.9h0.85M129.2 196.3h0.85M122.2 197.2h0.85M132.5 204.8h0.85M135.5 204.4h0.85M122.1 209.1h0.85M126.7 212.9h0.85M127.6 204.0h0.85M125.4 197.1h0.85M134.7 210.3h0.85M124.7 199.1h0.85M119.8 206.0h0.85M127.7 214.0h0.85M122.7 205.8h0.85M128.2 209.1h0.85M128.0 216.3h0.85M126.4 216.0h0.85M135.4 212.7h0.85M128.9 196.1h0.85M132.5 198.4h0.85M125.6 208.8h0.85M117.1 216.3h0.85M131.0 205.1h0.85M121.7 195.8h0.85M120.3 197.5h0.85M129.9 195.3h0.85M128.6 211.5h0.85M120.1 195.0h0.85M118.9 213.0h0.85M140.3 197.6h0.85M130.6 206.9h0.85M118.2 197.8h0.85M133.5 200.3h0.85M117.2 195.8h0.85M121.8 209.6h0.85M132.0 212.2h0.85M121.9 211.6h0.85M125.5 208.8h0.85M121.0 198.7h0.85M126.5 204.1h0.85M126.2 209.2h0.85M131.1 214.5h0.85M129.4 203.7h0.85M131.3 211.8h0.85M121.9 210.2h0.85M120.0 211.0h0.85M121.4 212.1h0.85M133.3 207.7h0.85M115.0 198.4h0.85M126.0 200.8h0.85M130.2 217.3h0.85M122.1 205.5h0.85M124.7 201.5h0.85M135.1 216.1h0.85M125.4 210.1h0.85M119.1 199.2h0.85M124.0 201.3h0.85M129.3 201.4h0.85M120.8 205.7h0.85M124.0 200.3h0.85M127.8 212.3h0.85M132.2 197.4h0.85M118.0 202.5h0.85M133.9 204.7h0.85M129.1 207.7h0.85M115.9 210.8h0.85M127.9 216.4h0.85M122.7 192.1h0.85M125.3 199.8h0.85M111.4 197.6h0.85M126.0 208.6h0.85M123.8 205.0h0.85M127.2 216.3h0.85M125.8 204.1h0.85M120.7 211.1h0.85M131.7 189.7h0.85M120.0 206.5h0.85M136.6 211.5h0.85M115.4 194.6h0.85M128.7 208.1h0.85M133.8 202.0h0.85M130.0 200.7h0.85M129.4 197.6h0.85M126.2 205.2h0.85M125.2 203.8h0.85M118.5 215.0h0.85M130.5 203.3h0.85M121.3 202.7h0.85M120.6 205.1h0.85M128.3 210.8h0.85M122.5 204.6h0.85M117.3 202.3h0.85M117.3 217.8h0.85M118.4 216.0h0.85M130.7 203.7h0.85M125.3 214.3h0.85M127.7 201.3h0.85M132.8 198.5h0.85M113.0 212.7h0.85M121.7 203.5h0.85M126.9 212.4h0.85M123.2 203.9h0.85M134.8 202.0h0.85M121.2 206.7h0.85M135.6 213.4h0.85M118.3 195.2h0.85M134.4 216.0h0.85M125.7 209.9h0.85M131.9 207.0h0.85M124.3 195.5h0.85M124.0 212.8h0.85M124.5 199.2h0.85M121.2 207.9h0.85M117.7 198.3h0.85M125.7 208.8h0.85M128.7 200.5h0.85M119.7 200.8h0.85M119.9 212.5h0.85M122.6 207.7h0.85M124.6 198.6h0.85M132.0 192.3h0.85M122.7 208.7h0.85M124.4 191.6h0.85M122.4 210.5h0.85M131.0 193.4h0.85M128.1 215.8h0.85M119.9 195.2h0.85M123.5 207.5h0.85M123.1 212.8h0.85M129.7 212.5h0.85M121.9 210.6h0.85M129.0 197.9h0.85M134.8 199.9h0.85M122.0 212.1h0.85M114.9 201.5h0.85M121.6 217.1h0.85M132.1 214.8h0.85M124.8 199.3h0.85M129.4 211.8h0.85M134.4 209.2h0.85M135.3 211.1h0.85M128.5 189.4h0.85M133.1 201.0h0.85M121.0 203.8h0.85M130.0 215.0h0.85M122.0 217.8h0.85M125.1 206.8h0.85M122.9 212.6h0.85M127.1 211.3h0.85M120.8 209.0h0.85M130.3 206.2h0.85M126.3 195.1h0.85M126.5 208.0h0.85M129.9 195.5h0.85M130.6 215.9h0.85M128.8 196.7h0.85M123.1 215.8h0.85M127.9 212.0h0.85M124.8 214.4h0.85M126.6 204.3h0.85M115.9 203.8h0.85M128.3 205.2h0.85M125.4 217.6h0.85M123.8 202.3h0.85M117.6 201.5h0.85M122.6 198.8h0.85M127.7 210.9h0.85M120.9 217.6h0.85M137.7 206.7h0.85M132.2 209.7h0.85M122.6 195.7h0.85M122.4 212.4h0.85M129.5 208.3h0.85M130.2 202.1h0.85M125.0 214.2h0.85M122.2 207.0h0.85M120.7 199.1h0.85M128.9 194.5h0.85M124.0 213.9h0.85M132.0 200.3h0.85M129.4 212.0h0.85M135.8 216.7h0.85M134.9 215.7h0.85M123.0 215.0h0.85M130.0 202.2h0.85M126.5 204.4h0.85M126.8 199.4h0.85M117.8 200.8h0.85M130.9 201.1h0.85M127.8 193.8h0.85M118.8 209.4h0.85M121.8 213.8h0.85M125.8 200.1h0.85M119.1 217.6h0.85M126.3 208.1h0.85M132.0 192.5h0.85M126.4 212.9h0.85M121.1 200.9h0.85M121.3 211.2h0.85M127.5 197.5h0.85M146.8 197.9h0.85M123.2 191.6h0.85M121.4 206.2h0.85M116.9 211.9h0.85M133.1 201.5h0.85M120.1 205.5h0.85M129.7 215.1h0.85M124.2 201.2h0.85M118.7 193.6h0.85M120.0 206.4h0.85M113.1 212.8h0.85M121.6 196.2h0.85M125.1 213.5h0.85M118.5 215.8h0.85M110.9 208.0h0.85M119.4 202.6h0.85M129.2 208.3h0.85M121.8 187.8h0.85M133.4 207.4h0.85M126.4 204.1h0.85M135.4 207.7h0.85M130.2 200.0h0.85M128.2 214.6h0.85M117.3 208.1h0.85M127.6 196.4h0.85M116.4 206.6h0.85M136.5 206.5h0.85M127.7 205.4h0.85M133.2 198.3h0.85M115.7 199.4h0.85M127.8 207.2h0.85M119.9 198.5h0.85M132.8 213.4h0.85M126.6 208.1h0.85M124.7 205.6h0.85M119.8 193.1h0.85M130.2 213.0h0.85M130.0 217.1h0.85M126.6 197.4h0.85M126.2 213.0h0.85M131.7 194.1h0.85M134.6 199.7h0.85M117.9 211.7h0.85M116.1 207.9h0.85M119.4 212.8h0.85M134.2 187.6h0.85M127.8 200.2h0.85M120.7 208.1h0.85M121.0 211.4h0.85M126.0 194.6h0.85M128.3 214.1h0.85M125.4 202.0h0.85M134.0 208.1h0.85M134.2 212.7h0.85M124.5 203.8h0.85M129.1 207.5h0.85M120.1 208.0h0.85M117.8 194.3h0.85M120.6 206.1h0.85M115.3 215.7h0.85M126.7 206.8h0.85M130.3 201.4h0.85M117.7 207.1h0.85M128.5 209.1h0.85M118.0 204.8h0.85M122.9 194.3h0.85M126.0 205.9h0.85M128.6 215.5h0.85M130.6 192.3h0.85M127.5 212.5h0.85M119.3 190.6h0.85M134.9 204.9h0.85M130.5 193.7h0.85M125.8 212.3h0.85M128.5 212.7h0.85M126.2 214.1h0.85M126.8 201.0h0.85M124.7 193.1h0.85M131.1 217.0h0.85M122.1 196.8h0.85M123.1 208.6h0.85M122.4 204.6h0.85M129.7 208.7h0.85M124.0 209.6h0.85M126.7 210.5h0.85M126.7 206.6h0.85M130.2 195.0h0.85M122.0 201.7h0.85M132.0 211.3h0.85M134.4 201.8h0.85M131.3 191.3h0.85M114.2 213.3h0.85M130.2 195.1h0.85M128.4 215.7h0.85M117.9 194.6h0.85M125.2 192.4h0.85M131.7 210.5h0.85M122.9 192.8h0.85M121.1 212.4h0.85M125.5 212.7h0.85M126.5 211.1h0.85M127.7 202.2h0.85M134.9 196.1h0.85M131.4 213.1h0.85M130.5 194.0h0.85M129.2 212.7h0.85M128.1 196.1h0.85M130.5 203.1h0.85M122.7 199.2h0.85M131.3 193.4h0.85M125.7 208.5h0.85M128.3 202.0h0.85M129.1 207.7h0.85M130.1 202.1h0.85M132.6 208.5h0.85M117.7 212.6h0.85M125.8 210.4h0.85M129.9 210.3h0.85M121.6 202.1h0.85M125.7 203.3h0.85M132.9 212.5h0.85M117.5 213.2h0.85M115.2 199.9h0.85M129.0 199.1h0.85M134.4 205.2h0.85M129.1 211.0h0.85M119.1 205.7h0.85M120.5 213.6h0.85M122.3 201.6h0.85M123.9 212.5h0.85M125.0 215.6h0.85M124.4 209.7h0.85M117.2 201.8h0.85M128.9 216.1h0.85M134.8 190.0h0.85M126.1 195.4h0.85M136.0 199.9h0.85M129.2 212.5h0.85M127.7 200.6h0.85M117.2 206.5h0.85M129.3 210.6h0.85M120.4 215.7h0.85M114.8 204.4h0.85M123.9 208.2h0.85M122.8 211.3h0.85M117.3 197.4h0.85M122.9 196.8h0.85M125.4 205.1h0.85M125.5 215.6h0.85M124.2 210.9h0.85M118.0 208.0h0.85M128.9 202.7h0.85M126.3 202.2h0.85M133.7 204.6h0.85M124.5 204.7h0.85M127.8 216.9h0.85M122.4 195.7h0.85M118.4 196.7h0.85M125.3 215.0h0.85M133.5 206.4h0.85M124.3 199.0h0.85M135.9 197.6h0.85M134.5 207.3h0.85M119.5 215.2h0.85M130.4 211.9h0.85M117.4 194.5h0.85M122.9 206.4h0.85M125.4 215.9h0.85M122.1 196.7h0.85M130.6 211.8h0.85M121.6 211.0h0.85M129.5 199.4h0.85M120.2 212.0h0.85M127.9 208.0h0.85M119.6 207.8h0.85M126.0 205.5h0.85M127.6 194.6h0.85M120.3 198.1h0.85M116.4 196.6h0.85M123.9 204.4h0.85M122.4 217.4h0.85M126.5 198.6h0.85M130.4 204.9h0.85M132.2 199.2h0.85M125.1 191.3h0.85M120.8 203.6h0.85M124.5 202.4h0.85M116.2 203.6h0.85M124.9 197.2h0.85M123.9 204.6h0.85M120.4 199.7h0.85M123.3 200.8h0.85M123.5 198.2h0.85M123.8 203.3h0.85M132.2 212.5h0.85M126.0 215.8h0.85M123.4 202.3h0.85M124.4 200.2h0.85M120.8 209.1h0.85M114.0 198.2h0.85M114.3 204.2h0.85M110.9 196.4h0.85M128.7 211.4h0.85M131.6 200.9h0.85M132.1 202.3h0.85M125.0 189.9h0.85M126.4 211.2h0.85M118.6 216.2h0.85M127.8 207.1h0.85M121.1 213.4h0.85M134.9 213.7h0.85M118.5 206.7h0.85M126.8 188.0h0.85M121.0 197.1h0.85M122.3 192.7h0.85M117.1 196.2h0.85M120.9 214.8h0.85M115.2 202.4h0.85M129.4 204.7h0.85M125.5 210.2h0.85M127.4 200.9h0.85M131.1 213.1h0.85M127.8 202.9h0.85M121.7 205.5h0.85M119.0 200.1h0.85M130.7 197.1h0.85M125.6 203.1h0.85M133.0 202.0h0.85M129.3 214.6h0.85M123.9 204.5h0.85M122.8 210.8h0.85M119.6 202.0h0.85M112.8 212.0h0.85M121.6 208.3h0.85M125.4 208.1h0.85M130.7 198.9h0.85M122.4 199.0h0.85M125.2 195.1h0.85M131.5 216.8h0.85M123.1 204.4h0.85M136.7 208.4h0.85M126.5 210.3h0.85M126.0 214.7h0.85M118.5 208.4h0.85M119.6 201.6h0.85M121.5 213.2h0.85M133.0 207.6h0.85M128.9 207.5h0.85M127.2 213.2h0.85M133.6 202.5h0.85M115.3 200.3h0.85M125.7 208.2h0.85M130.9 209.8h0.85M123.3 210.0h0.85M127.1 207.2h0.85M120.9 214.3h0.85M119.9 214.6h0.85M113.7 199.5h0.85M136.5 211.7h0.85M128.4 190.0h0.85M130.7 193.3h0.85M124.8 204.8h0.85M123.4 199.1h0.85M128.7 201.4h0.85M130.6 211.2h0.85M126.6 200.3h0.85M121.7 194.1h0.85M122.3 204.4h0.85M111.1 213.1h0.85M126.6 210.8h0.85M138.6 198.8h0.85M131.2 205.2h0.85M122.2 196.3h0.85M110.8 204.8h0.85M122.7 196.8h0.85M118.1 196.6h0.85M127.1 216.3h0.85M122.4 215.8h0.85M123.3 213.9h0.85M122.1 200.5h0.85M135.2 207.0h0.85M132.9 190.6h0.85M123.7 203.0h0.85M135.3 189.8h0.85M128.2 212.8h0.85M133.7 207.6h0.85M119.0 215.1h0.85M121.1 202.7h0.85M118.0 208.6h0.85M128.7 207.9h0.85M129.6 200.6h0.85M120.1 200.5h0.85M138.7 198.4h0.85M119.8 215.6h0.85M122.8 197.2h0.85M122.5 205.3h0.85M121.3 197.8h0.85M126.4 215.7h0.85M126.8 196.8h0.85M124.9 213.7h0.85M136.0 189.0h0.85M123.4 206.9h0.85M134.9 205.2h0.85M126.0 199.0h0.85M128.9 194.2h0.85M120.9 206.4h0.85M126.7 205.0h0.85M125.3 207.7h0.85M124.9 211.0h0.85M123.8 197.2h0.85M133.4 206.0h0.85M130.8 203.0h0.85M131.6 213.7h0.85M125.0 210.7h0.85M135.9 200.4h0.85M131.6 207.7h0.85M133.3 197.5h0.85M119.3 204.7h0.85M137.5 209.6h0.85M126.0 216.8h0.85M118.0 212.8h0.85M118.8 195.1h0.85M119.4 196.9h0.85M121.3 201.2h0.85M127.3 193.9h0.85M118.4 196.8h0.85M130.9 194.3h0.85M133.2 197.2h0.85M126.2 214.2h0.85M127.1 207.4h0.85M117.2 205.2h0.85M130.4 198.5h0.85M124.4 215.7h0.85M129.0 202.8h0.85M121.8 198.8h0.85M119.6 206.7h0.85M134.9 202.9h0.85M118.0 200.4h0.85M134.6 201.1h0.85M129.8 214.7h0.85M119.9 213.0h0.85M120.7 206.3h0.85M114.4 203.8h0.85M119.8 201.9h0.85M128.2 209.8h0.85M121.1 205.5h0.85M123.6 199.5h0.85M127.7 191.0h0.85M123.4 194.4h0.85M121.0 198.7h0.85M124.7 215.3h0.85M125.4 214.4h0.85M123.1 201.7h0.85M132.3 217.8h0.85M134.1 203.7h0.85M119.6 198.7h0.85M121.6 198.8h0.85M120.4 204.4h0.85M131.0 197.3h0.85M126.0 203.7h0.85M126.7 197.6h0.85M122.2 211.1h0.85M122.4 211.1h0.85M133.9 197.8h0.85M117.6 196.3h0.85M128.4 191.1h0.85M131.8 196.3h0.85M119.3 206.9h0.85M123.9 214.4h0.85M126.9 206.3h0.85M130.4 214.7h0.85M124.0 198.5h0.85M130.9 214.5h0.85M123.7 210.4h0.85M121.5 205.0h0.85M134.5 206.7h0.85M117.3 206.4h0.85M124.0 199.1h0.85M124.6 209.0h0.85M129.3 212.3h0.85M107.9 205.5h0.85M120.3 212.4h0.85M129.6 215.8h0.85M128.3 215.0h0.85M122.4 212.4h0.85M131.1 208.0h0.85M130.9 217.6h0.85M117.0 202.4h0.85M129.1 198.3h0.85M126.5 206.1h0.85M121.9 208.5h0.85M122.2 203.4h0.85M125.6 209.9h0.85M134.9 195.3h0.85M131.0 213.1h0.85M128.8 197.1h0.85M115.3 202.5h0.85M128.8 215.1h0.85M123.0 202.3h0.85M124.6 191.0h0.85M124.5 215.6h0.85M124.1 203.4h0.85M126.7 204.8h0.85M129.1 195.5h0.85M122.2 200.5h0.85M126.1 211.6h0.85M121.9 199.3h0.85M137.0 196.8h0.85M127.8 201.1h0.85M127.7 197.7h0.85M126.1 197.4h0.85M131.8 204.0h0.85M115.3 197.2h0.85M124.2 177.1h0.85M129.8 183.5h0.85M130.5 172.6h0.85M129.9 180.9h0.85M128.1 176.3h0.85M131.8 172.3h0.85M126.8 169.3h0.85M125.0 180.6h0.85M126.8 179.9h0.85M130.3 171.3h0.85M120.2 184.7h0.85M120.9 176.0h0.85M133.7 182.8h0.85M125.5 184.1h0.85M123.2 182.9h0.85M124.6 173.6h0.85M122.7 174.2h0.85M126.8 189.8h0.85M129.1 184.1h0.85M125.5 189.1h0.85M125.6 187.4h0.85M121.9 182.0h0.85M122.4 176.0h0.85M125.3 166.3h0.85M127.2 178.6h0.85M120.3 177.4h0.85M125.6 167.9h0.85M123.8 184.7h0.85M124.6 176.8h0.85M125.6 176.7h0.85M122.3 177.1h0.85M119.4 179.1h0.85M124.9 169.4h0.85M120.9 179.4h0.85M124.5 174.0h0.85M124.1 179.5h0.85M129.4 175.3h0.85M119.6 172.4h0.85M122.8 180.8h0.85M129.6 180.4h0.85M123.1 184.2h0.85M124.5 170.4h0.85M125.9 173.6h0.85M128.4 173.0h0.85M129.7 182.6h0.85M121.6 175.4h0.85M124.7 172.9h0.85M127.1 176.5h0.85M131.6 179.8h0.85M129.1 184.3h0.85M127.4 183.3h0.85M123.7 184.5h0.85M129.2 185.0h0.85M124.1 174.5h0.85M129.8 177.6h0.85M134.4 181.4h0.85M122.2 182.2h0.85M126.8 165.9h0.85M124.0 164.0h0.85M134.7 170.6h0.85M123.2 175.9h0.85M123.3 185.9h0.85M125.1 169.0h0.85M128.5 180.2h0.85M121.3 184.1h0.85M121.5 172.3h0.85M130.8 174.8h0.85M126.1 172.7h0.85M125.0 165.0h0.85M125.0 173.0h0.85M129.0 175.2h0.85M123.2 174.9h0.85M119.6 180.6h0.85M120.1 170.1h0.85M126.8 176.0h0.85M132.7 169.1h0.85M127.1 189.5h0.85M123.8 169.6h0.85M129.3 190.0h0.85M123.4 183.4h0.85M128.2 178.8h0.85M128.7 176.3h0.85M128.1 176.4h0.85M125.4 171.1h0.85M125.8 177.4h0.85M123.0 173.3h0.85M124.7 187.0h0.85M127.5 182.3h0.85M130.3 182.5h0.85M131.5 187.1h0.85M128.4 177.4h0.85M126.4 177.5h0.85M123.5 168.2h0.85M127.4 169.4h0.85M128.3 189.2h0.85M126.3 172.0h0.85M123.9 181.9h0.85M125.7 175.2h0.85M126.9 170.6h0.85M122.6 180.5h0.85M123.6 182.0h0.85M124.4 178.5h0.85M125.5 186.1h0.85M125.1 178.6h0.85M122.3 178.9h0.85M125.5 180.0h0.85M119.3 182.0h0.85M126.2 180.0h0.85M127.3 184.5h0.85M122.8 174.7h0.85M126.8 168.5h0.85M133.3 165.2h0.85M127.8 174.9h0.85M128.1 187.6h0.85M132.2 173.5h0.85M126.2 173.2h0.85M121.5 178.8h0.85M123.9 170.1h0.85M124.9 174.2h0.85M122.2 179.3h0.85M127.8 180.4h0.85M123.7 172.3h0.85M118.4 182.5h0.85M129.2 172.5h0.85M121.5 170.4h0.85M130.6 176.8h0.85M124.6 178.5h0.85M126.0 176.0h0.85M125.4 182.1h0.85M129.1 171.0h0.85M125.5 177.6h0.85M128.2 182.7h0.85M125.6 181.5h0.85M130.0 185.8h0.85M123.3 179.1h0.85M127.2 171.2h0.85M124.9 175.1h0.85M128.9 178.3h0.85M132.6 181.4h0.85M124.6 179.7h0.85M126.3 173.0h0.85M127.2 169.3h0.85M126.6 175.1h0.85M126.3 173.6h0.85M131.7 173.9h0.85M128.6 178.5h0.85M129.8 173.7h0.85M121.8 182.4h0.85M129.4 182.2h0.85M113.4 188.8h0.85M130.8 178.2h0.85M123.0 181.3h0.85M120.3 176.1h0.85M128.0 186.7h0.85M124.7 176.7h0.85M121.5 177.2h0.85M123.7 178.1h0.85M123.5 180.9h0.85M125.7 173.8h0.85M127.9 181.4h0.85M125.1 176.9h0.85M128.7 181.2h0.85M125.5 190.3h0.85M124.4 169.9h0.85M123.9 179.4h0.85M120.2 189.9h0.85M129.0 172.0h0.85M127.2 170.1h0.85M125.9 176.6h0.85M131.1 166.4h0.85M124.3 166.2h0.85M124.4 176.0h0.85M126.0 184.5h0.85M123.0 174.6h0.85M130.8 178.3h0.85M122.8 178.2h0.85M122.4 172.6h0.85M124.2 168.6h0.85M131.9 175.5h0.85M126.7 176.5h0.85M125.6 172.9h0.85M127.4 175.3h0.85M123.2 183.8h0.85M131.0 180.8h0.85M127.7 176.0h0.85M126.4 182.5h0.85M126.1 186.3h0.85M130.7 179.5h0.85M126.7 172.8h0.85M124.5 173.9h0.85M124.8 172.4h0.85M127.2 180.1h0.85M125.5 188.2h0.85M126.8 177.7h0.85M126.6 174.3h0.85M128.5 172.4h0.85M125.8 190.4h0.85M126.9 171.4h0.85M122.3 185.2h0.85M119.8 188.3h0.85M130.3 175.1h0.85M126.8 175.1h0.85M122.9 180.7h0.85M123.7 181.8h0.85M127.1 174.2h0.85M126.2 178.3h0.85M125.4 176.6h0.85M130.0 173.5h0.85M126.5 184.4h0.85M127.3 175.5h0.85M122.2 176.3h0.85M119.6 175.3h0.85M125.9 186.2h0.85M128.1 184.5h0.85M127.5 179.5h0.85M120.8 174.5h0.85M125.2 177.5h0.85M121.9 168.5h0.85M126.6 176.3h0.85M126.0 176.6h0.85M125.2 170.9h0.85M128.8 180.5h0.85M125.9 188.7h0.85M123.6 183.1h0.85M125.8 178.2h0.85M128.8 178.0h0.85M125.9 170.6h0.85M126.9 180.5h0.85M124.6 170.8h0.85M129.2 178.9h0.85M129.8 177.6h0.85M134.4 170.6h0.85M128.3 178.9h0.85M126.8 176.7h0.85M127.8 183.3h0.85M126.3 171.7h0.85M129.2 184.1h0.85M122.2 179.5h0.85M131.0 181.8h0.85M124.3 179.8h0.85M127.1 171.3h0.85M125.1 176.1h0.85M124.9 186.2h0.85M120.2 171.8h0.85M123.7 185.7h0.85M125.7 176.5h0.85M125.3 187.6h0.85M132.3 179.5h0.85M122.8 176.4h0.85M120.3 183.7h0.85M125.3 184.8h0.85M124.1 173.5h0.85M118.9 179.6h0.85M129.4 164.9h0.85M122.5 177.5h0.85M129.4 189.5h0.85M131.4 179.7h0.85M121.3 173.0h0.85M127.7 178.1h0.85M123.4 177.5h0.85M124.9 181.5h0.85M127.0 182.7h0.85M123.7 187.1h0.85M130.4 181.2h0.85M122.4 171.5h0.85M125.3 177.3h0.85M123.1 177.3h0.85M120.9 176.9h0.85M121.6 179.7h0.85M117.9 173.5h0.85M124.6 169.2h0.85M124.5 176.8h0.85M130.2 182.2h0.85M124.6 183.0h0.85M125.8 182.9h0.85M124.6 179.7h0.85M124.9 183.8h0.85M131.7 187.8h0.85M130.6 177.1h0.85M131.2 176.3h0.85M125.9 172.6h0.85M129.0 168.2h0.85M125.7 182.2h0.85M122.3 181.0h0.85M122.4 176.0h0.85M127.1 186.6h0.85M132.8 172.0h0.85M120.5 173.5h0.85M126.7 177.3h0.85M121.7 172.7h0.85M126.7 178.3h0.85M132.6 170.9h0.85M121.9 184.7h0.85M124.3 178.7h0.85M130.0 174.6h0.85M125.1 178.2h0.85M126.1 188.4h0.85M130.7 174.1h0.85M130.1 168.8h0.85M123.7 173.6h0.85M123.9 179.0h0.85M126.8 172.5h0.85M127.2 174.0h0.85M127.7 179.7h0.85M122.3 172.4h0.85M129.1 177.5h0.85M126.9 175.9h0.85M131.0 180.7h0.85M123.6 179.3h0.85M122.4 175.5h0.85M124.8 171.7h0.85M123.1 184.4h0.85M123.0 176.6h0.85M121.9 185.5h0.85M122.8 182.5h0.85M128.0 181.2h0.85M124.3 164.6h0.85M123.0 176.5h0.85M121.2 170.9h0.85M127.0 177.9h0.85M129.3 180.7h0.85M130.1 179.6h0.85M125.5 179.1h0.85M128.8 183.7h0.85M128.1 175.1h0.85M122.5 184.0h0.85M129.4 171.8h0.85M126.1 172.0h0.85M126.2 190.8h0.85M124.8 175.4h0.85M125.8 175.2h0.85M127.2 168.4h0.85M128.4 173.3h0.85M130.0 179.1h0.85M125.5 180.9h0.85M132.4 186.9h0.85M123.3 186.9h0.85M125.4 179.0h0.85M124.8 175.8h0.85M127.8 179.2h0.85M128.4 174.9h0.85M123.1 175.5h0.85M125.1 180.2h0.85M132.0 178.8h0.85M132.0 183.5h0.85M129.2 167.2h0.85M124.8 177.8h0.85M126.0 166.1h0.85M126.9 189.0h0.85M130.5 179.7h0.85M127.7 178.0h0.85M119.0 181.3h0.85M129.1 169.2h0.85M133.6 182.7h0.85M127.7 186.8h0.85M122.8 177.4h0.85M121.1 183.8h0.85M128.5 175.5h0.85M119.3 176.0h0.85M124.9 177.7h0.85M124.3 176.0h0.85M126.5 174.3h0.85M123.3 176.6h0.85M121.0 164.0h0.85M125.8 171.9h0.85M121.1 177.1h0.85M126.0 185.7h0.85M124.1 177.8h0.85M125.3 174.1h0.85M121.6 166.1h0.85M119.9 171.3h0.85M123.0 174.7h0.85M119.8 179.5h0.85M127.1 170.3h0.85M123.6 175.2h0.85M127.9 185.1h0.85M127.9 182.2h0.85M130.1 182.1h0.85M126.6 181.2h0.85M129.2 178.9h0.85M129.3 174.6h0.85M122.3 177.7h0.85M127.8 190.5h0.85M125.3 171.6h0.85M120.1 172.4h0.85M124.8 175.4h0.85M127.1 178.1h0.85M124.1 176.3h0.85M121.8 174.0h0.85M126.8 167.4h0.85M124.9 173.2h0.85M126.2 181.6h0.85M125.6 183.7h0.85M124.2 180.0h0.85M122.8 167.9h0.85M122.5 176.1h0.85M127.6 189.2h0.85M127.3 181.7h0.85M123.1 188.3h0.85M123.8 177.1h0.85M132.3 183.6h0.85M133.1 174.3h0.85M127.3 170.4h0.85M127.2 174.0h0.85M130.3 181.2h0.85M120.3 175.6h0.85M123.4 178.5h0.85M129.3 170.5h0.85M125.2 182.0h0.85M122.9 175.3h0.85M123.7 184.3h0.85M128.4 171.0h0.85M129.5 187.9h0.85M124.9 180.0h0.85M127.9 182.2h0.85M133.2 178.6h0.85M124.9 179.3h0.85M125.7 166.7h0.85M128.8 179.7h0.85M123.2 172.6h0.85M120.8 178.9h0.85M126.9 178.9h0.85M129.1 176.4h0.85M122.2 178.3h0.85M131.1 186.3h0.85M126.0 189.5h0.85M122.9 174.5h0.85M124.7 190.5h0.85M116.3 179.7h0.85M126.2 172.4h0.85M127.3 165.7h0.85M126.7 171.9h0.85M123.5 179.6h0.85M125.6 174.7h0.85M126.0 173.4h0.85M130.2 180.0h0.85M127.0 186.5h0.85M132.1 168.7h0.85M126.4 170.4h0.85M128.1 174.4h0.85M123.7 176.3h0.85M129.8 172.0h0.85M127.2 176.2h0.85M124.9 178.7h0.85M131.8 175.3h0.85M126.7 180.3h0.85M120.9 176.2h0.85M127.8 180.2h0.85M126.3 171.8h0.85M124.8 181.5h0.85M123.6 183.7h0.85M127.3 187.8h0.85M120.7 177.8h0.85M120.8 171.0h0.85M132.4 182.4h0.85M127.2 171.4h0.85M126.1 180.9h0.85M130.3 165.5h0.85M125.7 170.7h0.85M133.2 187.7h0.85M126.1 176.0h0.85M130.8 188.1h0.85M124.6 183.7h0.85M127.0 179.3h0.85M121.2 190.8h0.85M125.7 171.4h0.85M121.5 187.3h0.85M126.9 183.8h0.85M126.4 169.4h0.85M125.3 173.0h0.85M122.4 178.9h0.85M123.6 179.9h0.85M126.4 174.8h0.85M123.0 176.3h0.85M129.4 184.5h0.85M129.9 172.7h0.85M123.1 179.3h0.85M125.9 182.0h0.85M127.4 169.1h0.85M126.7 187.2h0.85M125.6 177.6h0.85M126.2 168.2h0.85M128.3 180.5h0.85M128.8 174.6h0.85M123.6 171.4h0.85M125.5 177.7h0.85M127.9 172.0h0.85M123.5 170.7h0.85M124.3 183.2h0.85M128.9 178.1h0.85M129.7 180.6h0.85M124.5 182.0h0.85M121.8 173.5h0.85M126.7 178.0h0.85M123.8 175.9h0.85M122.4 173.1h0.85M134.9 181.6h0.85M129.1 185.4h0.85M120.9 182.5h0.85M123.5 169.1h0.85M124.2 178.6h0.85M129.5 184.7h0.85M126.5 185.6h0.85M119.3 177.2h0.85M120.7 162.4h0.85M125.3 176.2h0.85M127.7 176.5h0.85M122.9 175.1h0.85M116.5 170.5h0.85M125.3 174.9h0.85M121.0 174.9h0.85M124.1 178.7h0.85M127.8 175.3h0.85M127.9 173.1h0.85M124.1 179.9h0.85M124.6 182.2h0.85M128.7 174.0h0.85M133.0 182.1h0.85M123.9 170.5h0.85M125.4 178.1h0.85M128.1 179.9h0.85M128.1 168.6h0.85M124.0 177.4h0.85M128.5 177.0h0.85M126.8 171.6h0.85M129.8 178.3h0.85M121.6 176.1h0.85M125.1 178.8h0.85M132.4 170.4h0.85M130.3 170.2h0.85M125.6 170.8h0.85M125.7 184.6h0.85M131.6 183.4h0.85M125.5 183.0h0.85M121.0 176.9h0.85M123.6 164.7h0.85M125.0 169.8h0.85M129.9 172.2h0.85M129.9 176.3h0.85M129.4 181.7h0.85M130.5 172.2h0.85M121.7 178.9h0.85M133.8 185.4h0.85M126.2 184.5h0.85M125.9 179.1h0.85M130.1 179.8h0.85M125.6 178.5h0.85M129.9 185.9h0.85M131.0 180.8h0.85M122.7 183.3h0.85M125.0 172.9h0.85M125.6 173.4h0.85M121.8 178.4h0.85M122.9 183.3h0.85M127.1 170.1h0.85M127.4 180.3h0.85M122.1 182.8h0.85M124.7 176.1h0.85M128.3 164.4h0.85M124.2 182.2h0.85M127.3 186.8h0.85M127.9 178.3h0.85M129.8 176.9h0.85M128.6 161.8h0.85M121.2 184.5h0.85M129.6 181.1h0.85M129.4 167.1h0.85M127.5 169.6h0.85M124.2 172.9h0.85M129.6 172.8h0.85M129.2 182.6h0.85M127.2 180.4h0.85M130.0 179.3h0.85M128.4 181.0h0.85M120.5 189.7h0.85M127.8 177.4h0.85M128.1 172.0h0.85M125.5 170.6h0.85M125.6 184.6h0.85M121.7 171.5h0.85M127.8 173.8h0.85M134.6 172.4h0.85M129.8 178.1h0.85M127.6 184.4h0.85M132.5 186.4h0.85M128.3 177.2h0.85M128.7 183.3h0.85M125.9 172.5h0.85M123.0 169.0h0.85M127.2 184.7h0.85M127.9 176.5h0.85M122.4 180.7h0.85M135.3 187.7h0.85M125.8 186.8h0.85M126.1 177.9h0.85M126.4 169.6h0.85M131.4 175.1h0.85M126.5 179.5h0.85M128.0 173.0h0.85M123.8 176.2h0.85M122.9 172.6h0.85M128.5 176.1h0.85M128.1 176.2h0.85M127.3 173.8h0.85M131.1 174.2h0.85M127.7 189.2h0.85M131.2 173.7h0.85M123.8 179.5h0.85M127.0 185.9h0.85M124.6 181.6h0.85M125.5 174.3h0.85M130.9 187.2h0.85M128.1 180.0h0.85M124.9 189.3h0.85M123.1 185.2h0.85M124.0 181.9h0.85M126.6 175.7h0.85M125.4 179.4h0.85M124.7 173.6h0.85M130.7 173.1h0.85M126.5 170.9h0.85M122.0 174.8h0.85M133.3 179.1h0.85M128.6 183.3h0.85M122.7 172.1h0.85M125.8 184.3h0.85M126.6 170.5h0.85M125.8 167.9h0.85M127.0 169.5h0.85M123.0 166.3h0.85M123.4 174.1h0.85M128.9 175.2h0.85M125.2 174.6h0.85M126.3 175.4h0.85M122.1 176.3h0.85M128.0 167.6h0.85M119.6 182.9h0.85M125.6 172.5h0.85M121.0 176.1h0.85M129.6 173.9h0.85M128.3 177.1h0.85M122.2 185.6h0.85M129.4 175.8h0.85M128.7 181.5h0.85M131.5 183.6h0.85M126.5 182.7h0.85M125.4 171.4h0.85M125.0 175.1h0.85M130.1 178.5h0.85M127.9 172.9h0.85M115.8 200.1h0.85M110.5 210.1h0.85M108.0 207.3h0.85M117.0 211.3h0.85M113.1 217.0h0.85M114.2 206.4h0.85M106.1 207.9h0.85M113.1 215.8h0.85M106.6 212.9h0.85M107.3 212.5h0.85M115.3 199.2h0.85M111.7 194.5h0.85M113.9 216.0h0.85M114.7 195.9h0.85M106.4 217.7h0.85M116.6 200.2h0.85M112.2 216.0h0.85M109.0 201.0h0.85M111.4 214.9h0.85M106.3 206.6h0.85M111.6 201.1h0.85M107.7 202.6h0.85M112.3 193.5h0.85M113.9 203.7h0.85M109.7 199.3h0.85M112.9 196.0h0.85M112.8 202.8h0.85M106.1 197.3h0.85M106.1 192.7h0.85M108.2 194.9h0.85M112.1 197.5h0.85M109.8 210.8h0.85M107.3 197.5h0.85M106.7 199.8h0.85M114.4 190.2h0.85M106.6 204.6h0.85M107.7 203.8h0.85M111.2 196.8h0.85M109.8 209.4h0.85M111.9 192.6h0.85M110.7 217.5h0.85M106.8 198.3h0.85M112.1 198.9h0.85M111.6 193.1h0.85M113.0 202.8h0.85M116.4 214.0h0.85M107.4 192.7h0.85M106.9 212.2h0.85M109.3 195.9h0.85M106.2 200.2h0.85M112.6 217.5h0.85M109.1 212.8h0.85M116.7 201.3h0.85M107.5 190.9h0.85M108.4 196.1h0.85M112.3 199.2h0.85M113.8 206.1h0.85M112.3 208.8h0.85M110.2 208.6h0.85M106.2 202.9h0.85M110.8 202.9h0.85M114.3 207.4h0.85M106.1 204.3h0.85M114.7 215.8h0.85M109.2 215.9h0.85M109.3 213.1h0.85M115.3 196.7h0.85M112.8 204.3h0.85M113.8 216.6h0.85M107.4 217.8h0.85M111.8 195.1h0.85M109.2 204.4h0.85M111.6 197.7h0.85M106.9 214.5h0.85M113.5 213.6h0.85M116.2 214.5h0.85M111.2 191.6h0.85M115.9 199.7h0.85M112.9 194.4h0.85M110.0 209.1h0.85M110.7 193.1h0.85M109.7 202.4h0.85M116.4 214.6h0.85M115.3 190.1h0.85M116.3 209.9h0.85M116.0 201.6h0.85M112.0 198.3h0.85M116.7 199.3h0.85M107.5 211.6h0.85M112.4 213.5h0.85M112.8 199.7h0.85M114.9 205.2h0.85M111.6 199.3h0.85M109.7 190.1h0.85M114.1 210.3h0.85M110.0 196.2h0.85M107.2 193.0h0.85M112.3 206.5h0.85M111.6 212.6h0.85M110.2 203.8h0.85M108.9 203.6h0.85M114.7 206.1h0.85M113.7 216.9h0.85M108.9 216.5h0.85M107.5 207.4h0.85M112.9 192.1h0.85M114.6 193.2h0.85M107.2 197.2h0.85M113.1 217.0h0.85M112.6 191.6h0.85M110.5 210.5h0.85M106.2 207.8h0.85M111.0 208.1h0.85M109.8 207.0h0.85M107.0 192.6h0.85M106.6 201.3h0.85M108.1 197.9h0.85M114.6 217.6h0.85M116.2 203.8h0.85M109.4 214.3h0.85M108.8 196.9h0.85M107.0 197.5h0.85M106.0 202.5h0.85M117.0 205.3h0.85M109.4 211.2h0.85M108.3 196.6h0.85M107.6 190.9h0.85M115.7 214.1h0.85M110.8 199.5h0.85M107.4 200.1h0.85M106.6 217.2h0.85M113.8 210.7h0.85M111.6 212.4h0.85M111.1 200.0h0.85M114.0 216.3h0.85M106.5 203.1h0.85M113.1 210.2h0.85M113.6 201.6h0.85M109.2 211.3h0.85M111.4 197.0h0.85M112.0 192.9h0.85M109.8 212.0h0.85M108.2 197.1h0.85M111.6 201.7h0.85M116.9 214.1h0.85M113.6 208.9h0.85M110.1 198.7h0.85M113.0 198.2h0.85M107.3 213.7h0.85M108.5 217.5h0.85M112.7 194.5h0.85M112.3 213.6h0.85M109.0 217.0h0.85M111.4 203.8h0.85M107.9 192.8h0.85M111.4 216.2h0.85M111.5 205.0h0.85M111.7 214.7h0.85M113.6 204.9h0.85M107.8 191.8h0.85M115.2 208.0h0.85M111.3 207.0h0.85M114.2 195.0h0.85M111.3 211.5h0.85M115.6 208.0h0.85M114.8 207.3h0.85M114.9 209.6h0.85M116.8 201.2h0.85M116.3 203.8h0.85M112.4 212.0h0.85M110.9 202.2h0.85M110.1 198.7h0.85M113.6 193.9h0.85M112.2 195.4h0.85M107.8 206.7h0.85M111.2 193.7h0.85M107.2 211.2h0.85M112.9 209.5h0.85M109.2 206.7h0.85M109.3 201.6h0.85M109.0 194.5h0.85M116.3 192.4h0.85M111.1 195.9h0.85M116.2 217.2h0.85M116.4 197.6h0.85M111.4 207.3h0.85M115.2 209.3h0.85M110.2 206.9h0.85M110.0 212.8h0.85M116.0 206.0h0.85M108.2 203.5h0.85M114.9 215.8h0.85M111.2 209.2h0.85M107.2 213.4h0.85M116.3 192.0h0.85M110.1 203.3h0.85M108.4 213.9h0.85M106.2 214.8h0.85M111.5 198.3h0.85M115.4 197.6h0.85M110.7 216.8h0.85M116.6 213.3h0.85M114.3 213.1h0.85M107.4 217.7h0.85M115.8 211.8h0.85M107.2 190.5h0.85M115.1 195.8h0.85M106.1 193.1h0.85M112.5 209.7h0.85M108.0 215.0h0.85M109.3 207.4h0.85M116.0 206.7h0.85M109.3 191.9h0.85M112.8 216.3h0.85M109.2 208.3h0.85M108.7 210.3h0.85M111.6 212.1h0.85M107.8 203.9h0.85M107.2 206.3h0.85M106.4 212.2h0.85M109.5 202.6h0.85M106.1 195.3h0.85M116.3 195.3h0.85M113.7 210.8h0.85M108.9 208.4h0.85M111.5 217.3h0.85M107.0 199.2h0.85M111.3 210.1h0.85M108.0 202.8h0.85M114.4 195.3h0.85M150.2 198.6h0.85M137.6 198.1h0.85M148.1 197.7h0.85M142.6 197.9h0.85M146.6 201.3h0.85M137.7 195.8h0.85M150.6 196.0h0.85M139.1 192.3h0.85M135.3 193.6h0.85M145.4 200.9h0.85M147.0 198.7h0.85M150.5 197.7h0.85M136.2 198.4h0.85M147.0 207.5h0.85M146.0 207.6h0.85M144.8 191.9h0.85M143.9 196.9h0.85M145.1 196.5h0.85M163.4 199.4h0.85M144.7 197.9h0.85M145.7 202.9h0.85M145.9 202.3h0.85M138.7 199.1h0.85M145.2 198.9h0.85M137.0 195.2h0.85M134.3 200.0h0.85M155.3 197.9h0.85M135.4 196.4h0.85M154.0 190.7h0.85M143.4 198.5h0.85M142.3 199.2h0.85M149.1 199.7h0.85M152.5 202.7h0.85M134.1 193.2h0.85M144.2 198.4h0.85M147.3 192.9h0.85M136.4 206.0h0.85M147.0 199.6h0.85M158.8 189.5h0.85M147.6 197.0h0.85M145.0 204.3h0.85M145.1 191.6h0.85M137.2 192.1h0.85M154.4 195.3h0.85M137.3 197.2h0.85M135.6 200.0h0.85M146.7 199.0h0.85M154.3 196.3h0.85M152.6 190.5h0.85M152.8 206.2h0.85M139.7 201.6h0.85M138.3 198.5h0.85M149.7 195.6h0.85M137.7 197.6h0.85M145.3 199.8h0.85M146.4 190.3h0.85M154.0 200.2h0.85M134.7 197.4h0.85M153.7 207.5h0.85M144.8 195.6h0.85M155.2 197.8h0.85M145.7 190.9h0.85M138.1 199.9h0.85M159.7 199.8h0.85M144.6 196.4h0.85M137.2 192.7h0.85M151.5 206.4h0.85M143.4 194.2h0.85M134.1 196.0h0.85M153.6 190.6h0.85M143.6 203.6h0.85M157.7 194.9h0.85M147.8 200.2h0.85M147.1 197.7h0.85M147.3 198.9h0.85M144.5 197.2h0.85M143.2 208.4h0.85M145.9 203.0h0.85M139.1 204.7h0.85M153.8 198.7h0.85M164.3 201.7h0.85M159.9 194.1h0.85M146.3 195.2h0.85M138.1 200.5h0.85M152.3 203.1h0.85M145.6 196.2h0.85M135.6 193.7h0.85M156.1 192.1h0.85M145.1 195.9h0.85M140.7 192.3h0.85M142.8 200.2h0.85M143.8 199.5h0.85M140.7 193.4h0.85M151.9 197.5h0.85M143.9 200.4h0.85M153.2 195.5h0.85M146.4 197.0h0.85M156.0 192.0h0.85M140.4 197.7h0.85M149.4 203.0h0.85M158.2 196.7h0.85M149.9 198.3h0.85M140.1 199.1h0.85M145.5 203.8h0.85M143.9 191.7h0.85M147.8 195.3h0.85M146.8 199.8h0.85M148.4 201.7h0.85M141.3 197.8h0.85M149.4 195.4h0.85M145.2 195.7h0.85M153.5 197.9h0.85M138.5 199.1h0.85M140.3 196.6h0.85M136.4 197.0h0.85M151.7 201.2h0.85M150.3 194.2h0.85M145.6 197.8h0.85M144.0 196.7h0.85M134.6 206.4h0.85M140.2 198.6h0.85M147.2 193.1h0.85M141.2 199.7h0.85M145.6 200.4h0.85M138.2 197.6h0.85M138.7 198.1h0.85M140.9 195.7h0.85M150.2 203.0h0.85M145.3 199.1h0.85M138.7 195.8h0.85M142.6 199.8h0.85M158.7 189.7h0.85M154.5 204.3h0.85M150.2 196.5h0.85M151.4 191.5h0.85M135.7 198.7h0.85M141.3 201.3h0.85M139.1 189.8h0.85M144.6 200.6h0.85M134.7 198.4h0.85M146.5 199.9h0.85M151.8 199.3h0.85M140.7 192.1h0.85M150.5 196.8h0.85M152.7 203.5h0.85M141.2 195.5h0.85M155.3 199.0h0.85M137.5 197.2h0.85M142.8 203.6h0.85M136.3 195.1h0.85M151.9 201.8h0.85M147.5 195.7h0.85M138.9 186.5h0.85M150.9 199.3h0.85M146.3 192.3h0.85M142.6 203.4h0.85M163.4 191.9h0.85M140.1 201.7h0.85M153.1 201.6h0.85M144.8 195.8h0.85M142.5 191.9h0.85M140.7 194.5h0.85M154.4 204.4h0.85M148.0 191.0h0.85M144.5 195.7h0.85M154.9 193.6h0.85M148.9 197.8h0.85M152.1 195.4h0.85M158.1 199.5h0.85M144.6 197.0h0.85M142.3 202.9h0.85M151.9 196.9h0.85M166.9 200.2h0.85M152.9 205.2h0.85M154.2 200.1h0.85M138.6 193.9h0.85M151.8 197.6h0.85M143.8 203.7h0.85M151.3 204.5h0.85M143.7 193.6h0.85M145.1 202.0h0.85M137.9 197.9h0.85M150.5 199.0h0.85M149.4 186.9h0.85M149.8 202.4h0.85M139.1 199.5h0.85M145.7 197.9h0.85M136.5 194.5h0.85M140.8 198.3h0.85M148.9 195.8h0.85M164.0 200.2h0.85M146.1 196.4h0.85M147.6 194.1h0.85M144.5 195.6h0.85M151.8 194.5h0.85M137.3 196.1h0.85M154.1 199.8h0.85M142.7 197.6h0.85M139.9 194.3h0.85M148.2 195.0h0.85M139.4 196.4h0.85M146.3 200.5h0.85M142.2 199.0h0.85M149.0 205.9h0.85M146.9 188.1h0.85M148.2 193.3h0.85M148.6 198.7h0.85M138.0 187.5h0.85M149.7 194.3h0.85M153.7 191.6h0.85M136.1 191.3h0.85M147.7 204.6h0.85M147.3 192.5h0.85M150.2 191.5h0.85M146.2 204.8h0.85M145.3 191.4h0.85M145.8 199.6h0.85M134.2 200.1h0.85M146.3 187.7h0.85M149.7 193.2h0.85M142.3 203.2h0.85M150.6 195.4h0.85M151.3 207.1h0.85M157.4 195.5h0.85M159.5 196.8h0.85M137.4 193.6h0.85M144.8 206.0h0.85M143.5 193.5h0.85M148.9 198.3h0.85M154.5 193.1h0.85M151.4 193.3h0.85M142.3 202.3h0.85M141.7 200.2h0.85M142.5 202.3h0.85M148.3 200.1h0.85M158.3 192.7h0.85M151.6 198.9h0.85M138.1 197.7h0.85M148.4 192.8h0.85M142.2 203.7h0.85M143.3 191.8h0.85M163.9 205.7h0.85M142.3 199.9h0.85M143.6 199.8h0.85M151.2 208.0h0.85M152.9 207.2h0.85M147.6 194.8h0.85M148.4 197.1h0.85M140.6 206.3h0.85M135.5 196.0h0.85M158.6 194.7h0.85M146.7 204.9h0.85M138.4 202.4h0.85M147.7 194.5h0.85M146.2 200.6h0.85M159.7 208.8h0.85M148.3 195.8h0.85M148.6 199.3h0.85M138.0 191.9h0.85M140.1 197.6h0.85M145.3 201.4h0.85M143.9 197.6h0.85M154.9 192.3h0.85M153.5 194.3h0.85M155.4 199.5h0.85M140.8 205.5h0.85M134.1 194.5h0.85M146.8 201.5h0.85M146.7 202.3h0.85M137.9 196.9h0.85M156.6 196.6h0.85M141.7 195.3h0.85M145.9 196.9h0.85M157.5 204.0h0.85M145.1 202.2h0.85M140.5 200.9h0.85M153.5 195.9h0.85M144.0 199.4h0.85M154.2 195.8h0.85M151.3 197.8h0.85M141.4 203.1h0.85M157.0 192.4h0.85M147.4 196.5h0.85M137.1 198.5h0.85M145.5 195.2h0.85M135.9 201.5h0.85M154.2 198.3h0.85M158.4 197.7h0.85M133.7 192.3h0.85M145.2 196.2h0.85M143.6 197.9h0.85M151.2 205.1h0.85M149.3 197.0h0.85M141.9 190.8h0.85M156.7 196.4h0.85M145.0 191.7h0.85M149.0 197.6h0.85M140.0 200.1h0.85M163.6 196.8h0.85M144.4 200.7h0.85M140.8 196.6h0.85M157.4 196.8h0.85M147.3 193.9h0.85M136.4 196.6h0.85M145.0 192.5h0.85M141.9 199.6h0.85M147.5 205.7h0.85M140.3 192.6h0.85M149.1 196.3h0.85M150.5 194.6h0.85M142.4 200.8h0.85M157.7 195.9h0.85M135.3 199.1h0.85M150.9 200.3h0.85M133.2 196.6h0.85M162.4 192.3h0.85M155.7 191.2h0.85M141.2 192.3h0.85M154.3 202.5h0.85M150.1 194.2h0.85M149.7 200.1h0.85M157.9 192.3h0.85M144.9 200.8h0.85M144.7 193.4h0.85M143.0 207.7h0.85M152.4 203.1h0.85M149.4 197.5h0.85M143.4 196.9h0.85M143.8 196.8h0.85M136.6 196.0h0.85M146.8 193.4h0.85M156.8 205.2h0.85M139.2 192.6h0.85M140.6 197.2h0.85M134.2 199.2h0.85M138.1 198.9h0.85M143.6 201.4h0.85M141.4 201.2h0.85M142.5 192.2h0.85M153.0 198.2h0.85M157.9 198.0h0.85M144.7 206.9h0.85M139.6 192.5h0.85M148.5 192.0h0.85M145.0 190.0h0.85M156.2 201.0h0.85M149.2 195.0h0.85M135.1 204.3h0.85M151.0 196.5h0.85M137.3 198.1h0.85M141.6 196.5h0.85M135.1 204.1h0.85M147.1 207.1h0.85M149.0 197.6h0.85M151.0 196.1h0.85M152.1 201.6h0.85M156.1 198.0h0.85M144.6 204.0h0.85M144.8 195.3h0.85M153.8 196.1h0.85M152.7 203.3h0.85M139.8 197.9h0.85M147.0 197.4h0.85M143.8 204.2h0.85M147.0 198.8h0.85M146.3 195.4h0.85M148.7 202.3h0.85M138.3 200.3h0.85M157.3 201.7h0.85M156.7 198.5h0.85M142.1 195.7h0.85M145.1 208.4h0.85M145.2 194.3h0.85M156.0 202.9h0.85M149.3 200.0h0.85M142.7 192.4h0.85M145.0 196.0h0.85M134.8 209.4h0.85M143.7 193.9h0.85M144.6 199.8h0.85M146.6 204.4h0.85M145.0 205.1h0.85M145.7 198.4h0.85M147.8 198.3h0.85M139.5 190.3h0.85M133.8 195.4h0.85M141.9 197.1h0.85M146.8 202.4h0.85M133.2 194.6h0.85M149.8 194.0h0.85M148.8 194.5h0.85M136.1 194.5h0.85M142.4 190.9h0.85M144.4 194.6h0.85M153.5 192.0h0.85M149.1 194.8h0.85M140.6 200.6h0.85M150.9 193.3h0.85M136.1 191.0h0.85M139.8 202.1h0.85M139.5 198.3h0.85M136.0 197.6h0.85M154.5 201.0h0.85M143.0 200.5h0.85M139.1 190.2h0.85M140.5 190.0h0.85M149.4 202.2h0.85M146.4 199.7h0.85M143.9 195.8h0.85M150.5 193.3h0.85M139.8 206.6h0.85M143.3 191.4h0.85M149.5 193.0h0.85M138.0 203.2h0.85M151.7 204.5h0.85M159.2 204.5h0.85M151.8 196.6h0.85M140.1 204.0h0.85M154.3 196.4h0.85M137.5 199.8h0.85M157.4 203.7h0.85M138.8 192.1h0.85M147.9 195.9h0.85M142.8 204.8h0.85M150.2 203.2h0.85M139.7 197.7h0.85M154.6 200.9h0.85M155.6 202.9h0.85M148.7 196.1h0.85M140.2 193.0h0.85M140.8 195.7h0.85M146.3 209.0h0.85M146.4 195.9h0.85M147.8 202.3h0.85M142.5 198.9h0.85M155.2 193.6h0.85M143.2 202.2h0.85M148.7 201.0h0.85M146.2 207.6h0.85M143.2 197.5h0.85M151.2 195.6h0.85M158.1 199.7h0.85M145.8 189.8h0.85M158.0 204.5h0.85M151.2 203.6h0.85M157.7 197.5h0.85M137.7 202.3h0.85M135.2 197.1h0.85M146.2 193.4h0.85M146.2 191.0h0.85M145.6 205.0h0.85M141.8 196.8h0.85M137.3 195.8h0.85M141.0 188.7h0.85M153.5 206.0h0.85M146.6 197.6h0.85M142.6 208.5h0.85M158.9 201.2h0.85M156.3 197.3h0.85M136.7 197.8h0.85M141.0 200.5h0.85M145.0 193.4h0.85M144.0 197.1h0.85M166.1 197.4h0.85M144.0 205.5h0.85M133.7 195.8h0.85M150.6 206.2h0.85M135.8 199.1h0.85M144.7 197.0h0.85M134.0 197.4h0.85M150.5 202.0h0.85M141.1 197.4h0.85M147.1 194.5h0.85M136.5 199.1h0.85M153.0 205.1h0.85M150.4 198.0h0.85M147.7 191.4h0.85M142.5 188.6h0.85M141.9 190.2h0.85M151.0 208.6h0.85M144.1 193.7h0.85M147.5 194.7h0.85M150.7 191.5h0.85M155.7 205.3h0.85M144.7 193.0h0.85M148.4 193.0h0.85M147.7 197.2h0.85M156.1 201.3h0.85M137.1 198.1h0.85M141.4 204.3h0.85M154.3 197.6h0.85M147.3 193.4h0.85M137.1 199.1h0.85M149.5 194.4h0.85M158.4 200.2h0.85M158.8 190.6h0.85M143.1 200.2h0.85M151.1 199.6h0.85M139.8 196.6h0.85M135.5 201.0h0.85M139.0 198.8h0.85M153.4 205.5h0.85M155.0 198.9h0.85M138.0 202.6h0.85M142.4 197.2h0.85M149.1 197.2h0.85M152.9 199.3h0.85M140.1 192.7h0.85M154.9 201.4h0.85M142.5 191.2h0.85M140.3 195.8h0.85M149.4 199.0h0.85M151.7 201.9h0.85M140.3 193.5h0.85M142.8 194.2h0.85M149.9 203.6h0.85M149.4 194.1h0.85M155.2 206.5h0.85M154.5 202.3h0.85M139.7 201.0h0.85M150.1 196.0h0.85M152.6 188.6h0.85M157.4 186.3h0.85M146.7 196.2h0.85M144.6 199.8h0.85M144.1 203.0h0.85M157.3 195.9h0.85M148.0 198.6h0.85M153.0 194.3h0.85M153.1 192.6h0.85M139.0 196.7h0.85M145.4 186.9h0.85M140.6 197.4h0.85M140.8 200.2h0.85M149.4 194.4h0.85M138.8 196.6h0.85M160.9 202.6h0.85M139.9 191.6h0.85M138.0 208.2h0.85M138.6 198.9h0.85M156.9 200.2h0.85M139.7 192.6h0.85M151.7 201.6h0.85M144.3 198.3h0.85M155.0 199.0h0.85M154.8 202.4h0.85M148.3 206.1h0.85M142.9 201.9h0.85M138.5 203.9h0.85M133.5 192.6h0.85M139.6 207.2h0.85M148.6 206.7h0.85M151.5 191.6h0.85M146.3 199.9h0.85M142.1 202.4h0.85M151.5 197.4h0.85M142.6 193.6h0.85M164.8 205.0h0.85M146.4 200.2h0.85M147.4 199.0h0.85M145.1 197.5h0.85M145.6 194.8h0.85M141.7 206.5h0.85M154.3 204.3h0.85M159.9 196.9h0.85M144.9 200.7h0.85M147.6 196.5h0.85M138.9 202.6h0.85M150.3 192.4h0.85M139.5 198.2h0.85M142.5 190.9h0.85M149.2 193.4h0.85M146.7 193.4h0.85M151.7 203.2h0.85M150.0 198.8h0.85M153.0 197.9h0.85M164.1 194.1h0.85M138.2 206.3h0.85M158.2 194.3h0.85M143.8 202.9h0.85M140.9 191.5h0.85M153.1 195.4h0.85M145.6 196.4h0.85M150.0 194.9h0.85M145.7 197.2h0.85M138.9 201.0h0.85M136.9 198.5h0.85M160.4 197.4h0.85M144.1 199.1h0.85M149.9 206.1h0.85M143.9 192.5h0.85M145.7 194.9h0.85M137.7 198.8h0.85M141.8 202.5h0.85M153.0 202.2h0.85M140.3 193.4h0.85M149.3 189.3h0.85M140.8 194.1h0.85M141.4 201.1h0.85M148.5 197.2h0.85M150.6 201.5h0.85M150.3 204.2h0.85M157.1 196.5h0.85M137.4 196.4h0.85M139.4 201.6h0.85M144.4 194.0h0.85M147.3 200.9h0.85M155.5 199.0h0.85M144.0 195.3h0.85M138.5 195.6h0.85M148.6 199.9h0.85M148.0 187.7h0.85M143.3 203.9h0.85M137.6 200.3h0.85M142.0 203.0h0.85M149.3 200.9h0.85M150.5 202.8h0.85M138.7 194.0h0.85M142.0 204.1h0.85M143.5 200.0h0.85M140.1 199.6h0.85M151.6 191.3h0.85M154.2 196.4h0.85M147.0 191.4h0.85M148.7 199.0h0.85M160.2 191.3h0.85M144.0 199.1h0.85M149.6 206.3h0.85M137.8 203.5h0.85M144.2 194.4h0.85M150.1 199.5h0.85M145.6 201.4h0.85M134.5 198.3h0.85M140.1 197.7h0.85M147.3 197.4h0.85M148.6 193.4h0.85M146.0 197.6h0.85M164.3 200.2h0.85M137.3 198.8h0.85M160.7 200.8h0.85M135.5 206.6h0.85M151.6 200.7h0.85M156.2 190.0h0.85M148.0 196.9h0.85M148.3 189.3h0.85M154.4 192.8h0.85M149.8 202.9h0.85M147.0 198.8h0.85M136.6 195.0h0.85M148.1 196.7h0.85M150.8 193.5h0.85M145.7 194.2h0.85M134.0 198.7h0.85M145.0 199.1h0.85M142.3 204.6h0.85M167.2 204.5h0.85M136.7 197.4h0.85M156.8 202.2h0.85M139.1 196.1h0.85M146.4 195.6h0.85M147.6 207.4h0.85M154.1 208.0h0.85M155.7 185.4h0.85M149.9 192.1h0.85M149.4 206.0h0.85M149.4 187.1h0.85M145.9 196.4h0.85M152.7 191.9h0.85M143.8 197.4h0.85M146.6 199.7h0.85M154.1 198.8h0.85M157.5 199.2h0.85M163.1 202.0h0.85M147.0 193.3h0.85M143.3 195.9h0.85M155.7 196.7h0.85M145.6 200.0h0.85M145.5 201.5h0.85M141.6 194.6h0.85M143.9 202.6h0.85M138.4 188.5h0.85M146.5 195.5h0.85M148.8 197.0h0.85M157.5 199.5h0.85M142.3 196.8h0.85M158.0 195.1h0.85M148.4 205.7h0.85M151.5 202.5h0.85M138.2 198.9h0.85M156.6 201.4h0.85M152.2 198.8h0.85M151.4 193.6h0.85M157.3 204.3h0.85M151.9 202.4h0.85M136.9 197.3h0.85M146.0 201.4h0.85M136.5 198.6h0.85M155.1 193.9h0.85M158.3 200.5h0.85M142.1 194.0h0.85M162.7 173.2h0.85M144.0 179.9h0.85M158.7 180.4h0.85M147.2 172.4h0.85M161.6 175.5h0.85M147.5 179.5h0.85M153.7 184.7h0.85M138.9 178.6h0.85M137.7 186.7h0.85M144.9 180.7h0.85M143.6 176.3h0.85M144.5 181.1h0.85M146.1 178.1h0.85M150.6 176.4h0.85M149.5 174.7h0.85M137.7 177.4h0.85M141.2 183.6h0.85M137.5 177.6h0.85M158.8 172.7h0.85M146.8 178.6h0.85M146.2 181.3h0.85M150.8 182.2h0.85M147.7 180.2h0.85M143.0 184.6h0.85M139.6 176.6h0.85M144.0 177.9h0.85M141.8 181.3h0.85M162.5 172.4h0.85M142.4 181.0h0.85M156.4 181.3h0.85M155.7 174.4h0.85M156.3 168.8h0.85M152.1 183.6h0.85M156.8 184.6h0.85M146.2 180.1h0.85M148.8 181.8h0.85M159.1 175.7h0.85M155.0 178.4h0.85M151.3 173.4h0.85M151.6 181.1h0.85M145.4 174.2h0.85M157.8 181.9h0.85M148.1 182.7h0.85M139.0 186.2h0.85M147.6 183.3h0.85M140.6 182.3h0.85M144.6 173.5h0.85M137.0 184.2h0.85M145.3 182.5h0.85M153.1 180.3h0.85M147.1 177.1h0.85M148.0 180.5h0.85M143.4 182.3h0.85M150.0 178.6h0.85M160.7 178.7h0.85M167.1 179.0h0.85M151.7 174.8h0.85M143.0 181.6h0.85M159.8 173.9h0.85M155.2 178.8h0.85M144.4 183.4h0.85M145.6 185.7h0.85M146.2 175.1h0.85M144.5 173.5h0.85M153.4 172.9h0.85M153.4 178.2h0.85M151.8 178.4h0.85M153.4 180.7h0.85M141.0 182.9h0.85M138.1 180.8h0.85M140.5 185.6h0.85M153.0 176.0h0.85M147.6 175.6h0.85M155.2 174.0h0.85M154.5 181.7h0.85M156.9 181.2h0.85M142.7 174.8h0.85M147.1 178.2h0.85M150.8 174.0h0.85M153.3 178.4h0.85M145.0 174.1h0.85M141.9 179.8h0.85M161.0 180.8h0.85M142.3 183.9h0.85M150.1 181.1h0.85M149.9 176.5h0.85M139.1 183.4h0.85M143.1 177.7h0.85M155.5 184.5h0.85M163.1 172.7h0.85M164.5 168.1h0.85M155.4 177.8h0.85M147.9 180.2h0.85M140.3 178.2h0.85M140.0 179.1h0.85M150.4 172.4h0.85M152.2 177.6h0.85M145.5 178.5h0.85M155.9 170.9h0.85M150.2 177.4h0.85M153.0 179.4h0.85M165.7 173.3h0.85M156.6 171.8h0.85M138.7 178.6h0.85M147.3 176.0h0.85M150.4 183.1h0.85M143.6 180.7h0.85M160.7 181.2h0.85M156.7 175.5h0.85M153.3 177.6h0.85M143.3 176.5h0.85M151.4 172.4h0.85M141.2 177.5h0.85M156.7 173.3h0.85M145.9 176.4h0.85M150.5 181.2h0.85M151.7 174.1h0.85M159.7 167.1h0.85M162.8 174.8h0.85M142.7 183.0h0.85M154.3 179.0h0.85M147.1 173.2h0.85M158.3 177.4h0.85M144.4 180.6h0.85M162.3 175.3h0.85M158.3 179.7h0.85M145.0 180.7h0.85M144.7 181.6h0.85M151.3 180.7h0.85M150.6 177.8h0.85M150.2 180.1h0.85M156.4 169.5h0.85M146.9 182.7h0.85M143.4 182.0h0.85M153.3 179.6h0.85M153.9 175.8h0.85M160.1 171.3h0.85M158.2 173.4h0.85M148.2 182.3h0.85M147.1 179.4h0.85M159.0 208.9h0.85M158.1 216.6h0.85M152.1 207.5h0.85M163.9 207.2h0.85M150.9 212.6h0.85M134.2 214.3h0.85M165.7 205.1h0.85M157.2 208.4h0.85M143.7 204.1h0.85M146.2 212.3h0.85M141.5 213.3h0.85M141.7 208.2h0.85M148.2 212.6h0.85M155.4 204.9h0.85M146.2 213.8h0.85M141.0 209.6h0.85M162.4 212.8h0.85M149.9 215.5h0.85M156.7 211.5h0.85M155.5 205.7h0.85M150.1 208.3h0.85M150.1 206.3h0.85M136.8 212.7h0.85M140.6 212.4h0.85M139.2 204.2h0.85M158.0 214.5h0.85M158.1 211.7h0.85M134.9 214.0h0.85M145.6 211.3h0.85M158.3 208.6h0.85M136.9 211.8h0.85M139.7 212.9h0.85M153.2 215.0h0.85M148.4 204.8h0.85M152.7 210.5h0.85M140.9 217.2h0.85M160.2 213.8h0.85M135.9 210.5h0.85M160.5 206.9h0.85M153.9 212.7h0.85M136.4 216.4h0.85M150.2 209.9h0.85M152.5 212.7h0.85M141.4 215.5h0.85M146.0 216.7h0.85M161.1 214.1h0.85M145.2 213.8h0.85M136.0 216.7h0.85M139.8 206.5h0.85M153.7 208.8h0.85M151.2 209.3h0.85M148.6 205.5h0.85M144.0 211.6h0.85M146.8 213.5h0.85M141.1 211.2h0.85M142.3 215.0h0.85M143.2 215.3h0.85M147.0 210.8h0.85M162.9 204.9h0.85M164.3 204.6h0.85M137.9 205.6h0.85M150.0 212.4h0.85M161.0 211.2h0.85M138.4 207.2h0.85M134.2 209.2h0.85M152.9 210.2h0.85M144.6 210.9h0.85M136.0 211.5h0.85M144.4 211.4h0.85M146.0 214.9h0.85M148.1 205.1h0.85M146.2 212.8h0.85M139.9 212.9h0.85M143.0 216.8h0.85M149.7 217.3h0.85M139.4 208.3h0.85M148.4 207.1h0.85M145.8 208.1h0.85M159.0 208.1h0.85M160.6 215.5h0.85M144.9 207.1h0.85M152.6 217.1h0.85M136.8 216.1h0.85M150.1 210.3h0.85M141.5 217.8h0.85M141.2 207.1h0.85M160.5 206.1h0.85M155.2 204.1h0.85M150.1 204.5h0.85M154.6 210.9h0.85M140.7 206.9h0.85M138.8 217.7h0.85M150.1 204.6h0.85M139.3 206.8h0.85M153.9 206.8h0.85M134.0 217.8h0.85M151.8 214.9h0.85M134.3 205.6h0.85M153.1 211.3h0.85M163.4 217.6h0.85M134.7 210.6h0.85M135.0 212.4h0.85M164.9 209.0h0.85M143.5 211.0h0.85M155.1 215.9h0.85M136.1 206.5h0.85M146.5 206.9h0.85M158.0 209.1h0.85M143.7 208.5h0.85M144.0 217.6h0.85M157.1 210.5h0.85M134.6 211.9h0.85M141.0 215.2h0.85M159.8 204.0h0.85M134.3 215.9h0.85M151.1 206.5h0.85M139.7 213.2h0.85M154.1 208.6h0.85M139.3 206.6h0.85M155.5 205.5h0.85M147.5 214.6h0.85M157.5 213.8h0.85M134.4 208.8h0.85M146.9 212.8h0.85M136.7 212.3h0.85M165.2 217.5h0.85M148.0 209.9h0.85M140.5 210.6h0.85M157.5 209.4h0.85M145.1 213.8h0.85M158.6 204.0h0.85M162.6 211.7h0.85M160.1 214.4h0.85M158.4 205.6h0.85M138.1 211.2h0.85M141.3 204.1h0.85M151.5 215.0h0.85M140.9 217.3h0.85M138.0 217.3h0.85M157.5 208.3h0.85" stroke="#0c0c0c" stroke-width="0.85" fill="none"/>
<path d="M108.5 173.8h0.85M108.4 185.7h0.85M111.4 162.8h0.85M116.1 179.2h0.85M109.8 169.9h0.85M118.4 183.5h0.85M114.9 165.7h0.85M110.6 161.5h0.85M108.6 174.8h0.85M107.5 178.6h0.85M111.9 180.3h0.85M111.2 176.8h0.85M120.1 178.1h0.85M109.7 160.6h0.85M111.1 166.4h0.85M113.9 180.1h0.85M117.4 164.3h0.85M109.5 164.1h0.85M113.3 168.9h0.85M110.6 179.7h0.85M115.7 184.8h0.85M108.1 186.7h0.85M112.3 179.5h0.85M117.3 178.3h0.85M120.8 173.8h0.85M109.4 164.6h0.85M119.5 178.3h0.85M110.8 172.9h0.85M118.6 178.5h0.85M117.1 180.0h0.85M118.3 178.0h0.85M122.2 180.6h0.85M113.1 173.4h0.85M122.4 177.2h0.85M116.1 163.6h0.85M106.2 178.0h0.85M112.5 161.1h0.85M112.7 179.3h0.85M108.0 177.9h0.85M117.0 170.6h0.85M113.2 177.9h0.85M118.5 176.3h0.85M117.0 172.3h0.85M116.5 167.7h0.85M109.9 180.4h0.85M115.4 177.9h0.85M118.3 180.9h0.85M112.9 175.8h0.85M112.0 177.0h0.85M110.4 171.7h0.85M111.2 173.3h0.85M117.8 170.1h0.85M112.8 160.8h0.85M111.9 177.0h0.85M108.4 171.1h0.85" stroke="#777" stroke-width="0.85" fill="none"/>
<rect x="105.30" y="154.30" width="63.70" height="64.20" fill="none" stroke="#444" stroke-width="0.65"/>
<line x1="136.40" y1="154.30" x2="136.40" y2="218.50" stroke="#444" stroke-width="0.65" />
<line x1="105.30" y1="188.80" x2="169.00" y2="188.80" stroke="#444" stroke-width="0.65" />
<rect x="29.50" y="156.20" width="10.10" height="6.80" fill="#fff" stroke="none" stroke-width="0"/>
<text x="30.00" y="162.00" text-anchor="start" fill="#000" style="font-size:6.9px;" stroke="#000" stroke-width="0.22">0.8</text>
<rect x="84.20" y="156.20" width="10.10" height="6.80" fill="#fff" stroke="none" stroke-width="0"/>
<text x="93.80" y="162.00" text-anchor="end" fill="#000" style="font-size:6.9px;" stroke="#000" stroke-width="0.22">0.1</text>
<rect x="84.00" y="210.80" width="10.10" height="6.80" fill="#fff" stroke="none" stroke-width="0"/>
<text x="93.60" y="216.60" text-anchor="end" fill="#000" style="font-size:6.9px;" stroke="#000" stroke-width="0.22">0.9</text>
<rect x="106.80" y="155.80" width="10.10" height="6.80" fill="#fff" stroke="none" stroke-width="0"/>
<text x="107.30" y="161.60" text-anchor="start" fill="#000" style="font-size:6.9px;" stroke="#000" stroke-width="0.22">3.7</text>
<rect x="158.60" y="155.80" width="10.10" height="6.80" fill="#fff" stroke="none" stroke-width="0"/>
<text x="168.20" y="161.60" text-anchor="end" fill="#000" style="font-size:6.9px;" stroke="#000" stroke-width="0.22">1.1</text>
<rect x="158.60" y="210.40" width="10.10" height="6.80" fill="#fff" stroke="none" stroke-width="0"/>
<text x="168.20" y="216.20" text-anchor="end" fill="#000" style="font-size:6.9px;" stroke="#000" stroke-width="0.22">6.1</text>
<text x="61.70" y="147.60" text-anchor="middle" fill="#111" style="font-size:9.0px;" stroke="#111" stroke-width="0.2">3/28</text>
<text x="136.20" y="147.60" text-anchor="middle" fill="#111" style="font-size:9.0px;" stroke="#111" stroke-width="0.2">3/5</text>
<line x1="19.25" y1="232.40" x2="19.25" y2="214.00" stroke="#111" stroke-width="0.9" />
<line x1="18.80" y1="232.00" x2="38.00" y2="232.00" stroke="#111" stroke-width="0.9" />
<polygon points="19.25,211 17.1,215.6 21.4,215.6" fill="#111"/>
<polygon points="41.5,232 36.9,229.8 36.9,234.2" fill="#111"/>
<text x="24.54" y="198.70" text-anchor="middle" fill="#111" style="font-size:8.4px;" transform="rotate(-90 24.54 198.70)" stroke="#111" stroke-width="0.16">IL-17</text>
<text x="43.00" y="235.30" text-anchor="start" fill="#111" style="font-size:8.2px;" stroke="#111" stroke-width="0.16">IFN-&#947;</text>
<line x1="222.50" y1="155.35" x2="222.50" y2="222.90" stroke="#231f20" stroke-width="0.8" />
<line x1="220.30" y1="222.50" x2="222.50" y2="222.50" stroke="#231f20" stroke-width="0.8" />
<text x="219.50" y="224.88" text-anchor="end" fill="#231f20" style="font-size:6.6px;font-weight:bold;" stroke="#231f20" stroke-width="0.16">0</text>
<line x1="220.30" y1="209.15" x2="222.50" y2="209.15" stroke="#231f20" stroke-width="0.8" />
<text x="219.50" y="211.53" text-anchor="end" fill="#231f20" style="font-size:6.6px;font-weight:bold;" stroke="#231f20" stroke-width="0.16">1</text>
<line x1="220.30" y1="195.80" x2="222.50" y2="195.80" stroke="#231f20" stroke-width="0.8" />
<text x="219.50" y="198.18" text-anchor="end" fill="#231f20" style="font-size:6.6px;font-weight:bold;" stroke="#231f20" stroke-width="0.16">2</text>
<line x1="220.30" y1="182.45" x2="222.50" y2="182.45" stroke="#231f20" stroke-width="0.8" />
<text x="219.50" y="184.83" text-anchor="end" fill="#231f20" style="font-size:6.6px;font-weight:bold;" stroke="#231f20" stroke-width="0.16">3</text>
<line x1="220.30" y1="169.10" x2="222.50" y2="169.10" stroke="#231f20" stroke-width="0.8" />
<text x="219.50" y="171.48" text-anchor="end" fill="#231f20" style="font-size:6.6px;font-weight:bold;" stroke="#231f20" stroke-width="0.16">4</text>
<line x1="220.30" y1="155.75" x2="222.50" y2="155.75" stroke="#231f20" stroke-width="0.8" />
<text x="219.50" y="158.13" text-anchor="end" fill="#231f20" style="font-size:6.6px;font-weight:bold;" stroke="#231f20" stroke-width="0.16">5</text>
<line x1="219.50" y1="222.50" x2="307.00" y2="222.50" stroke="#231f20" stroke-width="0.8" />
<line x1="243.25" y1="222.50" x2="243.25" y2="224.50" stroke="#231f20" stroke-width="0.8" />
<line x1="286.25" y1="222.50" x2="286.25" y2="224.50" stroke="#231f20" stroke-width="0.8" />
<text x="243.00" y="231.00" text-anchor="middle" fill="#231f20" style="font-size:6.6px;" stroke="#231f20" stroke-width="0.16">3/28</text>
<text x="286.00" y="231.00" text-anchor="middle" fill="#231f20" style="font-size:6.6px;" stroke="#231f20" stroke-width="0.16">3/5</text>
<text x="209.54" y="189.00" text-anchor="middle" fill="#231f20" style="font-size:6.4px;font-weight:bold;" transform="rotate(-90 209.54 189.00)" stroke="#231f20" stroke-width="0.16">IL-17<tspan dy="-2" font-size="4.5">+</tspan><tspan dy="2"> cells (%)</tspan></text>
<polyline points="238.75,155.00 238.75,153.00 286.25,153.00 286.25,155.00" fill="none" stroke="#231f20" stroke-width="0.7"/>
<text x="263.00" y="151.30" text-anchor="middle" fill="#231f20" style="font-size:6.4px;" stroke="#231f20" stroke-width="0.16">p&lt;0.0001</text>
<line x1="228.75" y1="214.25" x2="257.50" y2="214.25" stroke="#231f20" stroke-width="0.8" />
<line x1="272.00" y1="190.50" x2="300.00" y2="190.50" stroke="#231f20" stroke-width="0.8" />
<polygon points="231.25,205.78 229.90,208.22 232.60,208.22" fill="#231f20"/>
<polygon points="235.50,207.03 234.15,209.47 236.85,209.47" fill="#231f20"/>
<polygon points="239.50,209.28 238.15,211.72 240.85,211.72" fill="#231f20"/>
<polygon points="243.25,209.28 241.90,211.72 244.60,211.72" fill="#231f20"/>
<polygon points="247.50,209.28 246.15,211.72 248.85,211.72" fill="#231f20"/>
<polygon points="251.75,207.03 250.40,209.47 253.10,209.47" fill="#231f20"/>
<polygon points="255.50,207.03 254.15,209.47 256.85,209.47" fill="#231f20"/>
<polygon points="229.50,213.28 228.15,215.72 230.85,215.72" fill="#231f20"/>
<polygon points="235.50,213.28 234.15,215.72 236.85,215.72" fill="#231f20"/>
<polygon points="239.50,214.28 238.15,216.72 240.85,216.72" fill="#231f20"/>
<polygon points="243.25,214.78 241.90,217.22 244.60,217.22" fill="#231f20"/>
<polygon points="247.50,214.28 246.15,216.72 248.85,216.72" fill="#231f20"/>
<polygon points="251.75,212.78 250.40,215.22 253.10,215.22" fill="#231f20"/>
<polygon points="231.25,217.53 229.90,219.97 232.60,219.97" fill="#231f20"/>
<polygon points="235.00,218.28 233.65,220.72 236.35,220.72" fill="#231f20"/>
<polygon points="239.25,219.28 237.90,221.72 240.60,221.72" fill="#231f20"/>
<polygon points="243.25,220.28 241.90,222.72 244.60,222.72" fill="#231f20"/>
<polygon points="247.50,219.78 246.15,222.22 248.85,222.22" fill="#231f20"/>
<polygon points="251.75,218.28 250.40,220.72 253.10,220.72" fill="#231f20"/>
<polygon points="255.50,217.53 254.15,219.97 256.85,219.97" fill="#231f20"/>
<rect x="284.90" y="162.40" width="2.7" height="2.7" rx="0.5" fill="#231f20"/>
<rect x="288.65" y="161.15" width="2.7" height="2.7" rx="0.5" fill="#231f20"/>
<rect x="281.15" y="173.15" width="2.7" height="2.7" rx="0.5" fill="#231f20"/>
<rect x="284.90" y="174.90" width="2.7" height="2.7" rx="0.5" fill="#231f20"/>
<rect x="288.65" y="173.15" width="2.7" height="2.7" rx="0.5" fill="#231f20"/>
<rect x="281.15" y="183.65" width="2.7" height="2.7" rx="0.5" fill="#231f20"/>
<rect x="288.65" y="183.65" width="2.7" height="2.7" rx="0.5" fill="#231f20"/>
<rect x="292.40" y="183.65" width="2.7" height="2.7" rx="0.5" fill="#231f20"/>
<rect x="284.90" y="186.65" width="2.7" height="2.7" rx="0.5" fill="#231f20"/>
<rect x="281.15" y="189.15" width="2.7" height="2.7" rx="0.5" fill="#231f20"/>
<rect x="284.90" y="191.15" width="2.7" height="2.7" rx="0.5" fill="#231f20"/>
<rect x="284.90" y="195.65" width="2.7" height="2.7" rx="0.5" fill="#231f20"/>
<rect x="288.65" y="194.90" width="2.7" height="2.7" rx="0.5" fill="#231f20"/>
<rect x="284.90" y="199.90" width="2.7" height="2.7" rx="0.5" fill="#231f20"/>
<rect x="281.15" y="205.65" width="2.7" height="2.7" rx="0.5" fill="#231f20"/>
<rect x="284.90" y="207.40" width="2.7" height="2.7" rx="0.5" fill="#231f20"/>
<rect x="281.15" y="209.90" width="2.7" height="2.7" rx="0.5" fill="#231f20"/>
<rect x="284.90" y="212.40" width="2.7" height="2.7" rx="0.5" fill="#231f20"/>
<rect x="288.65" y="209.90" width="2.7" height="2.7" rx="0.5" fill="#231f20"/>
<line x1="355.00" y1="155.25" x2="355.00" y2="221.65" stroke="#231f20" stroke-width="0.8" />
<line x1="352.80" y1="221.25" x2="355.00" y2="221.25" stroke="#231f20" stroke-width="0.8" />
<text x="352.00" y="223.77" text-anchor="end" fill="#231f20" style="font-size:7px;font-weight:bold;" stroke="#231f20" stroke-width="0.16">0</text>
<line x1="352.80" y1="204.85" x2="355.00" y2="204.85" stroke="#231f20" stroke-width="0.8" />
<text x="352.00" y="207.37" text-anchor="end" fill="#231f20" style="font-size:7px;font-weight:bold;" stroke="#231f20" stroke-width="0.16">10</text>
<line x1="352.80" y1="188.45" x2="355.00" y2="188.45" stroke="#231f20" stroke-width="0.8" />
<text x="352.00" y="190.97" text-anchor="end" fill="#231f20" style="font-size:7px;font-weight:bold;" stroke="#231f20" stroke-width="0.16">20</text>
<line x1="352.80" y1="172.05" x2="355.00" y2="172.05" stroke="#231f20" stroke-width="0.8" />
<text x="352.00" y="174.57" text-anchor="end" fill="#231f20" style="font-size:7px;font-weight:bold;" stroke="#231f20" stroke-width="0.16">30</text>
<line x1="352.80" y1="155.65" x2="355.00" y2="155.65" stroke="#231f20" stroke-width="0.8" />
<text x="352.00" y="158.17" text-anchor="end" fill="#231f20" style="font-size:7px;font-weight:bold;" stroke="#231f20" stroke-width="0.16">40</text>
<line x1="354.60" y1="221.25" x2="469.50" y2="221.25" stroke="#231f20" stroke-width="0.8" />
<line x1="355.00" y1="221.25" x2="355.00" y2="223.45" stroke="#231f20" stroke-width="0.8" />
<text x="355.00" y="230.60" text-anchor="middle" fill="#231f20" style="font-size:7px;font-weight:bold;" stroke="#231f20" stroke-width="0.16">0</text>
<line x1="375.85" y1="221.25" x2="375.85" y2="223.45" stroke="#231f20" stroke-width="0.8" />
<text x="375.85" y="230.60" text-anchor="middle" fill="#231f20" style="font-size:7px;font-weight:bold;" stroke="#231f20" stroke-width="0.16">1</text>
<line x1="396.70" y1="221.25" x2="396.70" y2="223.45" stroke="#231f20" stroke-width="0.8" />
<text x="396.70" y="230.60" text-anchor="middle" fill="#231f20" style="font-size:7px;font-weight:bold;" stroke="#231f20" stroke-width="0.16">2</text>
<line x1="417.55" y1="221.25" x2="417.55" y2="223.45" stroke="#231f20" stroke-width="0.8" />
<text x="417.55" y="230.60" text-anchor="middle" fill="#231f20" style="font-size:7px;font-weight:bold;" stroke="#231f20" stroke-width="0.16">3</text>
<line x1="438.40" y1="221.25" x2="438.40" y2="223.45" stroke="#231f20" stroke-width="0.8" />
<text x="438.40" y="230.60" text-anchor="middle" fill="#231f20" style="font-size:7px;font-weight:bold;" stroke="#231f20" stroke-width="0.16">4</text>
<line x1="459.25" y1="221.25" x2="459.25" y2="223.45" stroke="#231f20" stroke-width="0.8" />
<text x="459.25" y="230.60" text-anchor="middle" fill="#231f20" style="font-size:7px;font-weight:bold;" stroke="#231f20" stroke-width="0.16">5</text>
<text x="412.50" y="239.00" text-anchor="middle" fill="#231f20" style="font-size:6.8px;font-weight:bold;" stroke="#231f20" stroke-width="0.16">IL-17<tspan dy="-2.2" font-size="4.8">+</tspan><tspan dy="2.2"> cells (%)</tspan></text>
<text x="341.18" y="188.50" text-anchor="middle" fill="#231f20" style="font-size:6.8px;font-weight:bold;" transform="rotate(-90 341.18 188.50)" stroke="#231f20" stroke-width="0.16">IL-17 (ng/ml)</text>
<line x1="360.50" y1="160.90" x2="367.50" y2="160.90" stroke="#e03a2c" stroke-width="0.8" />
<polygon points="364.00,159.53 362.70,161.87 365.30,161.87" fill="#e03a2c"/>
<text x="371.30" y="163.30" text-anchor="start" fill="#e03a2c" style="font-size:6.6px;" stroke="#e03a2c" stroke-width="0.16">3/28</text>
<line x1="360.50" y1="168.40" x2="367.50" y2="168.40" stroke="#231f20" stroke-width="0.8" />
<rect x="362.70" y="167.10" width="2.6" height="2.6" rx="0.5" fill="#231f20"/>
<text x="371.30" y="170.80" text-anchor="start" fill="#231f20" style="font-size:6.6px;" stroke="#231f20" stroke-width="0.16">3/5</text>
<line x1="373.75" y1="221.00" x2="459.25" y2="182.50" stroke="#231f20" stroke-width="0.9" />
<line x1="355.00" y1="219.60" x2="459.25" y2="217.50" stroke="#e03a2c" stroke-width="0.9" />
<text x="412.00" y="178.40" text-anchor="start" fill="#3a3637" style="font-size:6.9px;" stroke="#3a3637" stroke-width="0.16">R=0.78</text>
<text x="412.00" y="185.40" text-anchor="start" fill="#3a3637" style="font-size:6.9px;" stroke="#3a3637" stroke-width="0.16">P=0.0002</text>
<text x="441.30" y="205.80" text-anchor="start" fill="#e03a2c" style="font-size:6.9px;" stroke="#e03a2c" stroke-width="0.16">R=0.21</text>
<text x="441.30" y="212.80" text-anchor="start" fill="#e03a2c" style="font-size:6.9px;" stroke="#e03a2c" stroke-width="0.16">P=0.3982</text>
<rect x="445.00" y="170.75" width="2.5" height="2.5" rx="0.5" fill="#231f20"/>
<rect x="448.00" y="175.00" width="2.5" height="2.5" rx="0.5" fill="#231f20"/>
<rect x="378.75" y="203.25" width="2.5" height="2.5" rx="0.5" fill="#231f20"/>
<rect x="389.25" y="208.25" width="2.5" height="2.5" rx="0.5" fill="#231f20"/>
<rect x="395.00" y="213.00" width="2.5" height="2.5" rx="0.5" fill="#231f20"/>
<rect x="403.75" y="203.75" width="2.5" height="2.5" rx="0.5" fill="#231f20"/>
<rect x="403.75" y="210.00" width="2.5" height="2.5" rx="0.5" fill="#231f20"/>
<rect x="411.75" y="201.25" width="2.5" height="2.5" rx="0.5" fill="#231f20"/>
<rect x="411.25" y="203.00" width="2.5" height="2.5" rx="0.5" fill="#231f20"/>
<rect x="408.25" y="216.75" width="2.5" height="2.5" rx="0.5" fill="#231f20"/>
<rect x="412.50" y="213.25" width="2.5" height="2.5" rx="0.5" fill="#231f20"/>
<rect x="422.50" y="215.75" width="2.5" height="2.5" rx="0.5" fill="#231f20"/>
<rect x="372.50" y="215.75" width="2.5" height="2.5" rx="0.5" fill="#231f20"/>
<rect x="370.00" y="217.75" width="2.5" height="2.5" rx="0.5" fill="#231f20"/>
<rect x="366.25" y="219.50" width="2.5" height="2.5" rx="0.5" fill="#231f20"/>
<rect x="357.50" y="220.00" width="2.5" height="2.5" rx="0.5" fill="#231f20"/>
<rect x="370.00" y="219.50" width="2.5" height="2.5" rx="0.5" fill="#231f20"/>
<rect x="378.25" y="216.75" width="2.5" height="2.5" rx="0.5" fill="#231f20"/>
<polygon points="356.25,218.22 355.10,220.28 357.40,220.28" fill="#e03a2c"/>
<polygon points="357.50,219.72 356.35,221.78 358.65,221.78" fill="#e03a2c"/>
<polygon points="361.25,219.72 360.10,221.78 362.40,221.78" fill="#e03a2c"/>
<polygon points="364.50,219.97 363.35,222.03 365.65,222.03" fill="#e03a2c"/>
<polygon points="367.50,215.72 366.35,217.78 368.65,217.78" fill="#e03a2c"/>
<polygon points="368.75,219.22 367.60,221.28 369.90,221.28" fill="#e03a2c"/>
<polygon points="373.75,218.97 372.60,221.03 374.90,221.03" fill="#e03a2c"/>
<polygon points="377.00,218.47 375.85,220.53 378.15,220.53" fill="#e03a2c"/>
<polygon points="378.75,217.72 377.60,219.78 379.90,219.78" fill="#e03a2c"/>
<polygon points="380.00,219.22 378.85,221.28 381.15,221.28" fill="#e03a2c"/>
<polygon points="385.50,219.72 384.35,221.78 386.65,221.78" fill="#e03a2c"/>
<polygon points="392.50,220.22 391.35,222.28 393.65,222.28" fill="#e03a2c"/>
<polygon points="395.00,220.22 393.85,222.28 396.15,222.28" fill="#e03a2c"/>
<line x1="37.00" y1="264.00" x2="37.00" y2="350.40" stroke="#231f20" stroke-width="0.8" />
<line x1="34.80" y1="350.00" x2="37.00" y2="350.00" stroke="#231f20" stroke-width="0.8" />
<text x="34.00" y="352.38" text-anchor="end" fill="#231f20" style="font-size:6.6px;font-weight:bold;" stroke="#231f20" stroke-width="0.16">0</text>
<line x1="34.80" y1="328.60" x2="37.00" y2="328.60" stroke="#231f20" stroke-width="0.8" />
<text x="34.00" y="330.98" text-anchor="end" fill="#231f20" style="font-size:6.6px;font-weight:bold;" stroke="#231f20" stroke-width="0.16">200</text>
<line x1="34.80" y1="307.20" x2="37.00" y2="307.20" stroke="#231f20" stroke-width="0.8" />
<text x="34.00" y="309.58" text-anchor="end" fill="#231f20" style="font-size:6.6px;font-weight:bold;" stroke="#231f20" stroke-width="0.16">400</text>
<line x1="34.80" y1="285.80" x2="37.00" y2="285.80" stroke="#231f20" stroke-width="0.8" />
<text x="34.00" y="288.18" text-anchor="end" fill="#231f20" style="font-size:6.6px;font-weight:bold;" stroke="#231f20" stroke-width="0.16">600</text>
<line x1="34.80" y1="264.40" x2="37.00" y2="264.40" stroke="#231f20" stroke-width="0.8" />
<text x="34.00" y="266.78" text-anchor="end" fill="#231f20" style="font-size:6.6px;font-weight:bold;" stroke="#231f20" stroke-width="0.16">800</text>
<line x1="36.60" y1="350.00" x2="117.50" y2="350.00" stroke="#231f20" stroke-width="0.8" />
<rect x="41.30" y="348.20" width="8.70" height="1.80" fill="#c3c3c3" stroke="#231f20" stroke-width="0.7"/>
<rect x="52.50" y="347.70" width="8.30" height="2.30" fill="#c3c3c3" stroke="#231f20" stroke-width="0.7"/>
<rect x="63.00" y="342.00" width="8.80" height="8.00" fill="#c3c3c3" stroke="#231f20" stroke-width="0.7"/>
<rect x="82.50" y="348.20" width="8.80" height="1.80" fill="#231f20" stroke="#231f20" stroke-width="0.7"/>
<rect x="93.00" y="342.00" width="9.00" height="8.00" fill="#231f20" stroke="#231f20" stroke-width="0.7"/>
<rect x="103.80" y="290.80" width="9.20" height="59.20" fill="#231f20" stroke="#231f20" stroke-width="0.7"/>
<line x1="108.40" y1="290.80" x2="108.40" y2="285.00" stroke="#231f20" stroke-width="0.8" />
<line x1="106.20" y1="285.00" x2="110.60" y2="285.00" stroke="#231f20" stroke-width="0.8" />
<text x="19.20" y="306.60" text-anchor="middle" fill="#231f20" style="font-size:6.3px;font-weight:bold;" transform="rotate(-90 19.20 306.60)" stroke="#231f20" stroke-width="0.16">relative units</text>
<text x="72.30" y="253.20" text-anchor="middle" fill="#231f20" style="font-size:6.4px;font-weight:bold;font-style:italic;" stroke="#231f20" stroke-width="0.16">IL17A</text>
<text x="38.80" y="359.50" text-anchor="end" fill="#231f20" style="font-size:7px;font-weight:bold;" stroke="#231f20" stroke-width="0.16">day</text>
<text x="45.70" y="359.50" text-anchor="middle" fill="#231f20" style="font-size:7px;font-weight:bold;" stroke="#231f20" stroke-width="0.16">3</text>
<text x="56.70" y="359.50" text-anchor="middle" fill="#231f20" style="font-size:7px;font-weight:bold;" stroke="#231f20" stroke-width="0.16">6</text>
<text x="67.40" y="359.50" text-anchor="middle" fill="#231f20" style="font-size:7px;font-weight:bold;" stroke="#231f20" stroke-width="0.16">11</text>
<text x="86.90" y="359.50" text-anchor="middle" fill="#231f20" style="font-size:7px;font-weight:bold;" stroke="#231f20" stroke-width="0.16">3</text>
<text x="97.50" y="359.50" text-anchor="middle" fill="#231f20" style="font-size:7px;font-weight:bold;" stroke="#231f20" stroke-width="0.16">6</text>
<text x="108.40" y="359.50" text-anchor="middle" fill="#231f20" style="font-size:7px;font-weight:bold;" stroke="#231f20" stroke-width="0.16">11</text>
<line x1="42.00" y1="364.00" x2="71.30" y2="364.00" stroke="#231f20" stroke-width="0.7" />
<line x1="83.30" y1="364.00" x2="112.50" y2="364.00" stroke="#231f20" stroke-width="0.7" />
<text x="56.30" y="372.40" text-anchor="middle" fill="#231f20" style="font-size:6.6px;" stroke="#231f20" stroke-width="0.16">3/28</text>
<text x="98.30" y="372.40" text-anchor="middle" fill="#231f20" style="font-size:6.6px;" stroke="#231f20" stroke-width="0.16">3/5</text>
<line x1="163.75" y1="264.60" x2="163.75" y2="350.40" stroke="#231f20" stroke-width="0.8" />
<line x1="161.55" y1="350.00" x2="163.75" y2="350.00" stroke="#231f20" stroke-width="0.8" />
<text x="160.75" y="352.38" text-anchor="end" fill="#231f20" style="font-size:6.6px;font-weight:bold;" stroke="#231f20" stroke-width="0.16">0</text>
<line x1="161.55" y1="333.00" x2="163.75" y2="333.00" stroke="#231f20" stroke-width="0.8" />
<text x="160.75" y="335.38" text-anchor="end" fill="#231f20" style="font-size:6.6px;font-weight:bold;" stroke="#231f20" stroke-width="0.16">1000</text>
<line x1="161.55" y1="316.00" x2="163.75" y2="316.00" stroke="#231f20" stroke-width="0.8" />
<text x="160.75" y="318.38" text-anchor="end" fill="#231f20" style="font-size:6.6px;font-weight:bold;" stroke="#231f20" stroke-width="0.16">2000</text>
<line x1="161.55" y1="299.00" x2="163.75" y2="299.00" stroke="#231f20" stroke-width="0.8" />
<text x="160.75" y="301.38" text-anchor="end" fill="#231f20" style="font-size:6.6px;font-weight:bold;" stroke="#231f20" stroke-width="0.16">3000</text>
<line x1="161.55" y1="282.00" x2="163.75" y2="282.00" stroke="#231f20" stroke-width="0.8" />
<text x="160.75" y="284.38" text-anchor="end" fill="#231f20" style="font-size:6.6px;font-weight:bold;" stroke="#231f20" stroke-width="0.16">4000</text>
<line x1="161.55" y1="265.00" x2="163.75" y2="265.00" stroke="#231f20" stroke-width="0.8" />
<text x="160.75" y="267.38" text-anchor="end" fill="#231f20" style="font-size:6.6px;font-weight:bold;" stroke="#231f20" stroke-width="0.16">5000</text>
<line x1="163.35" y1="350.00" x2="245.00" y2="350.00" stroke="#231f20" stroke-width="0.8" />
<rect x="168.30" y="344.50" width="8.70" height="5.50" fill="#c3c3c3" stroke="#231f20" stroke-width="0.7"/>
<rect x="179.30" y="346.50" width="8.20" height="3.50" fill="#c3c3c3" stroke="#231f20" stroke-width="0.7"/>
<rect x="190.00" y="330.00" width="8.30" height="20.00" fill="#c3c3c3" stroke="#231f20" stroke-width="0.7"/>
<rect x="209.50" y="345.80" width="8.50" height="4.20" fill="#231f20" stroke="#231f20" stroke-width="0.7"/>
<rect x="220.00" y="345.00" width="8.80" height="5.00" fill="#231f20" stroke="#231f20" stroke-width="0.7"/>
<rect x="230.80" y="282.50" width="9.20" height="67.50" fill="#231f20" stroke="#231f20" stroke-width="0.7"/>
<line x1="224.40" y1="345.00" x2="224.40" y2="343.20" stroke="#231f20" stroke-width="0.8" />
<line x1="222.60" y1="343.20" x2="226.20" y2="343.20" stroke="#231f20" stroke-width="0.8" />
<line x1="235.40" y1="282.50" x2="235.40" y2="273.30" stroke="#231f20" stroke-width="0.8" />
<line x1="233.20" y1="273.30" x2="237.60" y2="273.30" stroke="#231f20" stroke-width="0.8" />
<text x="142.21" y="307.50" text-anchor="middle" fill="#231f20" style="font-size:6.3px;font-weight:bold;" transform="rotate(-90 142.21 307.50)" stroke="#231f20" stroke-width="0.16">relative units</text>
<text x="198.00" y="249.00" text-anchor="middle" fill="#231f20" style="font-size:6.4px;font-weight:bold;font-style:italic;" stroke="#231f20" stroke-width="0.16">IL17F</text>
<text x="167.00" y="359.50" text-anchor="end" fill="#231f20" style="font-size:7px;font-weight:bold;" stroke="#231f20" stroke-width="0.16">day</text>
<text x="172.70" y="359.50" text-anchor="middle" fill="#231f20" style="font-size:7px;font-weight:bold;" stroke="#231f20" stroke-width="0.16">3</text>
<text x="183.40" y="359.50" text-anchor="middle" fill="#231f20" style="font-size:7px;font-weight:bold;" stroke="#231f20" stroke-width="0.16">6</text>
<text x="194.20" y="359.50" text-anchor="middle" fill="#231f20" style="font-size:7px;font-weight:bold;" stroke="#231f20" stroke-width="0.16">11</text>
<text x="213.80" y="359.50" text-anchor="middle" fill="#231f20" style="font-size:7px;font-weight:bold;" stroke="#231f20" stroke-width="0.16">3</text>
<text x="224.40" y="359.50" text-anchor="middle" fill="#231f20" style="font-size:7px;font-weight:bold;" stroke="#231f20" stroke-width="0.16">6</text>
<text x="235.40" y="359.50" text-anchor="middle" fill="#231f20" style="font-size:7px;font-weight:bold;" stroke="#231f20" stroke-width="0.16">11</text>
<line x1="168.80" y1="364.00" x2="197.50" y2="364.00" stroke="#231f20" stroke-width="0.7" />
<line x1="210.00" y1="364.00" x2="239.50" y2="364.00" stroke="#231f20" stroke-width="0.7" />
<text x="183.80" y="372.40" text-anchor="middle" fill="#231f20" style="font-size:6.6px;" stroke="#231f20" stroke-width="0.16">3/28</text>
<text x="225.00" y="372.40" text-anchor="middle" fill="#231f20" style="font-size:6.6px;" stroke="#231f20" stroke-width="0.16">3/5</text>
<line x1="306.75" y1="264.10" x2="306.75" y2="349.90" stroke="#231f20" stroke-width="0.8" />
<line x1="304.55" y1="349.50" x2="306.75" y2="349.50" stroke="#231f20" stroke-width="0.8" />
<text x="303.75" y="351.88" text-anchor="end" fill="#231f20" style="font-size:6.6px;font-weight:bold;" stroke="#231f20" stroke-width="0.16">0</text>
<line x1="304.55" y1="332.50" x2="306.75" y2="332.50" stroke="#231f20" stroke-width="0.8" />
<text x="303.75" y="334.88" text-anchor="end" fill="#231f20" style="font-size:6.6px;font-weight:bold;" stroke="#231f20" stroke-width="0.16">20</text>
<line x1="304.55" y1="315.50" x2="306.75" y2="315.50" stroke="#231f20" stroke-width="0.8" />
<text x="303.75" y="317.88" text-anchor="end" fill="#231f20" style="font-size:6.6px;font-weight:bold;" stroke="#231f20" stroke-width="0.16">40</text>
<line x1="304.55" y1="298.50" x2="306.75" y2="298.50" stroke="#231f20" stroke-width="0.8" />
<text x="303.75" y="300.88" text-anchor="end" fill="#231f20" style="font-size:6.6px;font-weight:bold;" stroke="#231f20" stroke-width="0.16">60</text>
<line x1="304.55" y1="281.50" x2="306.75" y2="281.50" stroke="#231f20" stroke-width="0.8" />
<text x="303.75" y="283.88" text-anchor="end" fill="#231f20" style="font-size:6.6px;font-weight:bold;" stroke="#231f20" stroke-width="0.16">80</text>
<line x1="304.55" y1="264.50" x2="306.75" y2="264.50" stroke="#231f20" stroke-width="0.8" />
<text x="303.75" y="266.88" text-anchor="end" fill="#231f20" style="font-size:6.6px;font-weight:bold;" stroke="#231f20" stroke-width="0.16">100</text>
<line x1="306.35" y1="349.50" x2="411.30" y2="349.50" stroke="#231f20" stroke-width="0.8" />
<line x1="327.50" y1="349.50" x2="327.50" y2="351.70" stroke="#231f20" stroke-width="0.8" />
<text x="327.50" y="359.00" text-anchor="middle" fill="#231f20" style="font-size:6.8px;font-weight:bold;" stroke="#231f20" stroke-width="0.16">0.1</text>
<line x1="362.00" y1="349.50" x2="362.00" y2="351.70" stroke="#231f20" stroke-width="0.8" />
<text x="362.00" y="359.00" text-anchor="middle" fill="#231f20" style="font-size:6.8px;font-weight:bold;" stroke="#231f20" stroke-width="0.16">0.3</text>
<line x1="399.25" y1="349.50" x2="399.25" y2="351.70" stroke="#231f20" stroke-width="0.8" />
<text x="399.25" y="359.00" text-anchor="middle" fill="#231f20" style="font-size:6.8px;font-weight:bold;" stroke="#231f20" stroke-width="0.16">1</text>
<text x="359.60" y="369.20" text-anchor="middle" fill="#231f20" style="font-size:6.3px;font-weight:bold;" stroke="#231f20" stroke-width="0.16">costimulatory mAbs (&#181;g/ml)</text>
<text x="290.09" y="306.20" text-anchor="middle" fill="#231f20" style="font-size:7.4px;" transform="rotate(-90 290.09 306.20)" stroke="#231f20" stroke-width="0.16">% proliferation</text>
<polyline points="306.75,345.50 327.50,341.00 362.00,300.80 399.25,276.80" fill="none" stroke="#231f20" stroke-width="0.8"/>
<polyline points="306.75,345.50 327.50,344.30 362.00,307.00 399.25,286.30" fill="none" stroke="#231f20" stroke-width="0.8"/>
<polyline points="306.75,345.50 327.50,344.60 362.00,340.80 399.25,344.00" fill="none" stroke="#231f20" stroke-width="0.8"/>
<line x1="327.50" y1="334.50" x2="327.50" y2="347.00" stroke="#231f20" stroke-width="0.7" />
<line x1="325.80" y1="334.50" x2="329.20" y2="334.50" stroke="#231f20" stroke-width="0.7" />
<line x1="325.80" y1="347.00" x2="329.20" y2="347.00" stroke="#231f20" stroke-width="0.7" />
<line x1="362.00" y1="293.80" x2="362.00" y2="306.50" stroke="#231f20" stroke-width="0.7" />
<line x1="360.30" y1="293.80" x2="363.70" y2="293.80" stroke="#231f20" stroke-width="0.7" />
<line x1="360.30" y1="306.50" x2="363.70" y2="306.50" stroke="#231f20" stroke-width="0.7" />
<line x1="399.25" y1="282.00" x2="399.25" y2="290.80" stroke="#231f20" stroke-width="0.7" />
<line x1="397.55" y1="282.00" x2="400.95" y2="282.00" stroke="#231f20" stroke-width="0.7" />
<line x1="397.55" y1="290.80" x2="400.95" y2="290.80" stroke="#231f20" stroke-width="0.7" />
<polygon points="306.75,344.42 305.55,346.58 307.95,346.58" fill="#231f20"/>
<polygon points="327.50,339.92 326.30,342.08 328.70,342.08" fill="#231f20"/>
<polygon points="362.00,299.72 360.80,301.88 363.20,301.88" fill="#231f20"/>
<polygon points="399.25,275.72 398.05,277.88 400.45,277.88" fill="#231f20"/>
<rect x="305.55" y="344.30" width="2.4" height="2.4" rx="0.5" fill="#231f20"/>
<rect x="326.30" y="343.10" width="2.4" height="2.4" rx="0.5" fill="#231f20"/>
<rect x="360.80" y="305.80" width="2.4" height="2.4" rx="0.5" fill="#231f20"/>
<rect x="398.05" y="285.10" width="2.4" height="2.4" rx="0.5" fill="#231f20"/>
<circle cx="306.75" cy="345.50" r="1.4" fill="#231f20"/>
<circle cx="327.50" cy="344.60" r="1.4" fill="#231f20"/>
<circle cx="362.00" cy="340.80" r="1.4" fill="#231f20"/>
<circle cx="399.25" cy="344.00" r="1.4" fill="#231f20"/>
<line x1="311.50" y1="270.00" x2="317.50" y2="270.00" stroke="#231f20" stroke-width="0.8" />
<polygon points="314.50,268.96 313.35,271.04 315.65,271.04" fill="#231f20"/>
<text x="322.50" y="272.40" text-anchor="start" fill="#231f20" style="font-size:6.6px;font-weight:bold;" stroke="#231f20" stroke-width="0.16">3/28</text>
<line x1="311.50" y1="277.00" x2="317.50" y2="277.00" stroke="#231f20" stroke-width="0.8" />
<rect x="313.35" y="275.85" width="2.3" height="2.3" rx="0.5" fill="#231f20"/>
<text x="322.50" y="279.40" text-anchor="start" fill="#231f20" style="font-size:6.6px;font-weight:bold;" stroke="#231f20" stroke-width="0.16">3/5</text>
<line x1="311.50" y1="283.80" x2="317.50" y2="283.80" stroke="#231f20" stroke-width="0.8" />
<circle cx="314.50" cy="283.80" r="1.2" fill="#231f20"/>
<text x="322.50" y="286.20" text-anchor="start" fill="#231f20" style="font-size:6.6px;font-weight:bold;" stroke="#231f20" stroke-width="0.16">3/Betv1</text>
</g>
</svg>
</body></html>
